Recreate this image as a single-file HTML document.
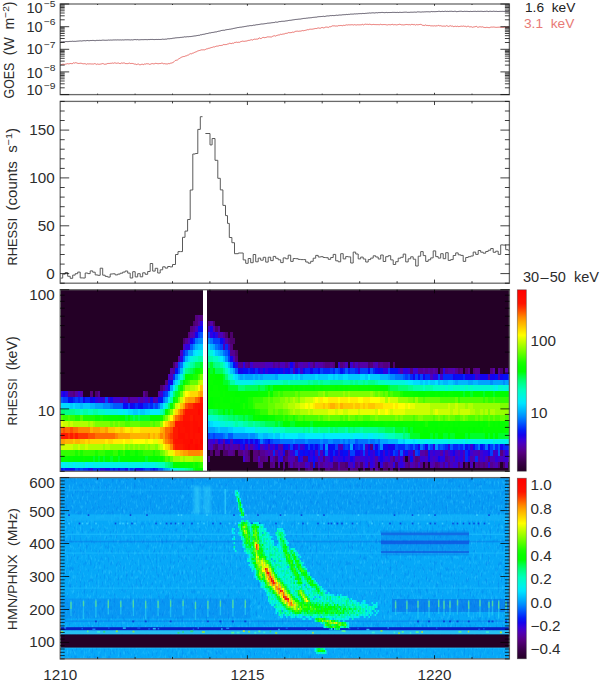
<!DOCTYPE html><html><head><meta charset="utf-8"><style>html,body{margin:0;padding:0;background:#fff;width:600px;height:680px;overflow:hidden}svg{display:block}text{font-family:"Liberation Sans",sans-serif}</style></head><body><svg width="600" height="680" viewBox="0 0 600 680"><defs><linearGradient id="cb" x1="0" y1="0" x2="0" y2="1"><stop offset="0.000" stop-color="#ff0000"/><stop offset="0.025" stop-color="#ff0600"/><stop offset="0.050" stop-color="#ff0d00"/><stop offset="0.075" stop-color="#ff1300"/><stop offset="0.100" stop-color="#ff3400"/><stop offset="0.125" stop-color="#ff5d00"/><stop offset="0.150" stop-color="#ff8600"/><stop offset="0.175" stop-color="#ffa800"/><stop offset="0.200" stop-color="#ffc500"/><stop offset="0.225" stop-color="#ffe200"/><stop offset="0.250" stop-color="#ffff00"/><stop offset="0.275" stop-color="#d7ff00"/><stop offset="0.300" stop-color="#b0ff00"/><stop offset="0.325" stop-color="#8aff00"/><stop offset="0.350" stop-color="#64ff00"/><stop offset="0.375" stop-color="#3eff00"/><stop offset="0.400" stop-color="#19ff00"/><stop offset="0.425" stop-color="#06ff00"/><stop offset="0.450" stop-color="#00ff00"/><stop offset="0.475" stop-color="#00ff3e"/><stop offset="0.500" stop-color="#00ff73"/><stop offset="0.525" stop-color="#00ff99"/><stop offset="0.550" stop-color="#00ffbe"/><stop offset="0.575" stop-color="#00f8d5"/><stop offset="0.600" stop-color="#00f1ec"/><stop offset="0.625" stop-color="#00e5ff"/><stop offset="0.650" stop-color="#00c9ff"/><stop offset="0.675" stop-color="#00acff"/><stop offset="0.700" stop-color="#008cff"/><stop offset="0.725" stop-color="#0067ff"/><stop offset="0.750" stop-color="#0141fd"/><stop offset="0.775" stop-color="#031cf8"/><stop offset="0.800" stop-color="#1403ee"/><stop offset="0.825" stop-color="#3600db"/><stop offset="0.850" stop-color="#4c00bb"/><stop offset="0.875" stop-color="#55009c"/><stop offset="0.900" stop-color="#55007d"/><stop offset="0.925" stop-color="#480064"/><stop offset="0.950" stop-color="#3a004b"/><stop offset="0.975" stop-color="#2f0038"/><stop offset="1.000" stop-color="#240026"/></linearGradient><filter id="bl" x="-20%" y="-20%" width="140%" height="140%"><feGaussianBlur stdDeviation="1.5"/></filter><filter id="nz" x="0" y="0" width="100%" height="100%" color-interpolation-filters="sRGB"><feTurbulence type="fractalNoise" baseFrequency="0.5 0.18" numOctaves="2" seed="4"/><feColorMatrix type="matrix" values="0 0 0 0 0.0  0 0 0 0 0.45  0 0 0 0 0.92  1.5 0 0 0 -0.8"/></filter>
<filter id="nz2" x="0" y="0" width="100%" height="100%" color-interpolation-filters="sRGB"><feTurbulence type="fractalNoise" baseFrequency="0.55 0.2" numOctaves="2" seed="9"/><feColorMatrix type="matrix" values="0 0 0 0 0.2  0 0 0 0 0.8  0 0 0 0 1  0 1.5 0 0 -0.8"/></filter></defs><g shape-rendering="crispEdges"><rect x="60.2" y="289.7" width="449.2" height="181.6" fill="#240026"/><rect x="60.2" y="468.0" width="2.55" height="3.35" fill="#040ff6"/><rect x="62.7" y="468.0" width="2.55" height="3.35" fill="#0328fa"/><rect x="65.2" y="468.0" width="5.05" height="3.35" fill="#040ff6"/><rect x="70.2" y="468.0" width="2.55" height="3.35" fill="#1403ee"/><rect x="72.7" y="468.0" width="2.55" height="3.35" fill="#040ff6"/><rect x="75.2" y="468.0" width="2.55" height="3.35" fill="#0141fd"/><rect x="77.7" y="468.0" width="2.55" height="3.35" fill="#0328fa"/><rect x="80.2" y="468.0" width="2.55" height="3.35" fill="#0141fd"/><rect x="82.7" y="468.0" width="5.05" height="3.35" fill="#0328fa"/><rect x="87.7" y="468.0" width="2.55" height="3.35" fill="#040ff6"/><rect x="90.2" y="468.0" width="2.55" height="3.35" fill="#2d01e3"/><rect x="92.7" y="468.0" width="7.55" height="3.35" fill="#0328fa"/><rect x="100.2" y="468.0" width="5.05" height="3.35" fill="#2d01e3"/><rect x="105.2" y="468.0" width="5.05" height="3.35" fill="#1403ee"/><rect x="110.2" y="468.0" width="2.55" height="3.35" fill="#0328fa"/><rect x="112.7" y="468.0" width="2.55" height="3.35" fill="#040ff6"/><rect x="115.2" y="468.0" width="2.55" height="3.35" fill="#0328fa"/><rect x="117.7" y="468.0" width="2.55" height="3.35" fill="#1403ee"/><rect x="120.2" y="468.0" width="5.05" height="3.35" fill="#0328fa"/><rect x="125.2" y="468.0" width="2.55" height="3.35" fill="#1403ee"/><rect x="127.7" y="468.0" width="2.55" height="3.35" fill="#005aff"/><rect x="130.2" y="468.0" width="2.55" height="3.35" fill="#0328fa"/><rect x="132.7" y="468.0" width="2.55" height="3.35" fill="#0141fd"/><rect x="135.2" y="468.0" width="5.05" height="3.35" fill="#1403ee"/><rect x="140.2" y="468.0" width="2.55" height="3.35" fill="#040ff6"/><rect x="142.7" y="468.0" width="2.55" height="3.35" fill="#0328fa"/><rect x="145.2" y="468.0" width="5.05" height="3.35" fill="#0141fd"/><rect x="150.2" y="468.0" width="2.55" height="3.35" fill="#0328fa"/><rect x="152.7" y="468.0" width="2.55" height="3.35" fill="#040ff6"/><rect x="155.2" y="468.0" width="2.55" height="3.35" fill="#0328fa"/><rect x="157.7" y="468.0" width="5.05" height="3.35" fill="#005aff"/><rect x="162.7" y="468.0" width="2.55" height="3.35" fill="#008cff"/><rect x="165.2" y="468.0" width="2.55" height="3.35" fill="#00a3ff"/><rect x="167.7" y="468.0" width="2.55" height="3.35" fill="#00b6ff"/><rect x="170.2" y="468.0" width="2.55" height="3.35" fill="#00dcff"/><rect x="172.7" y="468.0" width="5.05" height="3.35" fill="#00f1ec"/><rect x="177.7" y="468.0" width="5.05" height="3.35" fill="#00facd"/><rect x="182.7" y="468.0" width="2.55" height="3.35" fill="#00ffbe"/><rect x="185.2" y="468.0" width="2.55" height="3.35" fill="#00ffa5"/><rect x="187.7" y="468.0" width="2.55" height="3.35" fill="#00ff8c"/><rect x="190.2" y="468.0" width="2.55" height="3.35" fill="#00ff73"/><rect x="192.7" y="468.0" width="2.55" height="3.35" fill="#00ff2a"/><rect x="195.2" y="468.0" width="5.05" height="3.35" fill="#00ff00"/><rect x="200.2" y="468.0" width="2.55" height="3.35" fill="#04ff00"/><rect x="282.7" y="468.0" width="2.55" height="3.35" fill="#4c006c"/><rect x="297.7" y="468.0" width="2.55" height="3.35" fill="#550092"/><rect x="305.2" y="468.0" width="2.55" height="3.35" fill="#4c006c"/><rect x="307.7" y="468.0" width="2.55" height="3.35" fill="#550092"/><rect x="310.2" y="468.0" width="2.55" height="3.35" fill="#55007d"/><rect x="317.7" y="468.0" width="2.55" height="3.35" fill="#4c006c"/><rect x="325.2" y="468.0" width="2.55" height="3.35" fill="#55007d"/><rect x="327.7" y="468.0" width="2.55" height="3.35" fill="#550092"/><rect x="330.2" y="468.0" width="7.55" height="3.35" fill="#4c006c"/><rect x="337.7" y="468.0" width="2.55" height="3.35" fill="#5500a7"/><rect x="340.2" y="468.0" width="7.55" height="3.35" fill="#55007d"/><rect x="350.2" y="468.0" width="2.55" height="3.35" fill="#550092"/><rect x="352.7" y="468.0" width="5.05" height="3.35" fill="#55007d"/><rect x="362.7" y="468.0" width="2.55" height="3.35" fill="#55007d"/><rect x="370.2" y="468.0" width="2.55" height="3.35" fill="#550092"/><rect x="375.2" y="468.0" width="2.55" height="3.35" fill="#5500a7"/><rect x="377.7" y="468.0" width="2.55" height="3.35" fill="#4c006c"/><rect x="382.7" y="468.0" width="5.05" height="3.35" fill="#4c006c"/><rect x="390.2" y="468.0" width="2.55" height="3.35" fill="#55007d"/><rect x="397.7" y="468.0" width="2.55" height="3.35" fill="#55007d"/><rect x="60.2" y="462.1" width="2.55" height="5.95" fill="#00f1ec"/><rect x="62.7" y="462.1" width="2.55" height="5.95" fill="#00ecfc"/><rect x="65.2" y="462.1" width="2.55" height="5.95" fill="#00f1ec"/><rect x="67.7" y="462.1" width="2.55" height="5.95" fill="#00f5dd"/><rect x="70.2" y="462.1" width="2.55" height="5.95" fill="#00f1ec"/><rect x="72.7" y="462.1" width="2.55" height="5.95" fill="#00ecfc"/><rect x="75.2" y="462.1" width="7.55" height="5.95" fill="#00f1ec"/><rect x="82.7" y="462.1" width="2.55" height="5.95" fill="#00f5dd"/><rect x="85.2" y="462.1" width="2.55" height="5.95" fill="#00ecfc"/><rect x="87.7" y="462.1" width="2.55" height="5.95" fill="#00f1ec"/><rect x="90.2" y="462.1" width="2.55" height="5.95" fill="#00ecfc"/><rect x="92.7" y="462.1" width="35.05" height="5.95" fill="#00f1ec"/><rect x="127.7" y="462.1" width="2.55" height="5.95" fill="#00f5dd"/><rect x="130.2" y="462.1" width="10.05" height="5.95" fill="#00f1ec"/><rect x="140.2" y="462.1" width="2.55" height="5.95" fill="#00f5dd"/><rect x="142.7" y="462.1" width="2.55" height="5.95" fill="#00f1ec"/><rect x="145.2" y="462.1" width="5.05" height="5.95" fill="#00f5dd"/><rect x="150.2" y="462.1" width="5.05" height="5.95" fill="#00f1ec"/><rect x="155.2" y="462.1" width="2.55" height="5.95" fill="#00f5dd"/><rect x="157.7" y="462.1" width="2.55" height="5.95" fill="#00facd"/><rect x="160.2" y="462.1" width="5.05" height="5.95" fill="#00ffbe"/><rect x="165.2" y="462.1" width="2.55" height="5.95" fill="#00ff8c"/><rect x="167.7" y="462.1" width="2.55" height="5.95" fill="#00ff73"/><rect x="170.2" y="462.1" width="2.55" height="5.95" fill="#00ff53"/><rect x="172.7" y="462.1" width="7.55" height="5.95" fill="#00ff00"/><rect x="180.2" y="462.1" width="5.05" height="5.95" fill="#04ff00"/><rect x="185.2" y="462.1" width="2.55" height="5.95" fill="#08ff00"/><rect x="187.7" y="462.1" width="2.55" height="5.95" fill="#04ff00"/><rect x="190.2" y="462.1" width="2.55" height="5.95" fill="#08ff00"/><rect x="192.7" y="462.1" width="2.55" height="5.95" fill="#19ff00"/><rect x="195.2" y="462.1" width="2.55" height="5.95" fill="#08ff00"/><rect x="197.7" y="462.1" width="2.55" height="5.95" fill="#19ff00"/><rect x="200.2" y="462.1" width="2.55" height="5.95" fill="#32ff00"/><rect x="257.7" y="462.1" width="2.55" height="5.95" fill="#55007d"/><rect x="260.2" y="462.1" width="2.55" height="5.95" fill="#550092"/><rect x="270.2" y="462.1" width="2.55" height="5.95" fill="#55007d"/><rect x="272.7" y="462.1" width="2.55" height="5.95" fill="#550092"/><rect x="277.7" y="462.1" width="2.55" height="5.95" fill="#5500a7"/><rect x="282.7" y="462.1" width="2.55" height="5.95" fill="#550092"/><rect x="287.7" y="462.1" width="2.55" height="5.95" fill="#55007d"/><rect x="290.2" y="462.1" width="2.55" height="5.95" fill="#4c00bb"/><rect x="292.7" y="462.1" width="2.55" height="5.95" fill="#55007d"/><rect x="295.2" y="462.1" width="2.55" height="5.95" fill="#550092"/><rect x="297.7" y="462.1" width="2.55" height="5.95" fill="#5500a7"/><rect x="300.2" y="462.1" width="5.05" height="5.95" fill="#550092"/><rect x="305.2" y="462.1" width="2.55" height="5.95" fill="#3e00d0"/><rect x="307.7" y="462.1" width="2.55" height="5.95" fill="#4c00bb"/><rect x="310.2" y="462.1" width="2.55" height="5.95" fill="#55007d"/><rect x="312.7" y="462.1" width="2.55" height="5.95" fill="#040ff6"/><rect x="315.2" y="462.1" width="2.55" height="5.95" fill="#4c006c"/><rect x="317.7" y="462.1" width="2.55" height="5.95" fill="#4c00bb"/><rect x="320.2" y="462.1" width="2.55" height="5.95" fill="#550092"/><rect x="322.7" y="462.1" width="2.55" height="5.95" fill="#5500a7"/><rect x="325.2" y="462.1" width="2.55" height="5.95" fill="#4c00bb"/><rect x="327.7" y="462.1" width="2.55" height="5.95" fill="#5500a7"/><rect x="330.2" y="462.1" width="2.55" height="5.95" fill="#4c00bb"/><rect x="332.7" y="462.1" width="5.05" height="5.95" fill="#4c006c"/><rect x="337.7" y="462.1" width="2.55" height="5.95" fill="#4c00bb"/><rect x="340.2" y="462.1" width="5.05" height="5.95" fill="#55007d"/><rect x="345.2" y="462.1" width="2.55" height="5.95" fill="#4c006c"/><rect x="347.7" y="462.1" width="2.55" height="5.95" fill="#3e00d0"/><rect x="350.2" y="462.1" width="2.55" height="5.95" fill="#4c00bb"/><rect x="352.7" y="462.1" width="2.55" height="5.95" fill="#2d01e3"/><rect x="355.2" y="462.1" width="2.55" height="5.95" fill="#55007d"/><rect x="357.7" y="462.1" width="2.55" height="5.95" fill="#5500a7"/><rect x="360.2" y="462.1" width="2.55" height="5.95" fill="#4c006c"/><rect x="362.7" y="462.1" width="2.55" height="5.95" fill="#4c00bb"/><rect x="365.2" y="462.1" width="2.55" height="5.95" fill="#2d01e3"/><rect x="367.7" y="462.1" width="2.55" height="5.95" fill="#55007d"/><rect x="370.2" y="462.1" width="2.55" height="5.95" fill="#2d01e3"/><rect x="372.7" y="462.1" width="2.55" height="5.95" fill="#3e00d0"/><rect x="375.2" y="462.1" width="2.55" height="5.95" fill="#550092"/><rect x="380.2" y="462.1" width="2.55" height="5.95" fill="#2d01e3"/><rect x="382.7" y="462.1" width="2.55" height="5.95" fill="#550092"/><rect x="385.2" y="462.1" width="2.55" height="5.95" fill="#55007d"/><rect x="387.7" y="462.1" width="5.05" height="5.95" fill="#5500a7"/><rect x="392.7" y="462.1" width="2.55" height="5.95" fill="#2d01e3"/><rect x="395.2" y="462.1" width="2.55" height="5.95" fill="#4c006c"/><rect x="397.7" y="462.1" width="2.55" height="5.95" fill="#3e00d0"/><rect x="400.2" y="462.1" width="2.55" height="5.95" fill="#2d01e3"/><rect x="402.7" y="462.1" width="2.55" height="5.95" fill="#3e00d0"/><rect x="405.2" y="462.1" width="2.55" height="5.95" fill="#550092"/><rect x="407.7" y="462.1" width="2.55" height="5.95" fill="#55007d"/><rect x="410.2" y="462.1" width="2.55" height="5.95" fill="#4c00bb"/><rect x="412.7" y="462.1" width="2.55" height="5.95" fill="#5500a7"/><rect x="415.2" y="462.1" width="2.55" height="5.95" fill="#550092"/><rect x="417.7" y="462.1" width="2.55" height="5.95" fill="#3e00d0"/><rect x="420.2" y="462.1" width="2.55" height="5.95" fill="#550092"/><rect x="425.2" y="462.1" width="2.55" height="5.95" fill="#55007d"/><rect x="430.2" y="462.1" width="2.55" height="5.95" fill="#4c00bb"/><rect x="432.7" y="462.1" width="2.55" height="5.95" fill="#5500a7"/><rect x="435.2" y="462.1" width="2.55" height="5.95" fill="#55007d"/><rect x="437.7" y="462.1" width="2.55" height="5.95" fill="#550092"/><rect x="440.2" y="462.1" width="2.55" height="5.95" fill="#4c00bb"/><rect x="442.7" y="462.1" width="2.55" height="5.95" fill="#550092"/><rect x="445.2" y="462.1" width="2.55" height="5.95" fill="#3e00d0"/><rect x="447.7" y="462.1" width="2.55" height="5.95" fill="#550092"/><rect x="450.2" y="462.1" width="2.55" height="5.95" fill="#4c00bb"/><rect x="452.7" y="462.1" width="5.05" height="5.95" fill="#3e00d0"/><rect x="457.7" y="462.1" width="2.55" height="5.95" fill="#55007d"/><rect x="460.2" y="462.1" width="2.55" height="5.95" fill="#4c00bb"/><rect x="465.2" y="462.1" width="2.55" height="5.95" fill="#4c006c"/><rect x="470.2" y="462.1" width="2.55" height="5.95" fill="#4c00bb"/><rect x="475.2" y="462.1" width="2.55" height="5.95" fill="#550092"/><rect x="477.7" y="462.1" width="2.55" height="5.95" fill="#55007d"/><rect x="480.2" y="462.1" width="2.55" height="5.95" fill="#550092"/><rect x="482.7" y="462.1" width="2.55" height="5.95" fill="#55007d"/><rect x="485.2" y="462.1" width="2.55" height="5.95" fill="#550092"/><rect x="487.7" y="462.1" width="2.55" height="5.95" fill="#2d01e3"/><rect x="490.2" y="462.1" width="2.55" height="5.95" fill="#550092"/><rect x="492.7" y="462.1" width="2.55" height="5.95" fill="#5500a7"/><rect x="495.2" y="462.1" width="2.55" height="5.95" fill="#4c00bb"/><rect x="497.7" y="462.1" width="2.55" height="5.95" fill="#55007d"/><rect x="502.7" y="462.1" width="2.55" height="5.95" fill="#4c006c"/><rect x="505.2" y="462.1" width="2.55" height="5.95" fill="#4c00bb"/><rect x="60.2" y="456.2" width="2.55" height="5.95" fill="#00ff00"/><rect x="62.7" y="456.2" width="5.05" height="5.95" fill="#04ff00"/><rect x="67.7" y="456.2" width="2.55" height="5.95" fill="#00ff00"/><rect x="70.2" y="456.2" width="2.55" height="5.95" fill="#04ff00"/><rect x="72.7" y="456.2" width="10.05" height="5.95" fill="#00ff00"/><rect x="82.7" y="456.2" width="2.55" height="5.95" fill="#04ff00"/><rect x="85.2" y="456.2" width="7.55" height="5.95" fill="#00ff00"/><rect x="92.7" y="456.2" width="2.55" height="5.95" fill="#00ff2a"/><rect x="95.2" y="456.2" width="2.55" height="5.95" fill="#00ff00"/><rect x="97.7" y="456.2" width="2.55" height="5.95" fill="#00ff2a"/><rect x="100.2" y="456.2" width="2.55" height="5.95" fill="#00ff00"/><rect x="102.7" y="456.2" width="2.55" height="5.95" fill="#00ff2a"/><rect x="105.2" y="456.2" width="5.05" height="5.95" fill="#00ff00"/><rect x="110.2" y="456.2" width="2.55" height="5.95" fill="#00ff2a"/><rect x="112.7" y="456.2" width="5.05" height="5.95" fill="#00ff00"/><rect x="117.7" y="456.2" width="2.55" height="5.95" fill="#00ff2a"/><rect x="120.2" y="456.2" width="17.55" height="5.95" fill="#00ff00"/><rect x="137.7" y="456.2" width="5.05" height="5.95" fill="#04ff00"/><rect x="142.7" y="456.2" width="2.55" height="5.95" fill="#00ff00"/><rect x="145.2" y="456.2" width="2.55" height="5.95" fill="#00ff2a"/><rect x="147.7" y="456.2" width="5.05" height="5.95" fill="#04ff00"/><rect x="152.7" y="456.2" width="5.05" height="5.95" fill="#00ff00"/><rect x="157.7" y="456.2" width="2.55" height="5.95" fill="#08ff00"/><rect x="160.2" y="456.2" width="2.55" height="5.95" fill="#04ff00"/><rect x="162.7" y="456.2" width="2.55" height="5.95" fill="#19ff00"/><rect x="165.2" y="456.2" width="2.55" height="5.95" fill="#4bff00"/><rect x="167.7" y="456.2" width="2.55" height="5.95" fill="#32ff00"/><rect x="170.2" y="456.2" width="2.55" height="5.95" fill="#64ff00"/><rect x="172.7" y="456.2" width="7.55" height="5.95" fill="#96ff00"/><rect x="180.2" y="456.2" width="2.55" height="5.95" fill="#b0ff00"/><rect x="182.7" y="456.2" width="2.55" height="5.95" fill="#96ff00"/><rect x="185.2" y="456.2" width="7.55" height="5.95" fill="#b0ff00"/><rect x="192.7" y="456.2" width="7.55" height="5.95" fill="#96ff00"/><rect x="200.2" y="456.2" width="2.55" height="5.95" fill="#b0ff00"/><rect x="207.7" y="456.2" width="2.55" height="5.95" fill="#55007d"/><rect x="242.7" y="456.2" width="2.55" height="5.95" fill="#3e00d0"/><rect x="245.2" y="456.2" width="2.55" height="5.95" fill="#550092"/><rect x="247.7" y="456.2" width="2.55" height="5.95" fill="#55007d"/><rect x="252.7" y="456.2" width="5.05" height="5.95" fill="#55007d"/><rect x="257.7" y="456.2" width="2.55" height="5.95" fill="#4c00bb"/><rect x="260.2" y="456.2" width="5.05" height="5.95" fill="#55007d"/><rect x="265.2" y="456.2" width="2.55" height="5.95" fill="#550092"/><rect x="270.2" y="456.2" width="2.55" height="5.95" fill="#4c00bb"/><rect x="272.7" y="456.2" width="2.55" height="5.95" fill="#550092"/><rect x="275.2" y="456.2" width="2.55" height="5.95" fill="#4c006c"/><rect x="277.7" y="456.2" width="2.55" height="5.95" fill="#3e00d0"/><rect x="280.2" y="456.2" width="2.55" height="5.95" fill="#2d01e3"/><rect x="282.7" y="456.2" width="2.55" height="5.95" fill="#4c006c"/><rect x="285.2" y="456.2" width="2.55" height="5.95" fill="#55007d"/><rect x="287.7" y="456.2" width="5.05" height="5.95" fill="#4c00bb"/><rect x="292.7" y="456.2" width="2.55" height="5.95" fill="#5500a7"/><rect x="295.2" y="456.2" width="2.55" height="5.95" fill="#55007d"/><rect x="297.7" y="456.2" width="2.55" height="5.95" fill="#040ff6"/><rect x="300.2" y="456.2" width="2.55" height="5.95" fill="#2d01e3"/><rect x="302.7" y="456.2" width="5.05" height="5.95" fill="#55007d"/><rect x="307.7" y="456.2" width="2.55" height="5.95" fill="#040ff6"/><rect x="310.2" y="456.2" width="2.55" height="5.95" fill="#2d01e3"/><rect x="312.7" y="456.2" width="2.55" height="5.95" fill="#040ff6"/><rect x="315.2" y="456.2" width="2.55" height="5.95" fill="#2d01e3"/><rect x="317.7" y="456.2" width="2.55" height="5.95" fill="#5500a7"/><rect x="320.2" y="456.2" width="2.55" height="5.95" fill="#3e00d0"/><rect x="322.7" y="456.2" width="2.55" height="5.95" fill="#55007d"/><rect x="325.2" y="456.2" width="2.55" height="5.95" fill="#4c00bb"/><rect x="327.7" y="456.2" width="2.55" height="5.95" fill="#3e00d0"/><rect x="330.2" y="456.2" width="2.55" height="5.95" fill="#1403ee"/><rect x="332.7" y="456.2" width="2.55" height="5.95" fill="#4c00bb"/><rect x="335.2" y="456.2" width="2.55" height="5.95" fill="#3e00d0"/><rect x="337.7" y="456.2" width="5.05" height="5.95" fill="#2d01e3"/><rect x="342.7" y="456.2" width="2.55" height="5.95" fill="#1403ee"/><rect x="345.2" y="456.2" width="2.55" height="5.95" fill="#2d01e3"/><rect x="347.7" y="456.2" width="2.55" height="5.95" fill="#3e00d0"/><rect x="350.2" y="456.2" width="2.55" height="5.95" fill="#1403ee"/><rect x="352.7" y="456.2" width="2.55" height="5.95" fill="#2d01e3"/><rect x="355.2" y="456.2" width="5.05" height="5.95" fill="#4c00bb"/><rect x="360.2" y="456.2" width="5.05" height="5.95" fill="#3e00d0"/><rect x="365.2" y="456.2" width="2.55" height="5.95" fill="#2d01e3"/><rect x="367.7" y="456.2" width="2.55" height="5.95" fill="#3e00d0"/><rect x="370.2" y="456.2" width="2.55" height="5.95" fill="#2d01e3"/><rect x="372.7" y="456.2" width="2.55" height="5.95" fill="#3e00d0"/><rect x="375.2" y="456.2" width="2.55" height="5.95" fill="#5500a7"/><rect x="377.7" y="456.2" width="2.55" height="5.95" fill="#2d01e3"/><rect x="380.2" y="456.2" width="2.55" height="5.95" fill="#1403ee"/><rect x="382.7" y="456.2" width="2.55" height="5.95" fill="#2d01e3"/><rect x="385.2" y="456.2" width="2.55" height="5.95" fill="#3e00d0"/><rect x="387.7" y="456.2" width="2.55" height="5.95" fill="#2d01e3"/><rect x="390.2" y="456.2" width="2.55" height="5.95" fill="#5500a7"/><rect x="392.7" y="456.2" width="2.55" height="5.95" fill="#55007d"/><rect x="395.2" y="456.2" width="2.55" height="5.95" fill="#3e00d0"/><rect x="397.7" y="456.2" width="2.55" height="5.95" fill="#5500a7"/><rect x="400.2" y="456.2" width="2.55" height="5.95" fill="#2d01e3"/><rect x="402.7" y="456.2" width="2.55" height="5.95" fill="#550092"/><rect x="407.7" y="456.2" width="2.55" height="5.95" fill="#550092"/><rect x="410.2" y="456.2" width="2.55" height="5.95" fill="#040ff6"/><rect x="412.7" y="456.2" width="2.55" height="5.95" fill="#5500a7"/><rect x="415.2" y="456.2" width="2.55" height="5.95" fill="#55007d"/><rect x="417.7" y="456.2" width="2.55" height="5.95" fill="#550092"/><rect x="420.2" y="456.2" width="5.05" height="5.95" fill="#3e00d0"/><rect x="425.2" y="456.2" width="2.55" height="5.95" fill="#4c00bb"/><rect x="427.7" y="456.2" width="2.55" height="5.95" fill="#1403ee"/><rect x="430.2" y="456.2" width="2.55" height="5.95" fill="#3e00d0"/><rect x="432.7" y="456.2" width="2.55" height="5.95" fill="#4c00bb"/><rect x="435.2" y="456.2" width="2.55" height="5.95" fill="#3e00d0"/><rect x="437.7" y="456.2" width="2.55" height="5.95" fill="#1403ee"/><rect x="440.2" y="456.2" width="5.05" height="5.95" fill="#2d01e3"/><rect x="445.2" y="456.2" width="2.55" height="5.95" fill="#550092"/><rect x="447.7" y="456.2" width="2.55" height="5.95" fill="#5500a7"/><rect x="450.2" y="456.2" width="2.55" height="5.95" fill="#3e00d0"/><rect x="452.7" y="456.2" width="2.55" height="5.95" fill="#5500a7"/><rect x="455.2" y="456.2" width="2.55" height="5.95" fill="#2d01e3"/><rect x="457.7" y="456.2" width="2.55" height="5.95" fill="#3e00d0"/><rect x="460.2" y="456.2" width="2.55" height="5.95" fill="#2d01e3"/><rect x="462.7" y="456.2" width="2.55" height="5.95" fill="#5500a7"/><rect x="465.2" y="456.2" width="2.55" height="5.95" fill="#0328fa"/><rect x="467.7" y="456.2" width="2.55" height="5.95" fill="#2d01e3"/><rect x="470.2" y="456.2" width="2.55" height="5.95" fill="#5500a7"/><rect x="472.7" y="456.2" width="2.55" height="5.95" fill="#4c00bb"/><rect x="475.2" y="456.2" width="2.55" height="5.95" fill="#0328fa"/><rect x="477.7" y="456.2" width="2.55" height="5.95" fill="#5500a7"/><rect x="480.2" y="456.2" width="2.55" height="5.95" fill="#3e00d0"/><rect x="482.7" y="456.2" width="2.55" height="5.95" fill="#2d01e3"/><rect x="485.2" y="456.2" width="2.55" height="5.95" fill="#4c00bb"/><rect x="487.7" y="456.2" width="2.55" height="5.95" fill="#55007d"/><rect x="490.2" y="456.2" width="5.05" height="5.95" fill="#4c00bb"/><rect x="495.2" y="456.2" width="2.55" height="5.95" fill="#2d01e3"/><rect x="497.7" y="456.2" width="2.55" height="5.95" fill="#3e00d0"/><rect x="500.2" y="456.2" width="2.55" height="5.95" fill="#4c00bb"/><rect x="502.7" y="456.2" width="5.05" height="5.95" fill="#3e00d0"/><rect x="507.7" y="456.2" width="1.75" height="5.95" fill="#4c00bb"/><rect x="60.2" y="450.3" width="15.05" height="5.95" fill="#32ff00"/><rect x="75.2" y="450.3" width="2.55" height="5.95" fill="#19ff00"/><rect x="77.7" y="450.3" width="2.55" height="5.95" fill="#32ff00"/><rect x="80.2" y="450.3" width="2.55" height="5.95" fill="#19ff00"/><rect x="82.7" y="450.3" width="12.55" height="5.95" fill="#32ff00"/><rect x="95.2" y="450.3" width="2.55" height="5.95" fill="#19ff00"/><rect x="97.7" y="450.3" width="7.55" height="5.95" fill="#32ff00"/><rect x="105.2" y="450.3" width="7.55" height="5.95" fill="#19ff00"/><rect x="112.7" y="450.3" width="5.05" height="5.95" fill="#32ff00"/><rect x="117.7" y="450.3" width="2.55" height="5.95" fill="#08ff00"/><rect x="120.2" y="450.3" width="2.55" height="5.95" fill="#19ff00"/><rect x="122.7" y="450.3" width="2.55" height="5.95" fill="#32ff00"/><rect x="125.2" y="450.3" width="5.05" height="5.95" fill="#08ff00"/><rect x="130.2" y="450.3" width="5.05" height="5.95" fill="#19ff00"/><rect x="135.2" y="450.3" width="2.55" height="5.95" fill="#08ff00"/><rect x="137.7" y="450.3" width="5.05" height="5.95" fill="#19ff00"/><rect x="142.7" y="450.3" width="10.05" height="5.95" fill="#32ff00"/><rect x="152.7" y="450.3" width="2.55" height="5.95" fill="#19ff00"/><rect x="155.2" y="450.3" width="5.05" height="5.95" fill="#32ff00"/><rect x="160.2" y="450.3" width="2.55" height="5.95" fill="#64ff00"/><rect x="162.7" y="450.3" width="2.55" height="5.95" fill="#7dff00"/><rect x="165.2" y="450.3" width="2.55" height="5.95" fill="#b0ff00"/><rect x="167.7" y="450.3" width="5.05" height="5.95" fill="#e5ff00"/><rect x="172.7" y="450.3" width="2.55" height="5.95" fill="#ffec00"/><rect x="175.2" y="450.3" width="5.05" height="5.95" fill="#ffc500"/><rect x="180.2" y="450.3" width="2.55" height="5.95" fill="#ffb100"/><rect x="182.7" y="450.3" width="5.05" height="5.95" fill="#ff9e00"/><rect x="187.7" y="450.3" width="12.55" height="5.95" fill="#ff8600"/><rect x="200.2" y="450.3" width="2.55" height="5.95" fill="#ff9e00"/><rect x="210.2" y="450.3" width="2.55" height="5.95" fill="#4c006c"/><rect x="215.2" y="450.3" width="5.05" height="5.95" fill="#55007d"/><rect x="222.7" y="450.3" width="5.05" height="5.95" fill="#4c006c"/><rect x="227.7" y="450.3" width="5.05" height="5.95" fill="#550092"/><rect x="232.7" y="450.3" width="2.55" height="5.95" fill="#55007d"/><rect x="237.7" y="450.3" width="5.05" height="5.95" fill="#55007d"/><rect x="242.7" y="450.3" width="2.55" height="5.95" fill="#5500a7"/><rect x="245.2" y="450.3" width="2.55" height="5.95" fill="#550092"/><rect x="247.7" y="450.3" width="2.55" height="5.95" fill="#4c006c"/><rect x="252.7" y="450.3" width="5.05" height="5.95" fill="#55007d"/><rect x="257.7" y="450.3" width="2.55" height="5.95" fill="#4c006c"/><rect x="260.2" y="450.3" width="5.05" height="5.95" fill="#550092"/><rect x="265.2" y="450.3" width="2.55" height="5.95" fill="#5500a7"/><rect x="267.7" y="450.3" width="2.55" height="5.95" fill="#4c00bb"/><rect x="270.2" y="450.3" width="2.55" height="5.95" fill="#5500a7"/><rect x="272.7" y="450.3" width="2.55" height="5.95" fill="#0328fa"/><rect x="275.2" y="450.3" width="2.55" height="5.95" fill="#5500a7"/><rect x="277.7" y="450.3" width="2.55" height="5.95" fill="#2d01e3"/><rect x="280.2" y="450.3" width="2.55" height="5.95" fill="#4c00bb"/><rect x="282.7" y="450.3" width="2.55" height="5.95" fill="#1403ee"/><rect x="285.2" y="450.3" width="2.55" height="5.95" fill="#4c006c"/><rect x="287.7" y="450.3" width="2.55" height="5.95" fill="#5500a7"/><rect x="290.2" y="450.3" width="2.55" height="5.95" fill="#3e00d0"/><rect x="292.7" y="450.3" width="2.55" height="5.95" fill="#2d01e3"/><rect x="295.2" y="450.3" width="2.55" height="5.95" fill="#0141fd"/><rect x="297.7" y="450.3" width="2.55" height="5.95" fill="#2d01e3"/><rect x="300.2" y="450.3" width="2.55" height="5.95" fill="#040ff6"/><rect x="302.7" y="450.3" width="2.55" height="5.95" fill="#1403ee"/><rect x="305.2" y="450.3" width="2.55" height="5.95" fill="#040ff6"/><rect x="307.7" y="450.3" width="2.55" height="5.95" fill="#1403ee"/><rect x="310.2" y="450.3" width="2.55" height="5.95" fill="#2d01e3"/><rect x="312.7" y="450.3" width="2.55" height="5.95" fill="#1403ee"/><rect x="315.2" y="450.3" width="2.55" height="5.95" fill="#4c00bb"/><rect x="317.7" y="450.3" width="2.55" height="5.95" fill="#0328fa"/><rect x="320.2" y="450.3" width="2.55" height="5.95" fill="#4c00bb"/><rect x="322.7" y="450.3" width="2.55" height="5.95" fill="#1403ee"/><rect x="325.2" y="450.3" width="2.55" height="5.95" fill="#005aff"/><rect x="327.7" y="450.3" width="2.55" height="5.95" fill="#2d01e3"/><rect x="330.2" y="450.3" width="2.55" height="5.95" fill="#1403ee"/><rect x="332.7" y="450.3" width="2.55" height="5.95" fill="#0328fa"/><rect x="335.2" y="450.3" width="2.55" height="5.95" fill="#1403ee"/><rect x="337.7" y="450.3" width="2.55" height="5.95" fill="#3e00d0"/><rect x="340.2" y="450.3" width="2.55" height="5.95" fill="#1403ee"/><rect x="342.7" y="450.3" width="5.05" height="5.95" fill="#040ff6"/><rect x="347.7" y="450.3" width="2.55" height="5.95" fill="#3e00d0"/><rect x="350.2" y="450.3" width="5.05" height="5.95" fill="#0141fd"/><rect x="355.2" y="450.3" width="5.05" height="5.95" fill="#1403ee"/><rect x="360.2" y="450.3" width="2.55" height="5.95" fill="#2d01e3"/><rect x="362.7" y="450.3" width="2.55" height="5.95" fill="#0141fd"/><rect x="365.2" y="450.3" width="2.55" height="5.95" fill="#3e00d0"/><rect x="367.7" y="450.3" width="2.55" height="5.95" fill="#040ff6"/><rect x="370.2" y="450.3" width="2.55" height="5.95" fill="#2d01e3"/><rect x="372.7" y="450.3" width="2.55" height="5.95" fill="#3e00d0"/><rect x="375.2" y="450.3" width="2.55" height="5.95" fill="#040ff6"/><rect x="377.7" y="450.3" width="2.55" height="5.95" fill="#0328fa"/><rect x="380.2" y="450.3" width="2.55" height="5.95" fill="#1403ee"/><rect x="382.7" y="450.3" width="2.55" height="5.95" fill="#3e00d0"/><rect x="385.2" y="450.3" width="2.55" height="5.95" fill="#040ff6"/><rect x="387.7" y="450.3" width="2.55" height="5.95" fill="#2d01e3"/><rect x="390.2" y="450.3" width="2.55" height="5.95" fill="#1403ee"/><rect x="392.7" y="450.3" width="2.55" height="5.95" fill="#0141fd"/><rect x="395.2" y="450.3" width="2.55" height="5.95" fill="#0328fa"/><rect x="397.7" y="450.3" width="2.55" height="5.95" fill="#3e00d0"/><rect x="400.2" y="450.3" width="2.55" height="5.95" fill="#005aff"/><rect x="402.7" y="450.3" width="2.55" height="5.95" fill="#2d01e3"/><rect x="405.2" y="450.3" width="2.55" height="5.95" fill="#040ff6"/><rect x="407.7" y="450.3" width="2.55" height="5.95" fill="#3e00d0"/><rect x="410.2" y="450.3" width="2.55" height="5.95" fill="#2d01e3"/><rect x="412.7" y="450.3" width="2.55" height="5.95" fill="#550092"/><rect x="415.2" y="450.3" width="2.55" height="5.95" fill="#0141fd"/><rect x="417.7" y="450.3" width="2.55" height="5.95" fill="#0328fa"/><rect x="420.2" y="450.3" width="5.05" height="5.95" fill="#5500a7"/><rect x="425.2" y="450.3" width="2.55" height="5.95" fill="#550092"/><rect x="427.7" y="450.3" width="2.55" height="5.95" fill="#040ff6"/><rect x="430.2" y="450.3" width="2.55" height="5.95" fill="#3e00d0"/><rect x="432.7" y="450.3" width="2.55" height="5.95" fill="#2d01e3"/><rect x="435.2" y="450.3" width="5.05" height="5.95" fill="#3e00d0"/><rect x="440.2" y="450.3" width="2.55" height="5.95" fill="#5500a7"/><rect x="442.7" y="450.3" width="2.55" height="5.95" fill="#2d01e3"/><rect x="445.2" y="450.3" width="2.55" height="5.95" fill="#5500a7"/><rect x="447.7" y="450.3" width="2.55" height="5.95" fill="#3e00d0"/><rect x="450.2" y="450.3" width="2.55" height="5.95" fill="#2d01e3"/><rect x="452.7" y="450.3" width="2.55" height="5.95" fill="#1403ee"/><rect x="455.2" y="450.3" width="2.55" height="5.95" fill="#3e00d0"/><rect x="457.7" y="450.3" width="2.55" height="5.95" fill="#4c00bb"/><rect x="460.2" y="450.3" width="2.55" height="5.95" fill="#2d01e3"/><rect x="462.7" y="450.3" width="2.55" height="5.95" fill="#4c00bb"/><rect x="465.2" y="450.3" width="2.55" height="5.95" fill="#0328fa"/><rect x="467.7" y="450.3" width="2.55" height="5.95" fill="#1403ee"/><rect x="470.2" y="450.3" width="2.55" height="5.95" fill="#3e00d0"/><rect x="472.7" y="450.3" width="5.05" height="5.95" fill="#4c00bb"/><rect x="477.7" y="450.3" width="2.55" height="5.95" fill="#5500a7"/><rect x="480.2" y="450.3" width="2.55" height="5.95" fill="#3e00d0"/><rect x="482.7" y="450.3" width="5.05" height="5.95" fill="#2d01e3"/><rect x="487.7" y="450.3" width="2.55" height="5.95" fill="#1403ee"/><rect x="490.2" y="450.3" width="2.55" height="5.95" fill="#0141fd"/><rect x="492.7" y="450.3" width="2.55" height="5.95" fill="#4c00bb"/><rect x="495.2" y="450.3" width="2.55" height="5.95" fill="#3e00d0"/><rect x="497.7" y="450.3" width="2.55" height="5.95" fill="#005aff"/><rect x="500.2" y="450.3" width="2.55" height="5.95" fill="#55007d"/><rect x="502.7" y="450.3" width="2.55" height="5.95" fill="#4c00bb"/><rect x="505.2" y="450.3" width="4.25" height="5.95" fill="#2d01e3"/><rect x="60.2" y="444.4" width="12.55" height="5.95" fill="#caff00"/><rect x="72.7" y="444.4" width="5.05" height="5.95" fill="#b0ff00"/><rect x="77.7" y="444.4" width="2.55" height="5.95" fill="#caff00"/><rect x="80.2" y="444.4" width="5.05" height="5.95" fill="#b0ff00"/><rect x="85.2" y="444.4" width="2.55" height="5.95" fill="#caff00"/><rect x="87.7" y="444.4" width="15.05" height="5.95" fill="#b0ff00"/><rect x="102.7" y="444.4" width="2.55" height="5.95" fill="#96ff00"/><rect x="105.2" y="444.4" width="5.05" height="5.95" fill="#b0ff00"/><rect x="110.2" y="444.4" width="12.55" height="5.95" fill="#96ff00"/><rect x="122.7" y="444.4" width="2.55" height="5.95" fill="#b0ff00"/><rect x="125.2" y="444.4" width="2.55" height="5.95" fill="#7dff00"/><rect x="127.7" y="444.4" width="2.55" height="5.95" fill="#96ff00"/><rect x="130.2" y="444.4" width="2.55" height="5.95" fill="#7dff00"/><rect x="132.7" y="444.4" width="2.55" height="5.95" fill="#96ff00"/><rect x="135.2" y="444.4" width="2.55" height="5.95" fill="#7dff00"/><rect x="137.7" y="444.4" width="2.55" height="5.95" fill="#96ff00"/><rect x="140.2" y="444.4" width="5.05" height="5.95" fill="#7dff00"/><rect x="145.2" y="444.4" width="2.55" height="5.95" fill="#96ff00"/><rect x="147.7" y="444.4" width="2.55" height="5.95" fill="#7dff00"/><rect x="150.2" y="444.4" width="5.05" height="5.95" fill="#96ff00"/><rect x="155.2" y="444.4" width="2.55" height="5.95" fill="#7dff00"/><rect x="157.7" y="444.4" width="2.55" height="5.95" fill="#b0ff00"/><rect x="160.2" y="444.4" width="2.55" height="5.95" fill="#caff00"/><rect x="162.7" y="444.4" width="2.55" height="5.95" fill="#ffff00"/><rect x="165.2" y="444.4" width="2.55" height="5.95" fill="#ffd800"/><rect x="167.7" y="444.4" width="2.55" height="5.95" fill="#ffc500"/><rect x="170.2" y="444.4" width="2.55" height="5.95" fill="#ff8600"/><rect x="172.7" y="444.4" width="2.55" height="5.95" fill="#ff3400"/><rect x="175.2" y="444.4" width="7.55" height="5.95" fill="#ff1900"/><rect x="182.7" y="444.4" width="2.55" height="5.95" fill="#ff1100"/><rect x="185.2" y="444.4" width="2.55" height="5.95" fill="#ff0d00"/><rect x="187.7" y="444.4" width="2.55" height="5.95" fill="#ff0800"/><rect x="190.2" y="444.4" width="5.05" height="5.95" fill="#ff0d00"/><rect x="195.2" y="444.4" width="2.55" height="5.95" fill="#ff0800"/><rect x="197.7" y="444.4" width="5.05" height="5.95" fill="#ff0d00"/><rect x="207.7" y="444.4" width="5.05" height="5.95" fill="#4c00bb"/><rect x="212.7" y="444.4" width="2.55" height="5.95" fill="#55007d"/><rect x="215.2" y="444.4" width="2.55" height="5.95" fill="#4c006c"/><rect x="217.7" y="444.4" width="5.05" height="5.95" fill="#5500a7"/><rect x="222.7" y="444.4" width="2.55" height="5.95" fill="#4c006c"/><rect x="225.2" y="444.4" width="2.55" height="5.95" fill="#5500a7"/><rect x="227.7" y="444.4" width="2.55" height="5.95" fill="#550092"/><rect x="230.2" y="444.4" width="2.55" height="5.95" fill="#4c00bb"/><rect x="232.7" y="444.4" width="5.05" height="5.95" fill="#5500a7"/><rect x="237.7" y="444.4" width="2.55" height="5.95" fill="#550092"/><rect x="240.2" y="444.4" width="2.55" height="5.95" fill="#2d01e3"/><rect x="242.7" y="444.4" width="2.55" height="5.95" fill="#1403ee"/><rect x="245.2" y="444.4" width="2.55" height="5.95" fill="#5500a7"/><rect x="247.7" y="444.4" width="2.55" height="5.95" fill="#2d01e3"/><rect x="250.2" y="444.4" width="2.55" height="5.95" fill="#5500a7"/><rect x="252.7" y="444.4" width="2.55" height="5.95" fill="#3e00d0"/><rect x="255.2" y="444.4" width="2.55" height="5.95" fill="#2d01e3"/><rect x="257.7" y="444.4" width="2.55" height="5.95" fill="#040ff6"/><rect x="260.2" y="444.4" width="2.55" height="5.95" fill="#4c00bb"/><rect x="262.7" y="444.4" width="2.55" height="5.95" fill="#3e00d0"/><rect x="265.2" y="444.4" width="2.55" height="5.95" fill="#2d01e3"/><rect x="267.7" y="444.4" width="2.55" height="5.95" fill="#5500a7"/><rect x="270.2" y="444.4" width="2.55" height="5.95" fill="#2d01e3"/><rect x="272.7" y="444.4" width="2.55" height="5.95" fill="#3e00d0"/><rect x="275.2" y="444.4" width="2.55" height="5.95" fill="#1403ee"/><rect x="277.7" y="444.4" width="2.55" height="5.95" fill="#4c00bb"/><rect x="280.2" y="444.4" width="2.55" height="5.95" fill="#5500a7"/><rect x="282.7" y="444.4" width="2.55" height="5.95" fill="#1403ee"/><rect x="285.2" y="444.4" width="2.55" height="5.95" fill="#040ff6"/><rect x="287.7" y="444.4" width="2.55" height="5.95" fill="#2d01e3"/><rect x="290.2" y="444.4" width="2.55" height="5.95" fill="#0141fd"/><rect x="292.7" y="444.4" width="2.55" height="5.95" fill="#1403ee"/><rect x="295.2" y="444.4" width="2.55" height="5.95" fill="#2d01e3"/><rect x="297.7" y="444.4" width="2.55" height="5.95" fill="#0328fa"/><rect x="300.2" y="444.4" width="2.55" height="5.95" fill="#3e00d0"/><rect x="302.7" y="444.4" width="2.55" height="5.95" fill="#2d01e3"/><rect x="305.2" y="444.4" width="2.55" height="5.95" fill="#040ff6"/><rect x="307.7" y="444.4" width="2.55" height="5.95" fill="#0141fd"/><rect x="310.2" y="444.4" width="2.55" height="5.95" fill="#040ff6"/><rect x="312.7" y="444.4" width="2.55" height="5.95" fill="#0328fa"/><rect x="315.2" y="444.4" width="2.55" height="5.95" fill="#1403ee"/><rect x="317.7" y="444.4" width="2.55" height="5.95" fill="#0328fa"/><rect x="320.2" y="444.4" width="2.55" height="5.95" fill="#005aff"/><rect x="322.7" y="444.4" width="2.55" height="5.95" fill="#1403ee"/><rect x="325.2" y="444.4" width="2.55" height="5.95" fill="#008cff"/><rect x="327.7" y="444.4" width="2.55" height="5.95" fill="#1403ee"/><rect x="330.2" y="444.4" width="5.05" height="5.95" fill="#040ff6"/><rect x="335.2" y="444.4" width="2.55" height="5.95" fill="#0141fd"/><rect x="337.7" y="444.4" width="2.55" height="5.95" fill="#3e00d0"/><rect x="340.2" y="444.4" width="2.55" height="5.95" fill="#4c00bb"/><rect x="342.7" y="444.4" width="2.55" height="5.95" fill="#0328fa"/><rect x="345.2" y="444.4" width="2.55" height="5.95" fill="#0141fd"/><rect x="347.7" y="444.4" width="2.55" height="5.95" fill="#0328fa"/><rect x="350.2" y="444.4" width="2.55" height="5.95" fill="#00a3ff"/><rect x="352.7" y="444.4" width="2.55" height="5.95" fill="#040ff6"/><rect x="355.2" y="444.4" width="2.55" height="5.95" fill="#0328fa"/><rect x="357.7" y="444.4" width="2.55" height="5.95" fill="#0141fd"/><rect x="360.2" y="444.4" width="2.55" height="5.95" fill="#0328fa"/><rect x="362.7" y="444.4" width="2.55" height="5.95" fill="#0073ff"/><rect x="365.2" y="444.4" width="2.55" height="5.95" fill="#3e00d0"/><rect x="367.7" y="444.4" width="2.55" height="5.95" fill="#1403ee"/><rect x="370.2" y="444.4" width="2.55" height="5.95" fill="#55007d"/><rect x="372.7" y="444.4" width="2.55" height="5.95" fill="#0141fd"/><rect x="375.2" y="444.4" width="2.55" height="5.95" fill="#1403ee"/><rect x="377.7" y="444.4" width="2.55" height="5.95" fill="#0141fd"/><rect x="380.2" y="444.4" width="2.55" height="5.95" fill="#008cff"/><rect x="382.7" y="444.4" width="5.05" height="5.95" fill="#040ff6"/><rect x="387.7" y="444.4" width="7.55" height="5.95" fill="#1403ee"/><rect x="395.2" y="444.4" width="2.55" height="5.95" fill="#0141fd"/><rect x="397.7" y="444.4" width="7.55" height="5.95" fill="#0328fa"/><rect x="405.2" y="444.4" width="2.55" height="5.95" fill="#005aff"/><rect x="407.7" y="444.4" width="2.55" height="5.95" fill="#0141fd"/><rect x="410.2" y="444.4" width="2.55" height="5.95" fill="#0328fa"/><rect x="412.7" y="444.4" width="2.55" height="5.95" fill="#005aff"/><rect x="415.2" y="444.4" width="2.55" height="5.95" fill="#0328fa"/><rect x="417.7" y="444.4" width="2.55" height="5.95" fill="#1403ee"/><rect x="420.2" y="444.4" width="2.55" height="5.95" fill="#0073ff"/><rect x="422.7" y="444.4" width="2.55" height="5.95" fill="#0141fd"/><rect x="425.2" y="444.4" width="2.55" height="5.95" fill="#1403ee"/><rect x="427.7" y="444.4" width="2.55" height="5.95" fill="#0073ff"/><rect x="430.2" y="444.4" width="2.55" height="5.95" fill="#0141fd"/><rect x="432.7" y="444.4" width="2.55" height="5.95" fill="#2d01e3"/><rect x="435.2" y="444.4" width="2.55" height="5.95" fill="#008cff"/><rect x="437.7" y="444.4" width="2.55" height="5.95" fill="#0141fd"/><rect x="440.2" y="444.4" width="2.55" height="5.95" fill="#005aff"/><rect x="442.7" y="444.4" width="2.55" height="5.95" fill="#0141fd"/><rect x="445.2" y="444.4" width="2.55" height="5.95" fill="#0328fa"/><rect x="447.7" y="444.4" width="2.55" height="5.95" fill="#2d01e3"/><rect x="450.2" y="444.4" width="2.55" height="5.95" fill="#005aff"/><rect x="452.7" y="444.4" width="5.05" height="5.95" fill="#0328fa"/><rect x="457.7" y="444.4" width="2.55" height="5.95" fill="#0141fd"/><rect x="460.2" y="444.4" width="2.55" height="5.95" fill="#0328fa"/><rect x="462.7" y="444.4" width="2.55" height="5.95" fill="#005aff"/><rect x="465.2" y="444.4" width="2.55" height="5.95" fill="#040ff6"/><rect x="467.7" y="444.4" width="2.55" height="5.95" fill="#0328fa"/><rect x="470.2" y="444.4" width="2.55" height="5.95" fill="#3e00d0"/><rect x="472.7" y="444.4" width="2.55" height="5.95" fill="#040ff6"/><rect x="475.2" y="444.4" width="2.55" height="5.95" fill="#0141fd"/><rect x="477.7" y="444.4" width="2.55" height="5.95" fill="#0073ff"/><rect x="480.2" y="444.4" width="2.55" height="5.95" fill="#040ff6"/><rect x="482.7" y="444.4" width="2.55" height="5.95" fill="#0328fa"/><rect x="485.2" y="444.4" width="2.55" height="5.95" fill="#0073ff"/><rect x="487.7" y="444.4" width="2.55" height="5.95" fill="#040ff6"/><rect x="490.2" y="444.4" width="2.55" height="5.95" fill="#0141fd"/><rect x="492.7" y="444.4" width="2.55" height="5.95" fill="#0073ff"/><rect x="495.2" y="444.4" width="2.55" height="5.95" fill="#0328fa"/><rect x="497.7" y="444.4" width="2.55" height="5.95" fill="#005aff"/><rect x="500.2" y="444.4" width="2.55" height="5.95" fill="#1403ee"/><rect x="502.7" y="444.4" width="6.75" height="5.95" fill="#0328fa"/><rect x="60.2" y="438.5" width="5.05" height="5.95" fill="#ff9e00"/><rect x="65.2" y="438.5" width="7.55" height="5.95" fill="#ffb100"/><rect x="72.7" y="438.5" width="2.55" height="5.95" fill="#ffc500"/><rect x="75.2" y="438.5" width="5.05" height="5.95" fill="#ffb100"/><rect x="80.2" y="438.5" width="5.05" height="5.95" fill="#ffc500"/><rect x="85.2" y="438.5" width="2.55" height="5.95" fill="#ffd800"/><rect x="87.7" y="438.5" width="2.55" height="5.95" fill="#ffc500"/><rect x="90.2" y="438.5" width="15.05" height="5.95" fill="#ffd800"/><rect x="105.2" y="438.5" width="2.55" height="5.95" fill="#ffec00"/><rect x="107.7" y="438.5" width="5.05" height="5.95" fill="#ffd800"/><rect x="112.7" y="438.5" width="10.05" height="5.95" fill="#ffec00"/><rect x="122.7" y="438.5" width="2.55" height="5.95" fill="#ffff00"/><rect x="125.2" y="438.5" width="5.05" height="5.95" fill="#ffec00"/><rect x="130.2" y="438.5" width="2.55" height="5.95" fill="#e5ff00"/><rect x="132.7" y="438.5" width="12.55" height="5.95" fill="#ffff00"/><rect x="145.2" y="438.5" width="2.55" height="5.95" fill="#e5ff00"/><rect x="147.7" y="438.5" width="5.05" height="5.95" fill="#ffff00"/><rect x="152.7" y="438.5" width="5.05" height="5.95" fill="#e5ff00"/><rect x="157.7" y="438.5" width="5.05" height="5.95" fill="#ffec00"/><rect x="162.7" y="438.5" width="2.55" height="5.95" fill="#ffb100"/><rect x="165.2" y="438.5" width="2.55" height="5.95" fill="#ff8600"/><rect x="167.7" y="438.5" width="2.55" height="5.95" fill="#ff6b00"/><rect x="170.2" y="438.5" width="2.55" height="5.95" fill="#ff5000"/><rect x="172.7" y="438.5" width="2.55" height="5.95" fill="#ff1900"/><rect x="175.2" y="438.5" width="7.55" height="5.95" fill="#ff1100"/><rect x="182.7" y="438.5" width="7.55" height="5.95" fill="#ff0d00"/><rect x="190.2" y="438.5" width="2.55" height="5.95" fill="#ff0800"/><rect x="192.7" y="438.5" width="2.55" height="5.95" fill="#ff1100"/><rect x="195.2" y="438.5" width="2.55" height="5.95" fill="#ff0d00"/><rect x="197.7" y="438.5" width="2.55" height="5.95" fill="#ff1100"/><rect x="200.2" y="438.5" width="2.55" height="5.95" fill="#ff0800"/><rect x="207.7" y="438.5" width="2.55" height="5.95" fill="#4c00bb"/><rect x="210.2" y="438.5" width="2.55" height="5.95" fill="#3e00d0"/><rect x="212.7" y="438.5" width="2.55" height="5.95" fill="#2d01e3"/><rect x="215.2" y="438.5" width="2.55" height="5.95" fill="#4c00bb"/><rect x="217.7" y="438.5" width="2.55" height="5.95" fill="#1403ee"/><rect x="220.2" y="438.5" width="2.55" height="5.95" fill="#2d01e3"/><rect x="222.7" y="438.5" width="2.55" height="5.95" fill="#5500a7"/><rect x="225.2" y="438.5" width="2.55" height="5.95" fill="#1403ee"/><rect x="227.7" y="438.5" width="2.55" height="5.95" fill="#040ff6"/><rect x="230.2" y="438.5" width="2.55" height="5.95" fill="#4c00bb"/><rect x="232.7" y="438.5" width="2.55" height="5.95" fill="#040ff6"/><rect x="235.2" y="438.5" width="5.05" height="5.95" fill="#1403ee"/><rect x="240.2" y="438.5" width="2.55" height="5.95" fill="#040ff6"/><rect x="242.7" y="438.5" width="2.55" height="5.95" fill="#0328fa"/><rect x="245.2" y="438.5" width="2.55" height="5.95" fill="#1403ee"/><rect x="247.7" y="438.5" width="2.55" height="5.95" fill="#0328fa"/><rect x="250.2" y="438.5" width="2.55" height="5.95" fill="#1403ee"/><rect x="252.7" y="438.5" width="2.55" height="5.95" fill="#0328fa"/><rect x="255.2" y="438.5" width="2.55" height="5.95" fill="#1403ee"/><rect x="257.7" y="438.5" width="2.55" height="5.95" fill="#0328fa"/><rect x="260.2" y="438.5" width="2.55" height="5.95" fill="#0073ff"/><rect x="262.7" y="438.5" width="2.55" height="5.95" fill="#0141fd"/><rect x="265.2" y="438.5" width="2.55" height="5.95" fill="#0328fa"/><rect x="267.7" y="438.5" width="2.55" height="5.95" fill="#040ff6"/><rect x="270.2" y="438.5" width="2.55" height="5.95" fill="#0141fd"/><rect x="272.7" y="438.5" width="7.55" height="5.95" fill="#005aff"/><rect x="280.2" y="438.5" width="12.55" height="5.95" fill="#0073ff"/><rect x="292.7" y="438.5" width="2.55" height="5.95" fill="#008cff"/><rect x="295.2" y="438.5" width="10.05" height="5.95" fill="#0073ff"/><rect x="305.2" y="438.5" width="2.55" height="5.95" fill="#008cff"/><rect x="307.7" y="438.5" width="12.55" height="5.95" fill="#0073ff"/><rect x="320.2" y="438.5" width="2.55" height="5.95" fill="#008cff"/><rect x="322.7" y="438.5" width="5.05" height="5.95" fill="#0073ff"/><rect x="327.7" y="438.5" width="5.05" height="5.95" fill="#008cff"/><rect x="332.7" y="438.5" width="7.55" height="5.95" fill="#0073ff"/><rect x="340.2" y="438.5" width="2.55" height="5.95" fill="#008cff"/><rect x="342.7" y="438.5" width="2.55" height="5.95" fill="#0073ff"/><rect x="345.2" y="438.5" width="2.55" height="5.95" fill="#008cff"/><rect x="347.7" y="438.5" width="2.55" height="5.95" fill="#0073ff"/><rect x="350.2" y="438.5" width="5.05" height="5.95" fill="#008cff"/><rect x="355.2" y="438.5" width="2.55" height="5.95" fill="#005aff"/><rect x="357.7" y="438.5" width="10.05" height="5.95" fill="#0073ff"/><rect x="367.7" y="438.5" width="2.55" height="5.95" fill="#008cff"/><rect x="370.2" y="438.5" width="5.05" height="5.95" fill="#0073ff"/><rect x="375.2" y="438.5" width="2.55" height="5.95" fill="#008cff"/><rect x="377.7" y="438.5" width="2.55" height="5.95" fill="#0073ff"/><rect x="380.2" y="438.5" width="7.55" height="5.95" fill="#00a3ff"/><rect x="387.7" y="438.5" width="10.05" height="5.95" fill="#00b6ff"/><rect x="397.7" y="438.5" width="5.05" height="5.95" fill="#00dcff"/><rect x="402.7" y="438.5" width="2.55" height="5.95" fill="#00c9ff"/><rect x="405.2" y="438.5" width="7.55" height="5.95" fill="#00ecfc"/><rect x="412.7" y="438.5" width="2.55" height="5.95" fill="#00dcff"/><rect x="415.2" y="438.5" width="2.55" height="5.95" fill="#00ecfc"/><rect x="417.7" y="438.5" width="7.55" height="5.95" fill="#00f1ec"/><rect x="425.2" y="438.5" width="2.55" height="5.95" fill="#00ecfc"/><rect x="427.7" y="438.5" width="5.05" height="5.95" fill="#00f1ec"/><rect x="432.7" y="438.5" width="2.55" height="5.95" fill="#00f5dd"/><rect x="435.2" y="438.5" width="12.55" height="5.95" fill="#00f1ec"/><rect x="447.7" y="438.5" width="2.55" height="5.95" fill="#00f5dd"/><rect x="450.2" y="438.5" width="12.55" height="5.95" fill="#00f1ec"/><rect x="462.7" y="438.5" width="2.55" height="5.95" fill="#00ecfc"/><rect x="465.2" y="438.5" width="2.55" height="5.95" fill="#00f5dd"/><rect x="467.7" y="438.5" width="22.55" height="5.95" fill="#00f1ec"/><rect x="490.2" y="438.5" width="2.55" height="5.95" fill="#00ecfc"/><rect x="492.7" y="438.5" width="2.55" height="5.95" fill="#00f5dd"/><rect x="495.2" y="438.5" width="14.25" height="5.95" fill="#00f1ec"/><rect x="60.2" y="432.6" width="7.55" height="5.95" fill="#ff1900"/><rect x="67.7" y="432.6" width="2.55" height="5.95" fill="#ff3400"/><rect x="70.2" y="432.6" width="2.55" height="5.95" fill="#ff1900"/><rect x="72.7" y="432.6" width="2.55" height="5.95" fill="#ff3400"/><rect x="75.2" y="432.6" width="2.55" height="5.95" fill="#ff1900"/><rect x="77.7" y="432.6" width="10.05" height="5.95" fill="#ff3400"/><rect x="87.7" y="432.6" width="7.55" height="5.95" fill="#ff5000"/><rect x="95.2" y="432.6" width="20.05" height="5.95" fill="#ff6b00"/><rect x="115.2" y="432.6" width="2.55" height="5.95" fill="#ff8600"/><rect x="117.7" y="432.6" width="12.55" height="5.95" fill="#ff9e00"/><rect x="130.2" y="432.6" width="17.55" height="5.95" fill="#ffb100"/><rect x="147.7" y="432.6" width="2.55" height="5.95" fill="#ff9e00"/><rect x="150.2" y="432.6" width="2.55" height="5.95" fill="#ffc500"/><rect x="152.7" y="432.6" width="2.55" height="5.95" fill="#ffb100"/><rect x="155.2" y="432.6" width="2.55" height="5.95" fill="#ffc500"/><rect x="157.7" y="432.6" width="2.55" height="5.95" fill="#ffb100"/><rect x="160.2" y="432.6" width="2.55" height="5.95" fill="#ff8600"/><rect x="162.7" y="432.6" width="2.55" height="5.95" fill="#ff9e00"/><rect x="165.2" y="432.6" width="2.55" height="5.95" fill="#ff6b00"/><rect x="167.7" y="432.6" width="2.55" height="5.95" fill="#ff5000"/><rect x="170.2" y="432.6" width="2.55" height="5.95" fill="#ff3400"/><rect x="172.7" y="432.6" width="5.05" height="5.95" fill="#ff1900"/><rect x="177.7" y="432.6" width="7.55" height="5.95" fill="#ff0d00"/><rect x="185.2" y="432.6" width="2.55" height="5.95" fill="#ff1100"/><rect x="187.7" y="432.6" width="2.55" height="5.95" fill="#ff0d00"/><rect x="190.2" y="432.6" width="2.55" height="5.95" fill="#ff1100"/><rect x="192.7" y="432.6" width="2.55" height="5.95" fill="#ff0d00"/><rect x="195.2" y="432.6" width="5.05" height="5.95" fill="#ff1100"/><rect x="200.2" y="432.6" width="2.55" height="5.95" fill="#ff0d00"/><rect x="207.7" y="432.6" width="2.55" height="5.95" fill="#0141fd"/><rect x="210.2" y="432.6" width="2.55" height="5.95" fill="#005aff"/><rect x="212.7" y="432.6" width="2.55" height="5.95" fill="#0141fd"/><rect x="215.2" y="432.6" width="7.55" height="5.95" fill="#005aff"/><rect x="222.7" y="432.6" width="2.55" height="5.95" fill="#0073ff"/><rect x="225.2" y="432.6" width="2.55" height="5.95" fill="#008cff"/><rect x="227.7" y="432.6" width="5.05" height="5.95" fill="#005aff"/><rect x="232.7" y="432.6" width="15.05" height="5.95" fill="#008cff"/><rect x="247.7" y="432.6" width="2.55" height="5.95" fill="#00a3ff"/><rect x="250.2" y="432.6" width="5.05" height="5.95" fill="#008cff"/><rect x="255.2" y="432.6" width="2.55" height="5.95" fill="#00a3ff"/><rect x="257.7" y="432.6" width="5.05" height="5.95" fill="#00c9ff"/><rect x="262.7" y="432.6" width="5.05" height="5.95" fill="#00b6ff"/><rect x="267.7" y="432.6" width="5.05" height="5.95" fill="#00c9ff"/><rect x="272.7" y="432.6" width="2.55" height="5.95" fill="#00dcff"/><rect x="275.2" y="432.6" width="5.05" height="5.95" fill="#00c9ff"/><rect x="280.2" y="432.6" width="2.55" height="5.95" fill="#00ecfc"/><rect x="282.7" y="432.6" width="2.55" height="5.95" fill="#00dcff"/><rect x="285.2" y="432.6" width="12.55" height="5.95" fill="#00ecfc"/><rect x="297.7" y="432.6" width="7.55" height="5.95" fill="#00dcff"/><rect x="305.2" y="432.6" width="17.55" height="5.95" fill="#00ecfc"/><rect x="322.7" y="432.6" width="2.55" height="5.95" fill="#00dcff"/><rect x="325.2" y="432.6" width="25.05" height="5.95" fill="#00ecfc"/><rect x="350.2" y="432.6" width="2.55" height="5.95" fill="#00f1ec"/><rect x="352.7" y="432.6" width="10.05" height="5.95" fill="#00ecfc"/><rect x="362.7" y="432.6" width="5.05" height="5.95" fill="#00f1ec"/><rect x="367.7" y="432.6" width="5.05" height="5.95" fill="#00ecfc"/><rect x="372.7" y="432.6" width="5.05" height="5.95" fill="#00f1ec"/><rect x="377.7" y="432.6" width="2.55" height="5.95" fill="#00f5dd"/><rect x="380.2" y="432.6" width="2.55" height="5.95" fill="#00f1ec"/><rect x="382.7" y="432.6" width="2.55" height="5.95" fill="#00f5dd"/><rect x="385.2" y="432.6" width="2.55" height="5.95" fill="#00facd"/><rect x="387.7" y="432.6" width="7.55" height="5.95" fill="#00ffbe"/><rect x="395.2" y="432.6" width="7.55" height="5.95" fill="#00ffa5"/><rect x="402.7" y="432.6" width="2.55" height="5.95" fill="#00ff73"/><rect x="405.2" y="432.6" width="2.55" height="5.95" fill="#00ff8c"/><rect x="407.7" y="432.6" width="2.55" height="5.95" fill="#00ff73"/><rect x="410.2" y="432.6" width="10.05" height="5.95" fill="#00ff2a"/><rect x="420.2" y="432.6" width="10.05" height="5.95" fill="#00ff00"/><rect x="430.2" y="432.6" width="2.55" height="5.95" fill="#00ff2a"/><rect x="432.7" y="432.6" width="2.55" height="5.95" fill="#00ff00"/><rect x="435.2" y="432.6" width="2.55" height="5.95" fill="#00ff2a"/><rect x="437.7" y="432.6" width="5.05" height="5.95" fill="#00ff00"/><rect x="442.7" y="432.6" width="5.05" height="5.95" fill="#00ff2a"/><rect x="447.7" y="432.6" width="2.55" height="5.95" fill="#00ff00"/><rect x="450.2" y="432.6" width="5.05" height="5.95" fill="#00ff2a"/><rect x="455.2" y="432.6" width="10.05" height="5.95" fill="#00ff00"/><rect x="465.2" y="432.6" width="2.55" height="5.95" fill="#00ff2a"/><rect x="467.7" y="432.6" width="2.55" height="5.95" fill="#00ff00"/><rect x="470.2" y="432.6" width="15.05" height="5.95" fill="#00ff2a"/><rect x="485.2" y="432.6" width="2.55" height="5.95" fill="#00ff00"/><rect x="487.7" y="432.6" width="2.55" height="5.95" fill="#00ff2a"/><rect x="490.2" y="432.6" width="2.55" height="5.95" fill="#00ff00"/><rect x="492.7" y="432.6" width="2.55" height="5.95" fill="#00ff2a"/><rect x="495.2" y="432.6" width="2.55" height="5.95" fill="#00ff00"/><rect x="497.7" y="432.6" width="11.75" height="5.95" fill="#00ff2a"/><rect x="60.2" y="426.7" width="2.55" height="5.95" fill="#ff6b00"/><rect x="62.7" y="426.7" width="2.55" height="5.95" fill="#ff5000"/><rect x="65.2" y="426.7" width="5.05" height="5.95" fill="#ff6b00"/><rect x="70.2" y="426.7" width="2.55" height="5.95" fill="#ff5000"/><rect x="72.7" y="426.7" width="5.05" height="5.95" fill="#ff6b00"/><rect x="77.7" y="426.7" width="12.55" height="5.95" fill="#ff8600"/><rect x="90.2" y="426.7" width="2.55" height="5.95" fill="#ffb100"/><rect x="92.7" y="426.7" width="7.55" height="5.95" fill="#ff9e00"/><rect x="100.2" y="426.7" width="5.05" height="5.95" fill="#ffb100"/><rect x="105.2" y="426.7" width="2.55" height="5.95" fill="#ff9e00"/><rect x="107.7" y="426.7" width="7.55" height="5.95" fill="#ffc500"/><rect x="115.2" y="426.7" width="5.05" height="5.95" fill="#ffd800"/><rect x="120.2" y="426.7" width="2.55" height="5.95" fill="#ffc500"/><rect x="122.7" y="426.7" width="2.55" height="5.95" fill="#ffd800"/><rect x="125.2" y="426.7" width="5.05" height="5.95" fill="#ffec00"/><rect x="130.2" y="426.7" width="2.55" height="5.95" fill="#ffd800"/><rect x="132.7" y="426.7" width="7.55" height="5.95" fill="#ffec00"/><rect x="140.2" y="426.7" width="20.05" height="5.95" fill="#ffd800"/><rect x="160.2" y="426.7" width="2.55" height="5.95" fill="#ffb100"/><rect x="162.7" y="426.7" width="2.55" height="5.95" fill="#ff9e00"/><rect x="165.2" y="426.7" width="5.05" height="5.95" fill="#ff6b00"/><rect x="170.2" y="426.7" width="2.55" height="5.95" fill="#ff5000"/><rect x="172.7" y="426.7" width="5.05" height="5.95" fill="#ff1900"/><rect x="177.7" y="426.7" width="2.55" height="5.95" fill="#ff0d00"/><rect x="180.2" y="426.7" width="5.05" height="5.95" fill="#ff1100"/><rect x="185.2" y="426.7" width="5.05" height="5.95" fill="#ff0d00"/><rect x="190.2" y="426.7" width="2.55" height="5.95" fill="#ff1100"/><rect x="192.7" y="426.7" width="5.05" height="5.95" fill="#ff0d00"/><rect x="197.7" y="426.7" width="2.55" height="5.95" fill="#ff0800"/><rect x="200.2" y="426.7" width="2.55" height="5.95" fill="#ff0d00"/><rect x="207.7" y="426.7" width="7.55" height="5.95" fill="#00a3ff"/><rect x="215.2" y="426.7" width="2.55" height="5.95" fill="#00b6ff"/><rect x="217.7" y="426.7" width="2.55" height="5.95" fill="#00c9ff"/><rect x="220.2" y="426.7" width="7.55" height="5.95" fill="#00b6ff"/><rect x="227.7" y="426.7" width="5.05" height="5.95" fill="#00c9ff"/><rect x="232.7" y="426.7" width="12.55" height="5.95" fill="#00dcff"/><rect x="245.2" y="426.7" width="10.05" height="5.95" fill="#00ecfc"/><rect x="255.2" y="426.7" width="2.55" height="5.95" fill="#00f5dd"/><rect x="257.7" y="426.7" width="2.55" height="5.95" fill="#00f1ec"/><rect x="260.2" y="426.7" width="7.55" height="5.95" fill="#00f5dd"/><rect x="267.7" y="426.7" width="2.55" height="5.95" fill="#00facd"/><rect x="270.2" y="426.7" width="2.55" height="5.95" fill="#00f5dd"/><rect x="272.7" y="426.7" width="2.55" height="5.95" fill="#00ffbe"/><rect x="275.2" y="426.7" width="5.05" height="5.95" fill="#00facd"/><rect x="280.2" y="426.7" width="5.05" height="5.95" fill="#00ffbe"/><rect x="285.2" y="426.7" width="17.55" height="5.95" fill="#00ffa5"/><rect x="302.7" y="426.7" width="2.55" height="5.95" fill="#00ff8c"/><rect x="305.2" y="426.7" width="2.55" height="5.95" fill="#00ffa5"/><rect x="307.7" y="426.7" width="2.55" height="5.95" fill="#00ff8c"/><rect x="310.2" y="426.7" width="2.55" height="5.95" fill="#00ffbe"/><rect x="312.7" y="426.7" width="5.05" height="5.95" fill="#00ff8c"/><rect x="317.7" y="426.7" width="2.55" height="5.95" fill="#00ffa5"/><rect x="320.2" y="426.7" width="7.55" height="5.95" fill="#00ff8c"/><rect x="327.7" y="426.7" width="2.55" height="5.95" fill="#00ffa5"/><rect x="330.2" y="426.7" width="2.55" height="5.95" fill="#00ff73"/><rect x="332.7" y="426.7" width="2.55" height="5.95" fill="#00ff8c"/><rect x="335.2" y="426.7" width="2.55" height="5.95" fill="#00ff73"/><rect x="337.7" y="426.7" width="7.55" height="5.95" fill="#00ff8c"/><rect x="345.2" y="426.7" width="2.55" height="5.95" fill="#00ffa5"/><rect x="347.7" y="426.7" width="2.55" height="5.95" fill="#00ff73"/><rect x="350.2" y="426.7" width="2.55" height="5.95" fill="#00ff8c"/><rect x="352.7" y="426.7" width="2.55" height="5.95" fill="#00ff73"/><rect x="355.2" y="426.7" width="5.05" height="5.95" fill="#00ff8c"/><rect x="360.2" y="426.7" width="2.55" height="5.95" fill="#00ffa5"/><rect x="362.7" y="426.7" width="15.05" height="5.95" fill="#00ff8c"/><rect x="377.7" y="426.7" width="7.55" height="5.95" fill="#00ff73"/><rect x="385.2" y="426.7" width="7.55" height="5.95" fill="#00ff53"/><rect x="392.7" y="426.7" width="2.55" height="5.95" fill="#00ff73"/><rect x="395.2" y="426.7" width="7.55" height="5.95" fill="#00ff2a"/><rect x="402.7" y="426.7" width="2.55" height="5.95" fill="#00ff53"/><rect x="405.2" y="426.7" width="2.55" height="5.95" fill="#00ff2a"/><rect x="407.7" y="426.7" width="2.55" height="5.95" fill="#00ff00"/><rect x="410.2" y="426.7" width="2.55" height="5.95" fill="#00ff2a"/><rect x="412.7" y="426.7" width="2.55" height="5.95" fill="#00ff00"/><rect x="415.2" y="426.7" width="7.55" height="5.95" fill="#04ff00"/><rect x="422.7" y="426.7" width="5.05" height="5.95" fill="#00ff00"/><rect x="427.7" y="426.7" width="7.55" height="5.95" fill="#04ff00"/><rect x="435.2" y="426.7" width="2.55" height="5.95" fill="#00ff00"/><rect x="437.7" y="426.7" width="7.55" height="5.95" fill="#04ff00"/><rect x="445.2" y="426.7" width="2.55" height="5.95" fill="#00ff00"/><rect x="447.7" y="426.7" width="5.05" height="5.95" fill="#04ff00"/><rect x="452.7" y="426.7" width="5.05" height="5.95" fill="#00ff00"/><rect x="457.7" y="426.7" width="10.05" height="5.95" fill="#04ff00"/><rect x="467.7" y="426.7" width="2.55" height="5.95" fill="#00ff00"/><rect x="470.2" y="426.7" width="2.55" height="5.95" fill="#04ff00"/><rect x="472.7" y="426.7" width="2.55" height="5.95" fill="#00ff00"/><rect x="475.2" y="426.7" width="5.05" height="5.95" fill="#04ff00"/><rect x="480.2" y="426.7" width="2.55" height="5.95" fill="#00ff00"/><rect x="482.7" y="426.7" width="2.55" height="5.95" fill="#08ff00"/><rect x="485.2" y="426.7" width="15.05" height="5.95" fill="#04ff00"/><rect x="500.2" y="426.7" width="2.55" height="5.95" fill="#00ff00"/><rect x="502.7" y="426.7" width="6.75" height="5.95" fill="#04ff00"/><rect x="60.2" y="420.8" width="2.55" height="5.95" fill="#e5ff00"/><rect x="62.7" y="420.8" width="5.05" height="5.95" fill="#caff00"/><rect x="67.7" y="420.8" width="2.55" height="5.95" fill="#b0ff00"/><rect x="70.2" y="420.8" width="2.55" height="5.95" fill="#caff00"/><rect x="72.7" y="420.8" width="15.05" height="5.95" fill="#b0ff00"/><rect x="87.7" y="420.8" width="2.55" height="5.95" fill="#96ff00"/><rect x="90.2" y="420.8" width="2.55" height="5.95" fill="#b0ff00"/><rect x="92.7" y="420.8" width="2.55" height="5.95" fill="#96ff00"/><rect x="95.2" y="420.8" width="15.05" height="5.95" fill="#7dff00"/><rect x="110.2" y="420.8" width="2.55" height="5.95" fill="#64ff00"/><rect x="112.7" y="420.8" width="2.55" height="5.95" fill="#7dff00"/><rect x="115.2" y="420.8" width="2.55" height="5.95" fill="#64ff00"/><rect x="117.7" y="420.8" width="2.55" height="5.95" fill="#7dff00"/><rect x="120.2" y="420.8" width="5.05" height="5.95" fill="#64ff00"/><rect x="125.2" y="420.8" width="5.05" height="5.95" fill="#4bff00"/><rect x="130.2" y="420.8" width="10.05" height="5.95" fill="#64ff00"/><rect x="140.2" y="420.8" width="10.05" height="5.95" fill="#4bff00"/><rect x="150.2" y="420.8" width="2.55" height="5.95" fill="#64ff00"/><rect x="152.7" y="420.8" width="2.55" height="5.95" fill="#4bff00"/><rect x="155.2" y="420.8" width="5.05" height="5.95" fill="#64ff00"/><rect x="160.2" y="420.8" width="2.55" height="5.95" fill="#96ff00"/><rect x="162.7" y="420.8" width="2.55" height="5.95" fill="#ffff00"/><rect x="165.2" y="420.8" width="2.55" height="5.95" fill="#ffd800"/><rect x="167.7" y="420.8" width="2.55" height="5.95" fill="#ffb100"/><rect x="170.2" y="420.8" width="2.55" height="5.95" fill="#ff8600"/><rect x="172.7" y="420.8" width="2.55" height="5.95" fill="#ff6b00"/><rect x="175.2" y="420.8" width="7.55" height="5.95" fill="#ff1100"/><rect x="182.7" y="420.8" width="7.55" height="5.95" fill="#ff0d00"/><rect x="190.2" y="420.8" width="2.55" height="5.95" fill="#ff1100"/><rect x="192.7" y="420.8" width="5.05" height="5.95" fill="#ff0d00"/><rect x="197.7" y="420.8" width="2.55" height="5.95" fill="#ff1100"/><rect x="200.2" y="420.8" width="2.55" height="5.95" fill="#ff0d00"/><rect x="207.7" y="420.8" width="2.55" height="5.95" fill="#00c9ff"/><rect x="210.2" y="420.8" width="2.55" height="5.95" fill="#00dcff"/><rect x="212.7" y="420.8" width="7.55" height="5.95" fill="#00ecfc"/><rect x="220.2" y="420.8" width="5.05" height="5.95" fill="#00f5dd"/><rect x="225.2" y="420.8" width="2.55" height="5.95" fill="#00facd"/><rect x="227.7" y="420.8" width="2.55" height="5.95" fill="#00f5dd"/><rect x="230.2" y="420.8" width="2.55" height="5.95" fill="#00facd"/><rect x="232.7" y="420.8" width="2.55" height="5.95" fill="#00ffbe"/><rect x="235.2" y="420.8" width="2.55" height="5.95" fill="#00ffa5"/><rect x="237.7" y="420.8" width="5.05" height="5.95" fill="#00ffbe"/><rect x="242.7" y="420.8" width="5.05" height="5.95" fill="#00ffa5"/><rect x="247.7" y="420.8" width="5.05" height="5.95" fill="#00ff8c"/><rect x="252.7" y="420.8" width="2.55" height="5.95" fill="#00ffa5"/><rect x="255.2" y="420.8" width="5.05" height="5.95" fill="#00ff8c"/><rect x="260.2" y="420.8" width="5.05" height="5.95" fill="#00ff73"/><rect x="265.2" y="420.8" width="10.05" height="5.95" fill="#00ff53"/><rect x="275.2" y="420.8" width="2.55" height="5.95" fill="#00ff2a"/><rect x="277.7" y="420.8" width="2.55" height="5.95" fill="#00ff53"/><rect x="280.2" y="420.8" width="2.55" height="5.95" fill="#00ff2a"/><rect x="282.7" y="420.8" width="7.55" height="5.95" fill="#00ff00"/><rect x="290.2" y="420.8" width="5.05" height="5.95" fill="#00ff2a"/><rect x="295.2" y="420.8" width="5.05" height="5.95" fill="#00ff00"/><rect x="300.2" y="420.8" width="2.55" height="5.95" fill="#04ff00"/><rect x="302.7" y="420.8" width="2.55" height="5.95" fill="#00ff00"/><rect x="305.2" y="420.8" width="5.05" height="5.95" fill="#04ff00"/><rect x="310.2" y="420.8" width="2.55" height="5.95" fill="#00ff2a"/><rect x="312.7" y="420.8" width="10.05" height="5.95" fill="#00ff00"/><rect x="322.7" y="420.8" width="2.55" height="5.95" fill="#04ff00"/><rect x="325.2" y="420.8" width="2.55" height="5.95" fill="#00ff00"/><rect x="327.7" y="420.8" width="2.55" height="5.95" fill="#04ff00"/><rect x="330.2" y="420.8" width="5.05" height="5.95" fill="#00ff00"/><rect x="335.2" y="420.8" width="2.55" height="5.95" fill="#04ff00"/><rect x="337.7" y="420.8" width="2.55" height="5.95" fill="#00ff00"/><rect x="340.2" y="420.8" width="7.55" height="5.95" fill="#04ff00"/><rect x="347.7" y="420.8" width="2.55" height="5.95" fill="#00ff00"/><rect x="350.2" y="420.8" width="2.55" height="5.95" fill="#04ff00"/><rect x="352.7" y="420.8" width="2.55" height="5.95" fill="#00ff00"/><rect x="355.2" y="420.8" width="2.55" height="5.95" fill="#04ff00"/><rect x="357.7" y="420.8" width="2.55" height="5.95" fill="#00ff00"/><rect x="360.2" y="420.8" width="2.55" height="5.95" fill="#04ff00"/><rect x="362.7" y="420.8" width="5.05" height="5.95" fill="#00ff00"/><rect x="367.7" y="420.8" width="2.55" height="5.95" fill="#04ff00"/><rect x="370.2" y="420.8" width="2.55" height="5.95" fill="#00ff00"/><rect x="372.7" y="420.8" width="7.55" height="5.95" fill="#04ff00"/><rect x="380.2" y="420.8" width="2.55" height="5.95" fill="#00ff00"/><rect x="382.7" y="420.8" width="2.55" height="5.95" fill="#04ff00"/><rect x="385.2" y="420.8" width="2.55" height="5.95" fill="#08ff00"/><rect x="387.7" y="420.8" width="5.05" height="5.95" fill="#04ff00"/><rect x="392.7" y="420.8" width="2.55" height="5.95" fill="#08ff00"/><rect x="395.2" y="420.8" width="7.55" height="5.95" fill="#04ff00"/><rect x="402.7" y="420.8" width="10.05" height="5.95" fill="#08ff00"/><rect x="412.7" y="420.8" width="2.55" height="5.95" fill="#04ff00"/><rect x="415.2" y="420.8" width="5.05" height="5.95" fill="#08ff00"/><rect x="420.2" y="420.8" width="2.55" height="5.95" fill="#04ff00"/><rect x="422.7" y="420.8" width="2.55" height="5.95" fill="#08ff00"/><rect x="425.2" y="420.8" width="2.55" height="5.95" fill="#19ff00"/><rect x="427.7" y="420.8" width="10.05" height="5.95" fill="#04ff00"/><rect x="437.7" y="420.8" width="2.55" height="5.95" fill="#08ff00"/><rect x="440.2" y="420.8" width="2.55" height="5.95" fill="#04ff00"/><rect x="442.7" y="420.8" width="5.05" height="5.95" fill="#08ff00"/><rect x="447.7" y="420.8" width="2.55" height="5.95" fill="#04ff00"/><rect x="450.2" y="420.8" width="2.55" height="5.95" fill="#08ff00"/><rect x="452.7" y="420.8" width="2.55" height="5.95" fill="#04ff00"/><rect x="455.2" y="420.8" width="2.55" height="5.95" fill="#08ff00"/><rect x="457.7" y="420.8" width="2.55" height="5.95" fill="#04ff00"/><rect x="460.2" y="420.8" width="17.55" height="5.95" fill="#08ff00"/><rect x="477.7" y="420.8" width="2.55" height="5.95" fill="#04ff00"/><rect x="480.2" y="420.8" width="2.55" height="5.95" fill="#08ff00"/><rect x="482.7" y="420.8" width="2.55" height="5.95" fill="#04ff00"/><rect x="485.2" y="420.8" width="2.55" height="5.95" fill="#08ff00"/><rect x="487.7" y="420.8" width="2.55" height="5.95" fill="#19ff00"/><rect x="490.2" y="420.8" width="2.55" height="5.95" fill="#08ff00"/><rect x="492.7" y="420.8" width="2.55" height="5.95" fill="#04ff00"/><rect x="495.2" y="420.8" width="2.55" height="5.95" fill="#08ff00"/><rect x="497.7" y="420.8" width="7.55" height="5.95" fill="#04ff00"/><rect x="505.2" y="420.8" width="4.25" height="5.95" fill="#08ff00"/><rect x="60.2" y="414.9" width="2.55" height="5.95" fill="#4bff00"/><rect x="62.7" y="414.9" width="5.05" height="5.95" fill="#32ff00"/><rect x="67.7" y="414.9" width="2.55" height="5.95" fill="#4bff00"/><rect x="70.2" y="414.9" width="5.05" height="5.95" fill="#32ff00"/><rect x="75.2" y="414.9" width="5.05" height="5.95" fill="#19ff00"/><rect x="80.2" y="414.9" width="2.55" height="5.95" fill="#4bff00"/><rect x="82.7" y="414.9" width="12.55" height="5.95" fill="#19ff00"/><rect x="95.2" y="414.9" width="5.05" height="5.95" fill="#08ff00"/><rect x="100.2" y="414.9" width="2.55" height="5.95" fill="#19ff00"/><rect x="102.7" y="414.9" width="5.05" height="5.95" fill="#08ff00"/><rect x="107.7" y="414.9" width="10.05" height="5.95" fill="#04ff00"/><rect x="117.7" y="414.9" width="7.55" height="5.95" fill="#00ff00"/><rect x="125.2" y="414.9" width="2.55" height="5.95" fill="#00ff2a"/><rect x="127.7" y="414.9" width="2.55" height="5.95" fill="#00ff00"/><rect x="130.2" y="414.9" width="2.55" height="5.95" fill="#00ff2a"/><rect x="132.7" y="414.9" width="2.55" height="5.95" fill="#00ff53"/><rect x="135.2" y="414.9" width="2.55" height="5.95" fill="#00ff2a"/><rect x="137.7" y="414.9" width="2.55" height="5.95" fill="#00ff53"/><rect x="140.2" y="414.9" width="10.05" height="5.95" fill="#00ff2a"/><rect x="150.2" y="414.9" width="10.05" height="5.95" fill="#00ff00"/><rect x="160.2" y="414.9" width="2.55" height="5.95" fill="#08ff00"/><rect x="162.7" y="414.9" width="2.55" height="5.95" fill="#4bff00"/><rect x="165.2" y="414.9" width="2.55" height="5.95" fill="#7dff00"/><rect x="167.7" y="414.9" width="2.55" height="5.95" fill="#caff00"/><rect x="170.2" y="414.9" width="2.55" height="5.95" fill="#ffff00"/><rect x="172.7" y="414.9" width="2.55" height="5.95" fill="#ffb100"/><rect x="175.2" y="414.9" width="2.55" height="5.95" fill="#ff6b00"/><rect x="177.7" y="414.9" width="2.55" height="5.95" fill="#ff5000"/><rect x="180.2" y="414.9" width="2.55" height="5.95" fill="#ff3400"/><rect x="182.7" y="414.9" width="7.55" height="5.95" fill="#ff1100"/><rect x="190.2" y="414.9" width="2.55" height="5.95" fill="#ff1900"/><rect x="192.7" y="414.9" width="2.55" height="5.95" fill="#ff0d00"/><rect x="195.2" y="414.9" width="5.05" height="5.95" fill="#ff1100"/><rect x="200.2" y="414.9" width="2.55" height="5.95" fill="#ff0d00"/><rect x="207.7" y="414.9" width="2.55" height="5.95" fill="#00f5dd"/><rect x="210.2" y="414.9" width="2.55" height="5.95" fill="#00facd"/><rect x="212.7" y="414.9" width="5.05" height="5.95" fill="#00ffbe"/><rect x="217.7" y="414.9" width="5.05" height="5.95" fill="#00ffa5"/><rect x="222.7" y="414.9" width="5.05" height="5.95" fill="#00ff8c"/><rect x="227.7" y="414.9" width="5.05" height="5.95" fill="#00ff73"/><rect x="232.7" y="414.9" width="2.55" height="5.95" fill="#00ff53"/><rect x="235.2" y="414.9" width="2.55" height="5.95" fill="#00ff73"/><rect x="237.7" y="414.9" width="5.05" height="5.95" fill="#00ff53"/><rect x="242.7" y="414.9" width="2.55" height="5.95" fill="#00ff2a"/><rect x="245.2" y="414.9" width="2.55" height="5.95" fill="#00ff53"/><rect x="247.7" y="414.9" width="5.05" height="5.95" fill="#00ff2a"/><rect x="252.7" y="414.9" width="2.55" height="5.95" fill="#00ff00"/><rect x="255.2" y="414.9" width="2.55" height="5.95" fill="#04ff00"/><rect x="257.7" y="414.9" width="2.55" height="5.95" fill="#00ff00"/><rect x="260.2" y="414.9" width="2.55" height="5.95" fill="#04ff00"/><rect x="262.7" y="414.9" width="5.05" height="5.95" fill="#00ff00"/><rect x="267.7" y="414.9" width="7.55" height="5.95" fill="#08ff00"/><rect x="275.2" y="414.9" width="7.55" height="5.95" fill="#19ff00"/><rect x="282.7" y="414.9" width="2.55" height="5.95" fill="#32ff00"/><rect x="285.2" y="414.9" width="2.55" height="5.95" fill="#19ff00"/><rect x="287.7" y="414.9" width="5.05" height="5.95" fill="#32ff00"/><rect x="292.7" y="414.9" width="2.55" height="5.95" fill="#19ff00"/><rect x="295.2" y="414.9" width="2.55" height="5.95" fill="#32ff00"/><rect x="297.7" y="414.9" width="5.05" height="5.95" fill="#4bff00"/><rect x="302.7" y="414.9" width="2.55" height="5.95" fill="#32ff00"/><rect x="305.2" y="414.9" width="12.55" height="5.95" fill="#4bff00"/><rect x="317.7" y="414.9" width="2.55" height="5.95" fill="#64ff00"/><rect x="320.2" y="414.9" width="2.55" height="5.95" fill="#4bff00"/><rect x="322.7" y="414.9" width="5.05" height="5.95" fill="#64ff00"/><rect x="327.7" y="414.9" width="2.55" height="5.95" fill="#7dff00"/><rect x="330.2" y="414.9" width="10.05" height="5.95" fill="#64ff00"/><rect x="340.2" y="414.9" width="2.55" height="5.95" fill="#4bff00"/><rect x="342.7" y="414.9" width="2.55" height="5.95" fill="#64ff00"/><rect x="345.2" y="414.9" width="2.55" height="5.95" fill="#4bff00"/><rect x="347.7" y="414.9" width="2.55" height="5.95" fill="#7dff00"/><rect x="350.2" y="414.9" width="5.05" height="5.95" fill="#64ff00"/><rect x="355.2" y="414.9" width="2.55" height="5.95" fill="#4bff00"/><rect x="357.7" y="414.9" width="5.05" height="5.95" fill="#64ff00"/><rect x="362.7" y="414.9" width="7.55" height="5.95" fill="#4bff00"/><rect x="370.2" y="414.9" width="5.05" height="5.95" fill="#64ff00"/><rect x="375.2" y="414.9" width="2.55" height="5.95" fill="#7dff00"/><rect x="377.7" y="414.9" width="17.55" height="5.95" fill="#64ff00"/><rect x="395.2" y="414.9" width="2.55" height="5.95" fill="#7dff00"/><rect x="397.7" y="414.9" width="2.55" height="5.95" fill="#64ff00"/><rect x="400.2" y="414.9" width="2.55" height="5.95" fill="#7dff00"/><rect x="402.7" y="414.9" width="10.05" height="5.95" fill="#64ff00"/><rect x="412.7" y="414.9" width="2.55" height="5.95" fill="#4bff00"/><rect x="415.2" y="414.9" width="2.55" height="5.95" fill="#64ff00"/><rect x="417.7" y="414.9" width="5.05" height="5.95" fill="#7dff00"/><rect x="422.7" y="414.9" width="10.05" height="5.95" fill="#64ff00"/><rect x="432.7" y="414.9" width="2.55" height="5.95" fill="#4bff00"/><rect x="435.2" y="414.9" width="2.55" height="5.95" fill="#64ff00"/><rect x="437.7" y="414.9" width="2.55" height="5.95" fill="#7dff00"/><rect x="440.2" y="414.9" width="2.55" height="5.95" fill="#64ff00"/><rect x="442.7" y="414.9" width="2.55" height="5.95" fill="#4bff00"/><rect x="445.2" y="414.9" width="2.55" height="5.95" fill="#64ff00"/><rect x="447.7" y="414.9" width="2.55" height="5.95" fill="#7dff00"/><rect x="450.2" y="414.9" width="5.05" height="5.95" fill="#64ff00"/><rect x="455.2" y="414.9" width="5.05" height="5.95" fill="#4bff00"/><rect x="460.2" y="414.9" width="2.55" height="5.95" fill="#64ff00"/><rect x="462.7" y="414.9" width="2.55" height="5.95" fill="#7dff00"/><rect x="465.2" y="414.9" width="2.55" height="5.95" fill="#64ff00"/><rect x="467.7" y="414.9" width="7.55" height="5.95" fill="#4bff00"/><rect x="475.2" y="414.9" width="2.55" height="5.95" fill="#64ff00"/><rect x="477.7" y="414.9" width="2.55" height="5.95" fill="#4bff00"/><rect x="480.2" y="414.9" width="2.55" height="5.95" fill="#64ff00"/><rect x="482.7" y="414.9" width="5.05" height="5.95" fill="#4bff00"/><rect x="487.7" y="414.9" width="2.55" height="5.95" fill="#64ff00"/><rect x="490.2" y="414.9" width="2.55" height="5.95" fill="#4bff00"/><rect x="492.7" y="414.9" width="2.55" height="5.95" fill="#64ff00"/><rect x="495.2" y="414.9" width="5.05" height="5.95" fill="#4bff00"/><rect x="500.2" y="414.9" width="5.05" height="5.95" fill="#64ff00"/><rect x="505.2" y="414.9" width="2.55" height="5.95" fill="#4bff00"/><rect x="507.7" y="414.9" width="1.75" height="5.95" fill="#64ff00"/><rect x="60.2" y="409.0" width="5.05" height="5.95" fill="#00ff73"/><rect x="65.2" y="409.0" width="10.05" height="5.95" fill="#00ff8c"/><rect x="75.2" y="409.0" width="5.05" height="5.95" fill="#00ffa5"/><rect x="80.2" y="409.0" width="2.55" height="5.95" fill="#00ffbe"/><rect x="82.7" y="409.0" width="5.05" height="5.95" fill="#00ffa5"/><rect x="87.7" y="409.0" width="5.05" height="5.95" fill="#00ffbe"/><rect x="92.7" y="409.0" width="5.05" height="5.95" fill="#00ffa5"/><rect x="97.7" y="409.0" width="2.55" height="5.95" fill="#00ffbe"/><rect x="100.2" y="409.0" width="5.05" height="5.95" fill="#00facd"/><rect x="105.2" y="409.0" width="12.55" height="5.95" fill="#00f5dd"/><rect x="117.7" y="409.0" width="2.55" height="5.95" fill="#00f1ec"/><rect x="120.2" y="409.0" width="2.55" height="5.95" fill="#00ecfc"/><rect x="122.7" y="409.0" width="2.55" height="5.95" fill="#00f1ec"/><rect x="125.2" y="409.0" width="2.55" height="5.95" fill="#00ecfc"/><rect x="127.7" y="409.0" width="5.05" height="5.95" fill="#00dcff"/><rect x="132.7" y="409.0" width="5.05" height="5.95" fill="#00c9ff"/><rect x="137.7" y="409.0" width="2.55" height="5.95" fill="#00dcff"/><rect x="140.2" y="409.0" width="5.05" height="5.95" fill="#00c9ff"/><rect x="145.2" y="409.0" width="5.05" height="5.95" fill="#00dcff"/><rect x="150.2" y="409.0" width="10.05" height="5.95" fill="#00ecfc"/><rect x="160.2" y="409.0" width="2.55" height="5.95" fill="#00ffbe"/><rect x="162.7" y="409.0" width="2.55" height="5.95" fill="#00ff8c"/><rect x="165.2" y="409.0" width="2.55" height="5.95" fill="#00ff00"/><rect x="167.7" y="409.0" width="2.55" height="5.95" fill="#32ff00"/><rect x="170.2" y="409.0" width="2.55" height="5.95" fill="#7dff00"/><rect x="172.7" y="409.0" width="2.55" height="5.95" fill="#e5ff00"/><rect x="175.2" y="409.0" width="2.55" height="5.95" fill="#ffd800"/><rect x="177.7" y="409.0" width="2.55" height="5.95" fill="#ff9e00"/><rect x="180.2" y="409.0" width="2.55" height="5.95" fill="#ff6b00"/><rect x="182.7" y="409.0" width="2.55" height="5.95" fill="#ff3400"/><rect x="185.2" y="409.0" width="12.55" height="5.95" fill="#ff1100"/><rect x="197.7" y="409.0" width="2.55" height="5.95" fill="#ff0800"/><rect x="200.2" y="409.0" width="2.55" height="5.95" fill="#ff0d00"/><rect x="207.7" y="409.0" width="2.55" height="5.95" fill="#00ff53"/><rect x="210.2" y="409.0" width="2.55" height="5.95" fill="#00ff73"/><rect x="212.7" y="409.0" width="5.05" height="5.95" fill="#00ff53"/><rect x="217.7" y="409.0" width="5.05" height="5.95" fill="#00ff2a"/><rect x="222.7" y="409.0" width="2.55" height="5.95" fill="#00ff00"/><rect x="225.2" y="409.0" width="2.55" height="5.95" fill="#00ff2a"/><rect x="227.7" y="409.0" width="2.55" height="5.95" fill="#00ff00"/><rect x="230.2" y="409.0" width="2.55" height="5.95" fill="#00ff2a"/><rect x="232.7" y="409.0" width="2.55" height="5.95" fill="#00ff00"/><rect x="235.2" y="409.0" width="7.55" height="5.95" fill="#04ff00"/><rect x="242.7" y="409.0" width="5.05" height="5.95" fill="#08ff00"/><rect x="247.7" y="409.0" width="2.55" height="5.95" fill="#04ff00"/><rect x="250.2" y="409.0" width="5.05" height="5.95" fill="#08ff00"/><rect x="255.2" y="409.0" width="5.05" height="5.95" fill="#19ff00"/><rect x="260.2" y="409.0" width="7.55" height="5.95" fill="#32ff00"/><rect x="267.7" y="409.0" width="5.05" height="5.95" fill="#64ff00"/><rect x="272.7" y="409.0" width="2.55" height="5.95" fill="#4bff00"/><rect x="275.2" y="409.0" width="2.55" height="5.95" fill="#64ff00"/><rect x="277.7" y="409.0" width="5.05" height="5.95" fill="#4bff00"/><rect x="282.7" y="409.0" width="5.05" height="5.95" fill="#64ff00"/><rect x="287.7" y="409.0" width="2.55" height="5.95" fill="#7dff00"/><rect x="290.2" y="409.0" width="2.55" height="5.95" fill="#96ff00"/><rect x="292.7" y="409.0" width="2.55" height="5.95" fill="#b0ff00"/><rect x="295.2" y="409.0" width="5.05" height="5.95" fill="#96ff00"/><rect x="300.2" y="409.0" width="7.55" height="5.95" fill="#b0ff00"/><rect x="307.7" y="409.0" width="2.55" height="5.95" fill="#caff00"/><rect x="310.2" y="409.0" width="2.55" height="5.95" fill="#b0ff00"/><rect x="312.7" y="409.0" width="15.05" height="5.95" fill="#caff00"/><rect x="327.7" y="409.0" width="7.55" height="5.95" fill="#e5ff00"/><rect x="335.2" y="409.0" width="2.55" height="5.95" fill="#caff00"/><rect x="337.7" y="409.0" width="5.05" height="5.95" fill="#e5ff00"/><rect x="342.7" y="409.0" width="5.05" height="5.95" fill="#caff00"/><rect x="347.7" y="409.0" width="10.05" height="5.95" fill="#e5ff00"/><rect x="357.7" y="409.0" width="2.55" height="5.95" fill="#caff00"/><rect x="360.2" y="409.0" width="15.05" height="5.95" fill="#e5ff00"/><rect x="375.2" y="409.0" width="2.55" height="5.95" fill="#caff00"/><rect x="377.7" y="409.0" width="2.55" height="5.95" fill="#ffff00"/><rect x="380.2" y="409.0" width="5.05" height="5.95" fill="#e5ff00"/><rect x="385.2" y="409.0" width="2.55" height="5.95" fill="#ffff00"/><rect x="387.7" y="409.0" width="2.55" height="5.95" fill="#e5ff00"/><rect x="390.2" y="409.0" width="2.55" height="5.95" fill="#caff00"/><rect x="392.7" y="409.0" width="12.55" height="5.95" fill="#e5ff00"/><rect x="405.2" y="409.0" width="25.05" height="5.95" fill="#caff00"/><rect x="430.2" y="409.0" width="2.55" height="5.95" fill="#b0ff00"/><rect x="432.7" y="409.0" width="2.55" height="5.95" fill="#caff00"/><rect x="435.2" y="409.0" width="2.55" height="5.95" fill="#e5ff00"/><rect x="437.7" y="409.0" width="12.55" height="5.95" fill="#caff00"/><rect x="450.2" y="409.0" width="2.55" height="5.95" fill="#b0ff00"/><rect x="452.7" y="409.0" width="5.05" height="5.95" fill="#caff00"/><rect x="457.7" y="409.0" width="2.55" height="5.95" fill="#b0ff00"/><rect x="460.2" y="409.0" width="10.05" height="5.95" fill="#caff00"/><rect x="470.2" y="409.0" width="5.05" height="5.95" fill="#b0ff00"/><rect x="475.2" y="409.0" width="5.05" height="5.95" fill="#96ff00"/><rect x="480.2" y="409.0" width="2.55" height="5.95" fill="#b0ff00"/><rect x="482.7" y="409.0" width="2.55" height="5.95" fill="#96ff00"/><rect x="485.2" y="409.0" width="2.55" height="5.95" fill="#b0ff00"/><rect x="487.7" y="409.0" width="2.55" height="5.95" fill="#7dff00"/><rect x="490.2" y="409.0" width="5.05" height="5.95" fill="#b0ff00"/><rect x="495.2" y="409.0" width="14.25" height="5.95" fill="#96ff00"/><rect x="60.2" y="403.1" width="10.05" height="5.95" fill="#00dcff"/><rect x="70.2" y="403.1" width="2.55" height="5.95" fill="#00c9ff"/><rect x="72.7" y="403.1" width="2.55" height="5.95" fill="#00dcff"/><rect x="75.2" y="403.1" width="5.05" height="5.95" fill="#00c9ff"/><rect x="80.2" y="403.1" width="2.55" height="5.95" fill="#00b6ff"/><rect x="82.7" y="403.1" width="7.55" height="5.95" fill="#00c9ff"/><rect x="90.2" y="403.1" width="5.05" height="5.95" fill="#00b6ff"/><rect x="95.2" y="403.1" width="7.55" height="5.95" fill="#00a3ff"/><rect x="102.7" y="403.1" width="7.55" height="5.95" fill="#008cff"/><rect x="110.2" y="403.1" width="2.55" height="5.95" fill="#0073ff"/><rect x="112.7" y="403.1" width="10.05" height="5.95" fill="#005aff"/><rect x="122.7" y="403.1" width="5.05" height="5.95" fill="#040ff6"/><rect x="127.7" y="403.1" width="2.55" height="5.95" fill="#0141fd"/><rect x="130.2" y="403.1" width="2.55" height="5.95" fill="#1403ee"/><rect x="132.7" y="403.1" width="2.55" height="5.95" fill="#040ff6"/><rect x="135.2" y="403.1" width="2.55" height="5.95" fill="#0328fa"/><rect x="137.7" y="403.1" width="2.55" height="5.95" fill="#040ff6"/><rect x="140.2" y="403.1" width="2.55" height="5.95" fill="#1403ee"/><rect x="142.7" y="403.1" width="5.05" height="5.95" fill="#0328fa"/><rect x="147.7" y="403.1" width="2.55" height="5.95" fill="#0141fd"/><rect x="150.2" y="403.1" width="2.55" height="5.95" fill="#0328fa"/><rect x="152.7" y="403.1" width="2.55" height="5.95" fill="#005aff"/><rect x="155.2" y="403.1" width="2.55" height="5.95" fill="#0141fd"/><rect x="157.7" y="403.1" width="2.55" height="5.95" fill="#0073ff"/><rect x="160.2" y="403.1" width="2.55" height="5.95" fill="#00b6ff"/><rect x="162.7" y="403.1" width="2.55" height="5.95" fill="#00ecfc"/><rect x="165.2" y="403.1" width="2.55" height="5.95" fill="#00facd"/><rect x="167.7" y="403.1" width="2.55" height="5.95" fill="#00ff73"/><rect x="170.2" y="403.1" width="2.55" height="5.95" fill="#04ff00"/><rect x="172.7" y="403.1" width="2.55" height="5.95" fill="#4bff00"/><rect x="175.2" y="403.1" width="2.55" height="5.95" fill="#caff00"/><rect x="177.7" y="403.1" width="2.55" height="5.95" fill="#e5ff00"/><rect x="180.2" y="403.1" width="2.55" height="5.95" fill="#ffc500"/><rect x="182.7" y="403.1" width="2.55" height="5.95" fill="#ff9e00"/><rect x="185.2" y="403.1" width="2.55" height="5.95" fill="#ff5000"/><rect x="187.7" y="403.1" width="5.05" height="5.95" fill="#ff3400"/><rect x="192.7" y="403.1" width="2.55" height="5.95" fill="#ff1900"/><rect x="195.2" y="403.1" width="2.55" height="5.95" fill="#ff1100"/><rect x="197.7" y="403.1" width="5.05" height="5.95" fill="#ff0d00"/><rect x="207.7" y="403.1" width="2.55" height="5.95" fill="#04ff00"/><rect x="210.2" y="403.1" width="2.55" height="5.95" fill="#00ff00"/><rect x="212.7" y="403.1" width="2.55" height="5.95" fill="#04ff00"/><rect x="215.2" y="403.1" width="2.55" height="5.95" fill="#08ff00"/><rect x="217.7" y="403.1" width="2.55" height="5.95" fill="#04ff00"/><rect x="220.2" y="403.1" width="10.05" height="5.95" fill="#08ff00"/><rect x="230.2" y="403.1" width="10.05" height="5.95" fill="#04ff00"/><rect x="240.2" y="403.1" width="2.55" height="5.95" fill="#08ff00"/><rect x="242.7" y="403.1" width="2.55" height="5.95" fill="#19ff00"/><rect x="245.2" y="403.1" width="2.55" height="5.95" fill="#08ff00"/><rect x="247.7" y="403.1" width="5.05" height="5.95" fill="#19ff00"/><rect x="252.7" y="403.1" width="2.55" height="5.95" fill="#32ff00"/><rect x="255.2" y="403.1" width="12.55" height="5.95" fill="#4bff00"/><rect x="267.7" y="403.1" width="7.55" height="5.95" fill="#64ff00"/><rect x="275.2" y="403.1" width="7.55" height="5.95" fill="#7dff00"/><rect x="282.7" y="403.1" width="5.05" height="5.95" fill="#96ff00"/><rect x="287.7" y="403.1" width="7.55" height="5.95" fill="#b0ff00"/><rect x="295.2" y="403.1" width="5.05" height="5.95" fill="#caff00"/><rect x="300.2" y="403.1" width="5.05" height="5.95" fill="#e5ff00"/><rect x="305.2" y="403.1" width="2.55" height="5.95" fill="#ffff00"/><rect x="307.7" y="403.1" width="2.55" height="5.95" fill="#e5ff00"/><rect x="310.2" y="403.1" width="2.55" height="5.95" fill="#ffff00"/><rect x="312.7" y="403.1" width="2.55" height="5.95" fill="#ffec00"/><rect x="315.2" y="403.1" width="7.55" height="5.95" fill="#ffd800"/><rect x="322.7" y="403.1" width="2.55" height="5.95" fill="#ffc500"/><rect x="325.2" y="403.1" width="2.55" height="5.95" fill="#ffd800"/><rect x="327.7" y="403.1" width="2.55" height="5.95" fill="#ffc500"/><rect x="330.2" y="403.1" width="5.05" height="5.95" fill="#ffb100"/><rect x="335.2" y="403.1" width="2.55" height="5.95" fill="#ffc500"/><rect x="337.7" y="403.1" width="2.55" height="5.95" fill="#ffd800"/><rect x="340.2" y="403.1" width="2.55" height="5.95" fill="#ffb100"/><rect x="342.7" y="403.1" width="10.05" height="5.95" fill="#ffc500"/><rect x="352.7" y="403.1" width="2.55" height="5.95" fill="#ffd800"/><rect x="355.2" y="403.1" width="5.05" height="5.95" fill="#ffc500"/><rect x="360.2" y="403.1" width="2.55" height="5.95" fill="#ffd800"/><rect x="362.7" y="403.1" width="2.55" height="5.95" fill="#ffc500"/><rect x="365.2" y="403.1" width="2.55" height="5.95" fill="#ffd800"/><rect x="367.7" y="403.1" width="7.55" height="5.95" fill="#ffc500"/><rect x="375.2" y="403.1" width="7.55" height="5.95" fill="#ffd800"/><rect x="382.7" y="403.1" width="10.05" height="5.95" fill="#ffec00"/><rect x="392.7" y="403.1" width="2.55" height="5.95" fill="#ffff00"/><rect x="395.2" y="403.1" width="2.55" height="5.95" fill="#ffec00"/><rect x="397.7" y="403.1" width="7.55" height="5.95" fill="#ffff00"/><rect x="405.2" y="403.1" width="2.55" height="5.95" fill="#e5ff00"/><rect x="407.7" y="403.1" width="2.55" height="5.95" fill="#ffff00"/><rect x="410.2" y="403.1" width="5.05" height="5.95" fill="#e5ff00"/><rect x="415.2" y="403.1" width="15.05" height="5.95" fill="#caff00"/><rect x="430.2" y="403.1" width="17.55" height="5.95" fill="#b0ff00"/><rect x="447.7" y="403.1" width="2.55" height="5.95" fill="#caff00"/><rect x="450.2" y="403.1" width="5.05" height="5.95" fill="#b0ff00"/><rect x="455.2" y="403.1" width="2.55" height="5.95" fill="#caff00"/><rect x="457.7" y="403.1" width="7.55" height="5.95" fill="#b0ff00"/><rect x="465.2" y="403.1" width="2.55" height="5.95" fill="#96ff00"/><rect x="467.7" y="403.1" width="5.05" height="5.95" fill="#b0ff00"/><rect x="472.7" y="403.1" width="27.55" height="5.95" fill="#96ff00"/><rect x="500.2" y="403.1" width="9.25" height="5.95" fill="#7dff00"/><rect x="60.2" y="397.2" width="2.55" height="5.95" fill="#005aff"/><rect x="62.7" y="397.2" width="5.05" height="5.95" fill="#0141fd"/><rect x="67.7" y="397.2" width="5.05" height="5.95" fill="#040ff6"/><rect x="72.7" y="397.2" width="2.55" height="5.95" fill="#0328fa"/><rect x="75.2" y="397.2" width="2.55" height="5.95" fill="#0141fd"/><rect x="77.7" y="397.2" width="2.55" height="5.95" fill="#0328fa"/><rect x="80.2" y="397.2" width="2.55" height="5.95" fill="#0141fd"/><rect x="82.7" y="397.2" width="2.55" height="5.95" fill="#1403ee"/><rect x="85.2" y="397.2" width="5.05" height="5.95" fill="#0328fa"/><rect x="90.2" y="397.2" width="2.55" height="5.95" fill="#1403ee"/><rect x="92.7" y="397.2" width="2.55" height="5.95" fill="#040ff6"/><rect x="95.2" y="397.2" width="2.55" height="5.95" fill="#2d01e3"/><rect x="97.7" y="397.2" width="2.55" height="5.95" fill="#3e00d0"/><rect x="100.2" y="397.2" width="2.55" height="5.95" fill="#2d01e3"/><rect x="102.7" y="397.2" width="2.55" height="5.95" fill="#3e00d0"/><rect x="105.2" y="397.2" width="2.55" height="5.95" fill="#0141fd"/><rect x="107.7" y="397.2" width="2.55" height="5.95" fill="#3e00d0"/><rect x="110.2" y="397.2" width="2.55" height="5.95" fill="#1403ee"/><rect x="112.7" y="397.2" width="7.55" height="5.95" fill="#3e00d0"/><rect x="120.2" y="397.2" width="2.55" height="5.95" fill="#5500a7"/><rect x="122.7" y="397.2" width="2.55" height="5.95" fill="#3e00d0"/><rect x="125.2" y="397.2" width="2.55" height="5.95" fill="#4c00bb"/><rect x="127.7" y="397.2" width="2.55" height="5.95" fill="#55007d"/><rect x="130.2" y="397.2" width="7.55" height="5.95" fill="#5500a7"/><rect x="137.7" y="397.2" width="2.55" height="5.95" fill="#3e00d0"/><rect x="140.2" y="397.2" width="2.55" height="5.95" fill="#5500a7"/><rect x="142.7" y="397.2" width="2.55" height="5.95" fill="#4c00bb"/><rect x="145.2" y="397.2" width="2.55" height="5.95" fill="#3e00d0"/><rect x="147.7" y="397.2" width="2.55" height="5.95" fill="#5500a7"/><rect x="150.2" y="397.2" width="2.55" height="5.95" fill="#1403ee"/><rect x="152.7" y="397.2" width="2.55" height="5.95" fill="#5500a7"/><rect x="155.2" y="397.2" width="2.55" height="5.95" fill="#4c00bb"/><rect x="157.7" y="397.2" width="5.05" height="5.95" fill="#040ff6"/><rect x="162.7" y="397.2" width="2.55" height="5.95" fill="#0073ff"/><rect x="165.2" y="397.2" width="2.55" height="5.95" fill="#00a3ff"/><rect x="167.7" y="397.2" width="2.55" height="5.95" fill="#00f1ec"/><rect x="170.2" y="397.2" width="2.55" height="5.95" fill="#00ffa5"/><rect x="172.7" y="397.2" width="2.55" height="5.95" fill="#00ff00"/><rect x="175.2" y="397.2" width="2.55" height="5.95" fill="#19ff00"/><rect x="177.7" y="397.2" width="2.55" height="5.95" fill="#7dff00"/><rect x="180.2" y="397.2" width="2.55" height="5.95" fill="#caff00"/><rect x="182.7" y="397.2" width="2.55" height="5.95" fill="#ffec00"/><rect x="185.2" y="397.2" width="2.55" height="5.95" fill="#ffb100"/><rect x="187.7" y="397.2" width="7.55" height="5.95" fill="#ff9e00"/><rect x="195.2" y="397.2" width="2.55" height="5.95" fill="#ff6b00"/><rect x="197.7" y="397.2" width="2.55" height="5.95" fill="#ff5000"/><rect x="200.2" y="397.2" width="2.55" height="5.95" fill="#ff1900"/><rect x="207.7" y="397.2" width="2.55" height="5.95" fill="#08ff00"/><rect x="210.2" y="397.2" width="2.55" height="5.95" fill="#00ff00"/><rect x="212.7" y="397.2" width="7.55" height="5.95" fill="#04ff00"/><rect x="220.2" y="397.2" width="2.55" height="5.95" fill="#08ff00"/><rect x="222.7" y="397.2" width="7.55" height="5.95" fill="#04ff00"/><rect x="230.2" y="397.2" width="2.55" height="5.95" fill="#08ff00"/><rect x="232.7" y="397.2" width="2.55" height="5.95" fill="#04ff00"/><rect x="235.2" y="397.2" width="5.05" height="5.95" fill="#08ff00"/><rect x="240.2" y="397.2" width="5.05" height="5.95" fill="#04ff00"/><rect x="245.2" y="397.2" width="2.55" height="5.95" fill="#08ff00"/><rect x="247.7" y="397.2" width="5.05" height="5.95" fill="#19ff00"/><rect x="252.7" y="397.2" width="10.05" height="5.95" fill="#32ff00"/><rect x="262.7" y="397.2" width="5.05" height="5.95" fill="#4bff00"/><rect x="267.7" y="397.2" width="2.55" height="5.95" fill="#64ff00"/><rect x="270.2" y="397.2" width="2.55" height="5.95" fill="#4bff00"/><rect x="272.7" y="397.2" width="7.55" height="5.95" fill="#64ff00"/><rect x="280.2" y="397.2" width="5.05" height="5.95" fill="#7dff00"/><rect x="285.2" y="397.2" width="2.55" height="5.95" fill="#96ff00"/><rect x="287.7" y="397.2" width="2.55" height="5.95" fill="#7dff00"/><rect x="290.2" y="397.2" width="2.55" height="5.95" fill="#96ff00"/><rect x="292.7" y="397.2" width="2.55" height="5.95" fill="#b0ff00"/><rect x="295.2" y="397.2" width="2.55" height="5.95" fill="#96ff00"/><rect x="297.7" y="397.2" width="2.55" height="5.95" fill="#7dff00"/><rect x="300.2" y="397.2" width="5.05" height="5.95" fill="#b0ff00"/><rect x="305.2" y="397.2" width="7.55" height="5.95" fill="#caff00"/><rect x="312.7" y="397.2" width="2.55" height="5.95" fill="#e5ff00"/><rect x="315.2" y="397.2" width="2.55" height="5.95" fill="#ffff00"/><rect x="317.7" y="397.2" width="2.55" height="5.95" fill="#e5ff00"/><rect x="320.2" y="397.2" width="2.55" height="5.95" fill="#ffec00"/><rect x="322.7" y="397.2" width="5.05" height="5.95" fill="#ffff00"/><rect x="327.7" y="397.2" width="10.05" height="5.95" fill="#ffec00"/><rect x="337.7" y="397.2" width="2.55" height="5.95" fill="#ffff00"/><rect x="340.2" y="397.2" width="7.55" height="5.95" fill="#ffec00"/><rect x="347.7" y="397.2" width="2.55" height="5.95" fill="#ffff00"/><rect x="350.2" y="397.2" width="7.55" height="5.95" fill="#ffec00"/><rect x="357.7" y="397.2" width="5.05" height="5.95" fill="#ffff00"/><rect x="362.7" y="397.2" width="7.55" height="5.95" fill="#ffec00"/><rect x="370.2" y="397.2" width="10.05" height="5.95" fill="#ffff00"/><rect x="380.2" y="397.2" width="5.05" height="5.95" fill="#e5ff00"/><rect x="385.2" y="397.2" width="2.55" height="5.95" fill="#b0ff00"/><rect x="387.7" y="397.2" width="2.55" height="5.95" fill="#e5ff00"/><rect x="390.2" y="397.2" width="7.55" height="5.95" fill="#caff00"/><rect x="397.7" y="397.2" width="10.05" height="5.95" fill="#96ff00"/><rect x="407.7" y="397.2" width="5.05" height="5.95" fill="#7dff00"/><rect x="412.7" y="397.2" width="2.55" height="5.95" fill="#64ff00"/><rect x="415.2" y="397.2" width="2.55" height="5.95" fill="#96ff00"/><rect x="417.7" y="397.2" width="5.05" height="5.95" fill="#64ff00"/><rect x="422.7" y="397.2" width="2.55" height="5.95" fill="#4bff00"/><rect x="425.2" y="397.2" width="15.05" height="5.95" fill="#64ff00"/><rect x="440.2" y="397.2" width="15.05" height="5.95" fill="#4bff00"/><rect x="455.2" y="397.2" width="2.55" height="5.95" fill="#64ff00"/><rect x="457.7" y="397.2" width="2.55" height="5.95" fill="#32ff00"/><rect x="460.2" y="397.2" width="22.55" height="5.95" fill="#4bff00"/><rect x="482.7" y="397.2" width="2.55" height="5.95" fill="#32ff00"/><rect x="485.2" y="397.2" width="2.55" height="5.95" fill="#4bff00"/><rect x="487.7" y="397.2" width="5.05" height="5.95" fill="#32ff00"/><rect x="492.7" y="397.2" width="2.55" height="5.95" fill="#4bff00"/><rect x="495.2" y="397.2" width="14.25" height="5.95" fill="#32ff00"/><rect x="60.2" y="391.3" width="2.55" height="5.95" fill="#2d01e3"/><rect x="62.7" y="391.3" width="2.55" height="5.95" fill="#1403ee"/><rect x="65.2" y="391.3" width="2.55" height="5.95" fill="#2d01e3"/><rect x="67.7" y="391.3" width="5.05" height="5.95" fill="#550092"/><rect x="72.7" y="391.3" width="2.55" height="5.95" fill="#55007d"/><rect x="75.2" y="391.3" width="2.55" height="5.95" fill="#5500a7"/><rect x="77.7" y="391.3" width="2.55" height="5.95" fill="#3e00d0"/><rect x="80.2" y="391.3" width="2.55" height="5.95" fill="#5500a7"/><rect x="90.2" y="391.3" width="2.55" height="5.95" fill="#55007d"/><rect x="95.2" y="391.3" width="2.55" height="5.95" fill="#4c006c"/><rect x="97.7" y="391.3" width="2.55" height="5.95" fill="#550092"/><rect x="142.7" y="391.3" width="2.55" height="5.95" fill="#550092"/><rect x="145.2" y="391.3" width="2.55" height="5.95" fill="#4c006c"/><rect x="157.7" y="391.3" width="2.55" height="5.95" fill="#5500a7"/><rect x="160.2" y="391.3" width="2.55" height="5.95" fill="#3e00d0"/><rect x="162.7" y="391.3" width="2.55" height="5.95" fill="#0328fa"/><rect x="165.2" y="391.3" width="2.55" height="5.95" fill="#0141fd"/><rect x="167.7" y="391.3" width="2.55" height="5.95" fill="#00a3ff"/><rect x="170.2" y="391.3" width="2.55" height="5.95" fill="#00f1ec"/><rect x="172.7" y="391.3" width="2.55" height="5.95" fill="#00ff73"/><rect x="175.2" y="391.3" width="2.55" height="5.95" fill="#00ff2a"/><rect x="177.7" y="391.3" width="2.55" height="5.95" fill="#19ff00"/><rect x="180.2" y="391.3" width="2.55" height="5.95" fill="#64ff00"/><rect x="182.7" y="391.3" width="2.55" height="5.95" fill="#caff00"/><rect x="185.2" y="391.3" width="2.55" height="5.95" fill="#ffff00"/><rect x="187.7" y="391.3" width="2.55" height="5.95" fill="#ffec00"/><rect x="190.2" y="391.3" width="7.55" height="5.95" fill="#ffd800"/><rect x="197.7" y="391.3" width="2.55" height="5.95" fill="#ffb100"/><rect x="200.2" y="391.3" width="2.55" height="5.95" fill="#ff9e00"/><rect x="207.7" y="391.3" width="12.55" height="5.95" fill="#08ff00"/><rect x="220.2" y="391.3" width="2.55" height="5.95" fill="#04ff00"/><rect x="222.7" y="391.3" width="2.55" height="5.95" fill="#08ff00"/><rect x="225.2" y="391.3" width="10.05" height="5.95" fill="#04ff00"/><rect x="235.2" y="391.3" width="5.05" height="5.95" fill="#00ff00"/><rect x="240.2" y="391.3" width="17.55" height="5.95" fill="#04ff00"/><rect x="257.7" y="391.3" width="10.05" height="5.95" fill="#08ff00"/><rect x="267.7" y="391.3" width="2.55" height="5.95" fill="#32ff00"/><rect x="270.2" y="391.3" width="2.55" height="5.95" fill="#08ff00"/><rect x="272.7" y="391.3" width="5.05" height="5.95" fill="#32ff00"/><rect x="277.7" y="391.3" width="2.55" height="5.95" fill="#4bff00"/><rect x="280.2" y="391.3" width="2.55" height="5.95" fill="#32ff00"/><rect x="282.7" y="391.3" width="12.55" height="5.95" fill="#4bff00"/><rect x="295.2" y="391.3" width="2.55" height="5.95" fill="#64ff00"/><rect x="297.7" y="391.3" width="2.55" height="5.95" fill="#4bff00"/><rect x="300.2" y="391.3" width="17.55" height="5.95" fill="#64ff00"/><rect x="317.7" y="391.3" width="5.05" height="5.95" fill="#7dff00"/><rect x="322.7" y="391.3" width="2.55" height="5.95" fill="#96ff00"/><rect x="325.2" y="391.3" width="2.55" height="5.95" fill="#64ff00"/><rect x="327.7" y="391.3" width="15.05" height="5.95" fill="#7dff00"/><rect x="342.7" y="391.3" width="2.55" height="5.95" fill="#96ff00"/><rect x="345.2" y="391.3" width="2.55" height="5.95" fill="#7dff00"/><rect x="347.7" y="391.3" width="2.55" height="5.95" fill="#96ff00"/><rect x="350.2" y="391.3" width="20.05" height="5.95" fill="#7dff00"/><rect x="370.2" y="391.3" width="2.55" height="5.95" fill="#96ff00"/><rect x="372.7" y="391.3" width="2.55" height="5.95" fill="#7dff00"/><rect x="375.2" y="391.3" width="2.55" height="5.95" fill="#64ff00"/><rect x="377.7" y="391.3" width="2.55" height="5.95" fill="#7dff00"/><rect x="380.2" y="391.3" width="2.55" height="5.95" fill="#64ff00"/><rect x="382.7" y="391.3" width="2.55" height="5.95" fill="#4bff00"/><rect x="385.2" y="391.3" width="2.55" height="5.95" fill="#64ff00"/><rect x="387.7" y="391.3" width="2.55" height="5.95" fill="#32ff00"/><rect x="390.2" y="391.3" width="2.55" height="5.95" fill="#4bff00"/><rect x="392.7" y="391.3" width="7.55" height="5.95" fill="#32ff00"/><rect x="400.2" y="391.3" width="2.55" height="5.95" fill="#19ff00"/><rect x="402.7" y="391.3" width="10.05" height="5.95" fill="#08ff00"/><rect x="412.7" y="391.3" width="5.05" height="5.95" fill="#04ff00"/><rect x="417.7" y="391.3" width="7.55" height="5.95" fill="#00ff00"/><rect x="425.2" y="391.3" width="5.05" height="5.95" fill="#04ff00"/><rect x="430.2" y="391.3" width="5.05" height="5.95" fill="#00ff00"/><rect x="435.2" y="391.3" width="2.55" height="5.95" fill="#04ff00"/><rect x="437.7" y="391.3" width="5.05" height="5.95" fill="#00ff00"/><rect x="442.7" y="391.3" width="2.55" height="5.95" fill="#04ff00"/><rect x="445.2" y="391.3" width="2.55" height="5.95" fill="#00ff00"/><rect x="447.7" y="391.3" width="5.05" height="5.95" fill="#04ff00"/><rect x="452.7" y="391.3" width="10.05" height="5.95" fill="#00ff00"/><rect x="462.7" y="391.3" width="2.55" height="5.95" fill="#00ff2a"/><rect x="465.2" y="391.3" width="5.05" height="5.95" fill="#00ff00"/><rect x="470.2" y="391.3" width="2.55" height="5.95" fill="#00ff2a"/><rect x="472.7" y="391.3" width="10.05" height="5.95" fill="#00ff00"/><rect x="482.7" y="391.3" width="2.55" height="5.95" fill="#00ff2a"/><rect x="485.2" y="391.3" width="7.55" height="5.95" fill="#00ff00"/><rect x="492.7" y="391.3" width="2.55" height="5.95" fill="#00ff2a"/><rect x="495.2" y="391.3" width="14.25" height="5.95" fill="#00ff00"/><rect x="160.2" y="385.4" width="2.55" height="5.95" fill="#4c006c"/><rect x="162.7" y="385.4" width="2.55" height="5.95" fill="#550092"/><rect x="165.2" y="385.4" width="2.55" height="5.95" fill="#3e00d0"/><rect x="167.7" y="385.4" width="2.55" height="5.95" fill="#040ff6"/><rect x="170.2" y="385.4" width="2.55" height="5.95" fill="#00a3ff"/><rect x="172.7" y="385.4" width="2.55" height="5.95" fill="#00ecfc"/><rect x="175.2" y="385.4" width="2.55" height="5.95" fill="#00ffa5"/><rect x="177.7" y="385.4" width="2.55" height="5.95" fill="#00ff2a"/><rect x="180.2" y="385.4" width="2.55" height="5.95" fill="#08ff00"/><rect x="182.7" y="385.4" width="2.55" height="5.95" fill="#4bff00"/><rect x="185.2" y="385.4" width="5.05" height="5.95" fill="#96ff00"/><rect x="190.2" y="385.4" width="5.05" height="5.95" fill="#b0ff00"/><rect x="195.2" y="385.4" width="2.55" height="5.95" fill="#caff00"/><rect x="197.7" y="385.4" width="2.55" height="5.95" fill="#ffff00"/><rect x="200.2" y="385.4" width="2.55" height="5.95" fill="#ffc500"/><rect x="207.7" y="385.4" width="2.55" height="5.95" fill="#08ff00"/><rect x="210.2" y="385.4" width="2.55" height="5.95" fill="#04ff00"/><rect x="212.7" y="385.4" width="5.05" height="5.95" fill="#08ff00"/><rect x="217.7" y="385.4" width="7.55" height="5.95" fill="#04ff00"/><rect x="225.2" y="385.4" width="2.55" height="5.95" fill="#00ff00"/><rect x="227.7" y="385.4" width="10.05" height="5.95" fill="#00ff2a"/><rect x="237.7" y="385.4" width="7.55" height="5.95" fill="#00ff73"/><rect x="245.2" y="385.4" width="12.55" height="5.95" fill="#00ff53"/><rect x="257.7" y="385.4" width="2.55" height="5.95" fill="#00ff2a"/><rect x="260.2" y="385.4" width="5.05" height="5.95" fill="#00ff53"/><rect x="265.2" y="385.4" width="2.55" height="5.95" fill="#00ff2a"/><rect x="267.7" y="385.4" width="2.55" height="5.95" fill="#00ff00"/><rect x="270.2" y="385.4" width="2.55" height="5.95" fill="#00ff2a"/><rect x="272.7" y="385.4" width="10.05" height="5.95" fill="#00ff00"/><rect x="282.7" y="385.4" width="7.55" height="5.95" fill="#04ff00"/><rect x="290.2" y="385.4" width="2.55" height="5.95" fill="#00ff00"/><rect x="292.7" y="385.4" width="2.55" height="5.95" fill="#08ff00"/><rect x="295.2" y="385.4" width="2.55" height="5.95" fill="#00ff00"/><rect x="297.7" y="385.4" width="5.05" height="5.95" fill="#04ff00"/><rect x="302.7" y="385.4" width="2.55" height="5.95" fill="#08ff00"/><rect x="305.2" y="385.4" width="7.55" height="5.95" fill="#04ff00"/><rect x="312.7" y="385.4" width="2.55" height="5.95" fill="#00ff00"/><rect x="315.2" y="385.4" width="5.05" height="5.95" fill="#08ff00"/><rect x="320.2" y="385.4" width="2.55" height="5.95" fill="#04ff00"/><rect x="322.7" y="385.4" width="12.55" height="5.95" fill="#08ff00"/><rect x="335.2" y="385.4" width="2.55" height="5.95" fill="#04ff00"/><rect x="337.7" y="385.4" width="2.55" height="5.95" fill="#08ff00"/><rect x="340.2" y="385.4" width="2.55" height="5.95" fill="#04ff00"/><rect x="342.7" y="385.4" width="2.55" height="5.95" fill="#08ff00"/><rect x="345.2" y="385.4" width="2.55" height="5.95" fill="#04ff00"/><rect x="347.7" y="385.4" width="10.05" height="5.95" fill="#08ff00"/><rect x="357.7" y="385.4" width="2.55" height="5.95" fill="#04ff00"/><rect x="360.2" y="385.4" width="7.55" height="5.95" fill="#08ff00"/><rect x="367.7" y="385.4" width="2.55" height="5.95" fill="#04ff00"/><rect x="370.2" y="385.4" width="5.05" height="5.95" fill="#08ff00"/><rect x="375.2" y="385.4" width="5.05" height="5.95" fill="#04ff00"/><rect x="380.2" y="385.4" width="7.55" height="5.95" fill="#00ff00"/><rect x="387.7" y="385.4" width="2.55" height="5.95" fill="#00ff2a"/><rect x="390.2" y="385.4" width="7.55" height="5.95" fill="#00ff53"/><rect x="397.7" y="385.4" width="10.05" height="5.95" fill="#00ff73"/><rect x="407.7" y="385.4" width="5.05" height="5.95" fill="#00ff8c"/><rect x="412.7" y="385.4" width="10.05" height="5.95" fill="#00ffa5"/><rect x="422.7" y="385.4" width="2.55" height="5.95" fill="#00ffbe"/><rect x="425.2" y="385.4" width="7.55" height="5.95" fill="#00ffa5"/><rect x="432.7" y="385.4" width="12.55" height="5.95" fill="#00ffbe"/><rect x="445.2" y="385.4" width="2.55" height="5.95" fill="#00facd"/><rect x="447.7" y="385.4" width="2.55" height="5.95" fill="#00ffbe"/><rect x="450.2" y="385.4" width="2.55" height="5.95" fill="#00facd"/><rect x="452.7" y="385.4" width="7.55" height="5.95" fill="#00ffbe"/><rect x="460.2" y="385.4" width="5.05" height="5.95" fill="#00facd"/><rect x="465.2" y="385.4" width="2.55" height="5.95" fill="#00ffbe"/><rect x="467.7" y="385.4" width="2.55" height="5.95" fill="#00facd"/><rect x="470.2" y="385.4" width="2.55" height="5.95" fill="#00ffbe"/><rect x="472.7" y="385.4" width="20.05" height="5.95" fill="#00facd"/><rect x="492.7" y="385.4" width="2.55" height="5.95" fill="#00f5dd"/><rect x="495.2" y="385.4" width="2.55" height="5.95" fill="#00f1ec"/><rect x="497.7" y="385.4" width="5.05" height="5.95" fill="#00facd"/><rect x="502.7" y="385.4" width="6.75" height="5.95" fill="#00f5dd"/><rect x="165.2" y="379.5" width="2.55" height="5.95" fill="#55007d"/><rect x="167.7" y="379.5" width="5.05" height="5.95" fill="#1403ee"/><rect x="172.7" y="379.5" width="2.55" height="5.95" fill="#00a3ff"/><rect x="175.2" y="379.5" width="2.55" height="5.95" fill="#00dcff"/><rect x="177.7" y="379.5" width="2.55" height="5.95" fill="#00facd"/><rect x="180.2" y="379.5" width="2.55" height="5.95" fill="#00ff53"/><rect x="182.7" y="379.5" width="2.55" height="5.95" fill="#00ff00"/><rect x="185.2" y="379.5" width="2.55" height="5.95" fill="#19ff00"/><rect x="187.7" y="379.5" width="2.55" height="5.95" fill="#32ff00"/><rect x="190.2" y="379.5" width="7.55" height="5.95" fill="#64ff00"/><rect x="197.7" y="379.5" width="2.55" height="5.95" fill="#b0ff00"/><rect x="200.2" y="379.5" width="2.55" height="5.95" fill="#caff00"/><rect x="207.7" y="379.5" width="2.55" height="5.95" fill="#04ff00"/><rect x="210.2" y="379.5" width="2.55" height="5.95" fill="#08ff00"/><rect x="212.7" y="379.5" width="10.05" height="5.95" fill="#04ff00"/><rect x="222.7" y="379.5" width="5.05" height="5.95" fill="#00ff2a"/><rect x="227.7" y="379.5" width="2.55" height="5.95" fill="#00ff53"/><rect x="230.2" y="379.5" width="5.05" height="5.95" fill="#00ffa5"/><rect x="235.2" y="379.5" width="5.05" height="5.95" fill="#00f5dd"/><rect x="240.2" y="379.5" width="12.55" height="5.95" fill="#00f1ec"/><rect x="252.7" y="379.5" width="2.55" height="5.95" fill="#00f5dd"/><rect x="255.2" y="379.5" width="5.05" height="5.95" fill="#00facd"/><rect x="260.2" y="379.5" width="2.55" height="5.95" fill="#00f5dd"/><rect x="262.7" y="379.5" width="7.55" height="5.95" fill="#00facd"/><rect x="270.2" y="379.5" width="12.55" height="5.95" fill="#00ffbe"/><rect x="282.7" y="379.5" width="5.05" height="5.95" fill="#00ffa5"/><rect x="287.7" y="379.5" width="2.55" height="5.95" fill="#00ffbe"/><rect x="290.2" y="379.5" width="17.55" height="5.95" fill="#00ffa5"/><rect x="307.7" y="379.5" width="2.55" height="5.95" fill="#00ff8c"/><rect x="310.2" y="379.5" width="2.55" height="5.95" fill="#00ffa5"/><rect x="312.7" y="379.5" width="5.05" height="5.95" fill="#00ff8c"/><rect x="317.7" y="379.5" width="2.55" height="5.95" fill="#00ffa5"/><rect x="320.2" y="379.5" width="2.55" height="5.95" fill="#00ff8c"/><rect x="322.7" y="379.5" width="7.55" height="5.95" fill="#00ffa5"/><rect x="330.2" y="379.5" width="12.55" height="5.95" fill="#00ff8c"/><rect x="342.7" y="379.5" width="7.55" height="5.95" fill="#00ffa5"/><rect x="350.2" y="379.5" width="2.55" height="5.95" fill="#00ff8c"/><rect x="352.7" y="379.5" width="2.55" height="5.95" fill="#00ffa5"/><rect x="355.2" y="379.5" width="2.55" height="5.95" fill="#00ff8c"/><rect x="357.7" y="379.5" width="5.05" height="5.95" fill="#00ffa5"/><rect x="362.7" y="379.5" width="2.55" height="5.95" fill="#00ff8c"/><rect x="365.2" y="379.5" width="2.55" height="5.95" fill="#00ffa5"/><rect x="367.7" y="379.5" width="7.55" height="5.95" fill="#00ff8c"/><rect x="375.2" y="379.5" width="2.55" height="5.95" fill="#00ffa5"/><rect x="377.7" y="379.5" width="7.55" height="5.95" fill="#00ffbe"/><rect x="385.2" y="379.5" width="5.05" height="5.95" fill="#00facd"/><rect x="390.2" y="379.5" width="15.05" height="5.95" fill="#00f5dd"/><rect x="405.2" y="379.5" width="2.55" height="5.95" fill="#00f1ec"/><rect x="407.7" y="379.5" width="5.05" height="5.95" fill="#00ecfc"/><rect x="412.7" y="379.5" width="7.55" height="5.95" fill="#00dcff"/><rect x="420.2" y="379.5" width="2.55" height="5.95" fill="#00c9ff"/><rect x="422.7" y="379.5" width="2.55" height="5.95" fill="#00dcff"/><rect x="425.2" y="379.5" width="2.55" height="5.95" fill="#00c9ff"/><rect x="427.7" y="379.5" width="2.55" height="5.95" fill="#00dcff"/><rect x="430.2" y="379.5" width="5.05" height="5.95" fill="#00c9ff"/><rect x="435.2" y="379.5" width="2.55" height="5.95" fill="#00dcff"/><rect x="437.7" y="379.5" width="2.55" height="5.95" fill="#00b6ff"/><rect x="440.2" y="379.5" width="2.55" height="5.95" fill="#00c9ff"/><rect x="442.7" y="379.5" width="5.05" height="5.95" fill="#00b6ff"/><rect x="447.7" y="379.5" width="5.05" height="5.95" fill="#00c9ff"/><rect x="452.7" y="379.5" width="2.55" height="5.95" fill="#00b6ff"/><rect x="455.2" y="379.5" width="2.55" height="5.95" fill="#00a3ff"/><rect x="457.7" y="379.5" width="10.05" height="5.95" fill="#00b6ff"/><rect x="467.7" y="379.5" width="5.05" height="5.95" fill="#00a3ff"/><rect x="472.7" y="379.5" width="5.05" height="5.95" fill="#00b6ff"/><rect x="477.7" y="379.5" width="12.55" height="5.95" fill="#00a3ff"/><rect x="490.2" y="379.5" width="2.55" height="5.95" fill="#008cff"/><rect x="492.7" y="379.5" width="10.05" height="5.95" fill="#00a3ff"/><rect x="502.7" y="379.5" width="2.55" height="5.95" fill="#008cff"/><rect x="505.2" y="379.5" width="2.55" height="5.95" fill="#00a3ff"/><rect x="507.7" y="379.5" width="1.75" height="5.95" fill="#008cff"/><rect x="167.7" y="373.6" width="5.05" height="5.95" fill="#4c00bb"/><rect x="172.7" y="373.6" width="2.55" height="5.95" fill="#0328fa"/><rect x="175.2" y="373.6" width="2.55" height="5.95" fill="#008cff"/><rect x="177.7" y="373.6" width="2.55" height="5.95" fill="#00c9ff"/><rect x="180.2" y="373.6" width="2.55" height="5.95" fill="#00f5dd"/><rect x="182.7" y="373.6" width="2.55" height="5.95" fill="#00ff8c"/><rect x="185.2" y="373.6" width="2.55" height="5.95" fill="#00ff00"/><rect x="187.7" y="373.6" width="2.55" height="5.95" fill="#04ff00"/><rect x="190.2" y="373.6" width="2.55" height="5.95" fill="#08ff00"/><rect x="192.7" y="373.6" width="5.05" height="5.95" fill="#19ff00"/><rect x="197.7" y="373.6" width="2.55" height="5.95" fill="#4bff00"/><rect x="200.2" y="373.6" width="2.55" height="5.95" fill="#7dff00"/><rect x="207.7" y="373.6" width="7.55" height="5.95" fill="#04ff00"/><rect x="215.2" y="373.6" width="7.55" height="5.95" fill="#00ff00"/><rect x="222.7" y="373.6" width="2.55" height="5.95" fill="#00ff2a"/><rect x="225.2" y="373.6" width="2.55" height="5.95" fill="#00ff73"/><rect x="227.7" y="373.6" width="2.55" height="5.95" fill="#00ffbe"/><rect x="230.2" y="373.6" width="2.55" height="5.95" fill="#00facd"/><rect x="232.7" y="373.6" width="2.55" height="5.95" fill="#00ecfc"/><rect x="235.2" y="373.6" width="2.55" height="5.95" fill="#00dcff"/><rect x="237.7" y="373.6" width="2.55" height="5.95" fill="#00b6ff"/><rect x="240.2" y="373.6" width="2.55" height="5.95" fill="#00a3ff"/><rect x="242.7" y="373.6" width="2.55" height="5.95" fill="#00b6ff"/><rect x="245.2" y="373.6" width="7.55" height="5.95" fill="#00a3ff"/><rect x="252.7" y="373.6" width="2.55" height="5.95" fill="#00b6ff"/><rect x="255.2" y="373.6" width="2.55" height="5.95" fill="#00a3ff"/><rect x="257.7" y="373.6" width="2.55" height="5.95" fill="#00b6ff"/><rect x="260.2" y="373.6" width="2.55" height="5.95" fill="#00a3ff"/><rect x="262.7" y="373.6" width="12.55" height="5.95" fill="#00b6ff"/><rect x="275.2" y="373.6" width="2.55" height="5.95" fill="#00a3ff"/><rect x="277.7" y="373.6" width="15.05" height="5.95" fill="#00c9ff"/><rect x="292.7" y="373.6" width="2.55" height="5.95" fill="#00dcff"/><rect x="295.2" y="373.6" width="2.55" height="5.95" fill="#00c9ff"/><rect x="297.7" y="373.6" width="2.55" height="5.95" fill="#00dcff"/><rect x="300.2" y="373.6" width="2.55" height="5.95" fill="#00b6ff"/><rect x="302.7" y="373.6" width="12.55" height="5.95" fill="#00c9ff"/><rect x="315.2" y="373.6" width="2.55" height="5.95" fill="#00dcff"/><rect x="317.7" y="373.6" width="10.05" height="5.95" fill="#00c9ff"/><rect x="327.7" y="373.6" width="5.05" height="5.95" fill="#00dcff"/><rect x="332.7" y="373.6" width="2.55" height="5.95" fill="#00c9ff"/><rect x="335.2" y="373.6" width="2.55" height="5.95" fill="#00dcff"/><rect x="337.7" y="373.6" width="5.05" height="5.95" fill="#00c9ff"/><rect x="342.7" y="373.6" width="5.05" height="5.95" fill="#00dcff"/><rect x="347.7" y="373.6" width="12.55" height="5.95" fill="#00c9ff"/><rect x="360.2" y="373.6" width="5.05" height="5.95" fill="#00dcff"/><rect x="365.2" y="373.6" width="2.55" height="5.95" fill="#00c9ff"/><rect x="367.7" y="373.6" width="2.55" height="5.95" fill="#00ecfc"/><rect x="370.2" y="373.6" width="10.05" height="5.95" fill="#00c9ff"/><rect x="380.2" y="373.6" width="7.55" height="5.95" fill="#00b6ff"/><rect x="387.7" y="373.6" width="2.55" height="5.95" fill="#00a3ff"/><rect x="390.2" y="373.6" width="5.05" height="5.95" fill="#008cff"/><rect x="395.2" y="373.6" width="7.55" height="5.95" fill="#0073ff"/><rect x="402.7" y="373.6" width="2.55" height="5.95" fill="#005aff"/><rect x="405.2" y="373.6" width="2.55" height="5.95" fill="#0141fd"/><rect x="407.7" y="373.6" width="2.55" height="5.95" fill="#005aff"/><rect x="410.2" y="373.6" width="2.55" height="5.95" fill="#0328fa"/><rect x="412.7" y="373.6" width="2.55" height="5.95" fill="#1403ee"/><rect x="415.2" y="373.6" width="2.55" height="5.95" fill="#0141fd"/><rect x="417.7" y="373.6" width="2.55" height="5.95" fill="#040ff6"/><rect x="420.2" y="373.6" width="2.55" height="5.95" fill="#0141fd"/><rect x="422.7" y="373.6" width="2.55" height="5.95" fill="#1403ee"/><rect x="425.2" y="373.6" width="5.05" height="5.95" fill="#0328fa"/><rect x="430.2" y="373.6" width="2.55" height="5.95" fill="#4c00bb"/><rect x="432.7" y="373.6" width="5.05" height="5.95" fill="#2d01e3"/><rect x="437.7" y="373.6" width="2.55" height="5.95" fill="#0141fd"/><rect x="440.2" y="373.6" width="2.55" height="5.95" fill="#3e00d0"/><rect x="442.7" y="373.6" width="10.05" height="5.95" fill="#0328fa"/><rect x="452.7" y="373.6" width="2.55" height="5.95" fill="#1403ee"/><rect x="455.2" y="373.6" width="7.55" height="5.95" fill="#040ff6"/><rect x="462.7" y="373.6" width="2.55" height="5.95" fill="#0328fa"/><rect x="465.2" y="373.6" width="7.55" height="5.95" fill="#1403ee"/><rect x="472.7" y="373.6" width="2.55" height="5.95" fill="#040ff6"/><rect x="475.2" y="373.6" width="2.55" height="5.95" fill="#3e00d0"/><rect x="477.7" y="373.6" width="2.55" height="5.95" fill="#2d01e3"/><rect x="480.2" y="373.6" width="7.55" height="5.95" fill="#1403ee"/><rect x="487.7" y="373.6" width="2.55" height="5.95" fill="#5500a7"/><rect x="490.2" y="373.6" width="5.05" height="5.95" fill="#1403ee"/><rect x="495.2" y="373.6" width="2.55" height="5.95" fill="#040ff6"/><rect x="497.7" y="373.6" width="2.55" height="5.95" fill="#4c00bb"/><rect x="500.2" y="373.6" width="2.55" height="5.95" fill="#1403ee"/><rect x="502.7" y="373.6" width="5.05" height="5.95" fill="#040ff6"/><rect x="507.7" y="373.6" width="1.75" height="5.95" fill="#0328fa"/><rect x="170.2" y="367.7" width="2.55" height="5.95" fill="#5500a7"/><rect x="172.7" y="367.7" width="2.55" height="5.95" fill="#550092"/><rect x="175.2" y="367.7" width="2.55" height="5.95" fill="#040ff6"/><rect x="177.7" y="367.7" width="2.55" height="5.95" fill="#005aff"/><rect x="180.2" y="367.7" width="2.55" height="5.95" fill="#00b6ff"/><rect x="182.7" y="367.7" width="2.55" height="5.95" fill="#00facd"/><rect x="185.2" y="367.7" width="2.55" height="5.95" fill="#00ff8c"/><rect x="187.7" y="367.7" width="2.55" height="5.95" fill="#00ff73"/><rect x="190.2" y="367.7" width="2.55" height="5.95" fill="#00ff53"/><rect x="192.7" y="367.7" width="2.55" height="5.95" fill="#00ff2a"/><rect x="195.2" y="367.7" width="2.55" height="5.95" fill="#04ff00"/><rect x="197.7" y="367.7" width="2.55" height="5.95" fill="#08ff00"/><rect x="200.2" y="367.7" width="2.55" height="5.95" fill="#19ff00"/><rect x="207.7" y="367.7" width="2.55" height="5.95" fill="#00ff00"/><rect x="210.2" y="367.7" width="2.55" height="5.95" fill="#00ff2a"/><rect x="212.7" y="367.7" width="2.55" height="5.95" fill="#00ff00"/><rect x="215.2" y="367.7" width="7.55" height="5.95" fill="#00ff53"/><rect x="222.7" y="367.7" width="2.55" height="5.95" fill="#00ff8c"/><rect x="225.2" y="367.7" width="2.55" height="5.95" fill="#00ffbe"/><rect x="227.7" y="367.7" width="2.55" height="5.95" fill="#00f1ec"/><rect x="230.2" y="367.7" width="2.55" height="5.95" fill="#00c9ff"/><rect x="232.7" y="367.7" width="2.55" height="5.95" fill="#00a3ff"/><rect x="235.2" y="367.7" width="2.55" height="5.95" fill="#005aff"/><rect x="237.7" y="367.7" width="5.05" height="5.95" fill="#1403ee"/><rect x="242.7" y="367.7" width="5.05" height="5.95" fill="#040ff6"/><rect x="247.7" y="367.7" width="2.55" height="5.95" fill="#0328fa"/><rect x="250.2" y="367.7" width="2.55" height="5.95" fill="#040ff6"/><rect x="252.7" y="367.7" width="2.55" height="5.95" fill="#1403ee"/><rect x="255.2" y="367.7" width="2.55" height="5.95" fill="#0328fa"/><rect x="257.7" y="367.7" width="2.55" height="5.95" fill="#1403ee"/><rect x="260.2" y="367.7" width="2.55" height="5.95" fill="#2d01e3"/><rect x="262.7" y="367.7" width="2.55" height="5.95" fill="#040ff6"/><rect x="265.2" y="367.7" width="2.55" height="5.95" fill="#2d01e3"/><rect x="267.7" y="367.7" width="7.55" height="5.95" fill="#1403ee"/><rect x="275.2" y="367.7" width="2.55" height="5.95" fill="#040ff6"/><rect x="277.7" y="367.7" width="2.55" height="5.95" fill="#1403ee"/><rect x="280.2" y="367.7" width="2.55" height="5.95" fill="#040ff6"/><rect x="282.7" y="367.7" width="2.55" height="5.95" fill="#2d01e3"/><rect x="285.2" y="367.7" width="2.55" height="5.95" fill="#040ff6"/><rect x="287.7" y="367.7" width="2.55" height="5.95" fill="#1403ee"/><rect x="290.2" y="367.7" width="2.55" height="5.95" fill="#0328fa"/><rect x="292.7" y="367.7" width="2.55" height="5.95" fill="#4c00bb"/><rect x="295.2" y="367.7" width="2.55" height="5.95" fill="#1403ee"/><rect x="297.7" y="367.7" width="2.55" height="5.95" fill="#0328fa"/><rect x="300.2" y="367.7" width="2.55" height="5.95" fill="#3e00d0"/><rect x="302.7" y="367.7" width="2.55" height="5.95" fill="#040ff6"/><rect x="305.2" y="367.7" width="5.05" height="5.95" fill="#0328fa"/><rect x="310.2" y="367.7" width="2.55" height="5.95" fill="#1403ee"/><rect x="312.7" y="367.7" width="5.05" height="5.95" fill="#0328fa"/><rect x="317.7" y="367.7" width="2.55" height="5.95" fill="#040ff6"/><rect x="320.2" y="367.7" width="2.55" height="5.95" fill="#0141fd"/><rect x="322.7" y="367.7" width="7.55" height="5.95" fill="#0328fa"/><rect x="330.2" y="367.7" width="2.55" height="5.95" fill="#0141fd"/><rect x="332.7" y="367.7" width="2.55" height="5.95" fill="#0328fa"/><rect x="335.2" y="367.7" width="2.55" height="5.95" fill="#005aff"/><rect x="337.7" y="367.7" width="2.55" height="5.95" fill="#0141fd"/><rect x="340.2" y="367.7" width="2.55" height="5.95" fill="#040ff6"/><rect x="342.7" y="367.7" width="2.55" height="5.95" fill="#0328fa"/><rect x="345.2" y="367.7" width="2.55" height="5.95" fill="#005aff"/><rect x="347.7" y="367.7" width="2.55" height="5.95" fill="#0328fa"/><rect x="350.2" y="367.7" width="5.05" height="5.95" fill="#0141fd"/><rect x="355.2" y="367.7" width="2.55" height="5.95" fill="#0328fa"/><rect x="357.7" y="367.7" width="2.55" height="5.95" fill="#2d01e3"/><rect x="360.2" y="367.7" width="7.55" height="5.95" fill="#0141fd"/><rect x="367.7" y="367.7" width="2.55" height="5.95" fill="#040ff6"/><rect x="370.2" y="367.7" width="2.55" height="5.95" fill="#005aff"/><rect x="372.7" y="367.7" width="2.55" height="5.95" fill="#0328fa"/><rect x="375.2" y="367.7" width="2.55" height="5.95" fill="#040ff6"/><rect x="377.7" y="367.7" width="2.55" height="5.95" fill="#1403ee"/><rect x="380.2" y="367.7" width="2.55" height="5.95" fill="#040ff6"/><rect x="382.7" y="367.7" width="5.05" height="5.95" fill="#2d01e3"/><rect x="387.7" y="367.7" width="2.55" height="5.95" fill="#0141fd"/><rect x="390.2" y="367.7" width="7.55" height="5.95" fill="#040ff6"/><rect x="397.7" y="367.7" width="2.55" height="5.95" fill="#2d01e3"/><rect x="400.2" y="367.7" width="2.55" height="5.95" fill="#5500a7"/><rect x="402.7" y="367.7" width="5.05" height="5.95" fill="#2d01e3"/><rect x="407.7" y="367.7" width="2.55" height="5.95" fill="#3e00d0"/><rect x="410.2" y="367.7" width="2.55" height="5.95" fill="#55007d"/><rect x="412.7" y="367.7" width="5.05" height="5.95" fill="#3e00d0"/><rect x="417.7" y="367.7" width="5.05" height="5.95" fill="#550092"/><rect x="422.7" y="367.7" width="2.55" height="5.95" fill="#5500a7"/><rect x="425.2" y="367.7" width="2.55" height="5.95" fill="#550092"/><rect x="427.7" y="367.7" width="2.55" height="5.95" fill="#5500a7"/><rect x="430.2" y="367.7" width="2.55" height="5.95" fill="#550092"/><rect x="432.7" y="367.7" width="2.55" height="5.95" fill="#5500a7"/><rect x="435.2" y="367.7" width="2.55" height="5.95" fill="#550092"/><rect x="440.2" y="367.7" width="2.55" height="5.95" fill="#4c006c"/><rect x="442.7" y="367.7" width="2.55" height="5.95" fill="#2d01e3"/><rect x="445.2" y="367.7" width="2.55" height="5.95" fill="#550092"/><rect x="447.7" y="367.7" width="5.05" height="5.95" fill="#5500a7"/><rect x="452.7" y="367.7" width="2.55" height="5.95" fill="#4c00bb"/><rect x="455.2" y="367.7" width="2.55" height="5.95" fill="#550092"/><rect x="457.7" y="367.7" width="2.55" height="5.95" fill="#4c006c"/><rect x="460.2" y="367.7" width="2.55" height="5.95" fill="#55007d"/><rect x="465.2" y="367.7" width="2.55" height="5.95" fill="#4c006c"/><rect x="467.7" y="367.7" width="2.55" height="5.95" fill="#550092"/><rect x="472.7" y="367.7" width="2.55" height="5.95" fill="#55007d"/><rect x="475.2" y="367.7" width="5.05" height="5.95" fill="#550092"/><rect x="490.2" y="367.7" width="2.55" height="5.95" fill="#55007d"/><rect x="492.7" y="367.7" width="2.55" height="5.95" fill="#5500a7"/><rect x="497.7" y="367.7" width="2.55" height="5.95" fill="#550092"/><rect x="500.2" y="367.7" width="2.55" height="5.95" fill="#4c006c"/><rect x="505.2" y="367.7" width="2.55" height="5.95" fill="#5500a7"/><rect x="172.7" y="361.8" width="2.55" height="5.95" fill="#4c006c"/><rect x="175.2" y="361.8" width="2.55" height="5.95" fill="#5500a7"/><rect x="177.7" y="361.8" width="2.55" height="5.95" fill="#0141fd"/><rect x="180.2" y="361.8" width="2.55" height="5.95" fill="#0073ff"/><rect x="182.7" y="361.8" width="2.55" height="5.95" fill="#00dcff"/><rect x="185.2" y="361.8" width="2.55" height="5.95" fill="#00f5dd"/><rect x="187.7" y="361.8" width="2.55" height="5.95" fill="#00ffbe"/><rect x="190.2" y="361.8" width="2.55" height="5.95" fill="#00ffa5"/><rect x="192.7" y="361.8" width="2.55" height="5.95" fill="#00ff8c"/><rect x="195.2" y="361.8" width="5.05" height="5.95" fill="#00ff53"/><rect x="200.2" y="361.8" width="2.55" height="5.95" fill="#00ff2a"/><rect x="207.7" y="361.8" width="2.55" height="5.95" fill="#00ff53"/><rect x="210.2" y="361.8" width="2.55" height="5.95" fill="#00ff2a"/><rect x="212.7" y="361.8" width="2.55" height="5.95" fill="#00ff73"/><rect x="215.2" y="361.8" width="5.05" height="5.95" fill="#00ff8c"/><rect x="220.2" y="361.8" width="2.55" height="5.95" fill="#00ffa5"/><rect x="222.7" y="361.8" width="2.55" height="5.95" fill="#00facd"/><rect x="225.2" y="361.8" width="2.55" height="5.95" fill="#00ecfc"/><rect x="227.7" y="361.8" width="2.55" height="5.95" fill="#00b6ff"/><rect x="230.2" y="361.8" width="2.55" height="5.95" fill="#0073ff"/><rect x="232.7" y="361.8" width="2.55" height="5.95" fill="#040ff6"/><rect x="235.2" y="361.8" width="2.55" height="5.95" fill="#2d01e3"/><rect x="237.7" y="361.8" width="5.05" height="5.95" fill="#550092"/><rect x="242.7" y="361.8" width="2.55" height="5.95" fill="#2d01e3"/><rect x="245.2" y="361.8" width="2.55" height="5.95" fill="#550092"/><rect x="247.7" y="361.8" width="2.55" height="5.95" fill="#55007d"/><rect x="250.2" y="361.8" width="2.55" height="5.95" fill="#3e00d0"/><rect x="252.7" y="361.8" width="12.55" height="5.95" fill="#5500a7"/><rect x="265.2" y="361.8" width="7.55" height="5.95" fill="#4c00bb"/><rect x="272.7" y="361.8" width="2.55" height="5.95" fill="#550092"/><rect x="275.2" y="361.8" width="2.55" height="5.95" fill="#5500a7"/><rect x="277.7" y="361.8" width="2.55" height="5.95" fill="#550092"/><rect x="280.2" y="361.8" width="5.05" height="5.95" fill="#4c00bb"/><rect x="285.2" y="361.8" width="2.55" height="5.95" fill="#550092"/><rect x="287.7" y="361.8" width="2.55" height="5.95" fill="#4c00bb"/><rect x="290.2" y="361.8" width="2.55" height="5.95" fill="#1403ee"/><rect x="292.7" y="361.8" width="2.55" height="5.95" fill="#3e00d0"/><rect x="295.2" y="361.8" width="2.55" height="5.95" fill="#55007d"/><rect x="297.7" y="361.8" width="2.55" height="5.95" fill="#5500a7"/><rect x="300.2" y="361.8" width="2.55" height="5.95" fill="#4c00bb"/><rect x="302.7" y="361.8" width="5.05" height="5.95" fill="#5500a7"/><rect x="307.7" y="361.8" width="2.55" height="5.95" fill="#3e00d0"/><rect x="310.2" y="361.8" width="2.55" height="5.95" fill="#5500a7"/><rect x="312.7" y="361.8" width="2.55" height="5.95" fill="#55007d"/><rect x="315.2" y="361.8" width="2.55" height="5.95" fill="#4c00bb"/><rect x="317.7" y="361.8" width="5.05" height="5.95" fill="#5500a7"/><rect x="322.7" y="361.8" width="2.55" height="5.95" fill="#550092"/><rect x="325.2" y="361.8" width="5.05" height="5.95" fill="#55007d"/><rect x="330.2" y="361.8" width="2.55" height="5.95" fill="#550092"/><rect x="332.7" y="361.8" width="2.55" height="5.95" fill="#55007d"/><rect x="337.7" y="361.8" width="2.55" height="5.95" fill="#3e00d0"/><rect x="340.2" y="361.8" width="2.55" height="5.95" fill="#55007d"/><rect x="342.7" y="361.8" width="2.55" height="5.95" fill="#550092"/><rect x="345.2" y="361.8" width="2.55" height="5.95" fill="#4c00bb"/><rect x="350.2" y="361.8" width="2.55" height="5.95" fill="#3e00d0"/><rect x="352.7" y="361.8" width="2.55" height="5.95" fill="#550092"/><rect x="355.2" y="361.8" width="2.55" height="5.95" fill="#4c00bb"/><rect x="357.7" y="361.8" width="2.55" height="5.95" fill="#550092"/><rect x="360.2" y="361.8" width="7.55" height="5.95" fill="#5500a7"/><rect x="367.7" y="361.8" width="2.55" height="5.95" fill="#4c006c"/><rect x="370.2" y="361.8" width="2.55" height="5.95" fill="#55007d"/><rect x="372.7" y="361.8" width="2.55" height="5.95" fill="#5500a7"/><rect x="375.2" y="361.8" width="2.55" height="5.95" fill="#4c00bb"/><rect x="377.7" y="361.8" width="2.55" height="5.95" fill="#55007d"/><rect x="380.2" y="361.8" width="2.55" height="5.95" fill="#550092"/><rect x="382.7" y="361.8" width="5.05" height="5.95" fill="#55007d"/><rect x="387.7" y="361.8" width="2.55" height="5.95" fill="#550092"/><rect x="392.7" y="361.8" width="2.55" height="5.95" fill="#4c006c"/><rect x="177.7" y="355.9" width="2.55" height="5.95" fill="#550092"/><rect x="180.2" y="355.9" width="2.55" height="5.95" fill="#2d01e3"/><rect x="182.7" y="355.9" width="2.55" height="5.95" fill="#005aff"/><rect x="185.2" y="355.9" width="2.55" height="5.95" fill="#00b6ff"/><rect x="187.7" y="355.9" width="2.55" height="5.95" fill="#00dcff"/><rect x="190.2" y="355.9" width="2.55" height="5.95" fill="#00f5dd"/><rect x="192.7" y="355.9" width="2.55" height="5.95" fill="#00facd"/><rect x="195.2" y="355.9" width="2.55" height="5.95" fill="#00ffbe"/><rect x="197.7" y="355.9" width="5.05" height="5.95" fill="#00ffa5"/><rect x="207.7" y="355.9" width="5.05" height="5.95" fill="#00ffa5"/><rect x="212.7" y="355.9" width="5.05" height="5.95" fill="#00ffbe"/><rect x="217.7" y="355.9" width="2.55" height="5.95" fill="#00f5dd"/><rect x="220.2" y="355.9" width="2.55" height="5.95" fill="#00ecfc"/><rect x="222.7" y="355.9" width="2.55" height="5.95" fill="#00c9ff"/><rect x="225.2" y="355.9" width="2.55" height="5.95" fill="#008cff"/><rect x="227.7" y="355.9" width="2.55" height="5.95" fill="#0141fd"/><rect x="230.2" y="355.9" width="2.55" height="5.95" fill="#1403ee"/><rect x="232.7" y="355.9" width="2.55" height="5.95" fill="#4c00bb"/><rect x="235.2" y="355.9" width="2.55" height="5.95" fill="#55007d"/><rect x="180.2" y="350.0" width="2.55" height="5.95" fill="#4c00bb"/><rect x="182.7" y="350.0" width="2.55" height="5.95" fill="#0328fa"/><rect x="185.2" y="350.0" width="2.55" height="5.95" fill="#005aff"/><rect x="187.7" y="350.0" width="5.05" height="5.95" fill="#00a3ff"/><rect x="192.7" y="350.0" width="2.55" height="5.95" fill="#00dcff"/><rect x="195.2" y="350.0" width="2.55" height="5.95" fill="#00ecfc"/><rect x="197.7" y="350.0" width="5.05" height="5.95" fill="#00f1ec"/><rect x="207.7" y="350.0" width="2.55" height="5.95" fill="#00facd"/><rect x="210.2" y="350.0" width="2.55" height="5.95" fill="#00f5dd"/><rect x="212.7" y="350.0" width="2.55" height="5.95" fill="#00ecfc"/><rect x="215.2" y="350.0" width="2.55" height="5.95" fill="#00c9ff"/><rect x="217.7" y="350.0" width="2.55" height="5.95" fill="#00b6ff"/><rect x="220.2" y="350.0" width="2.55" height="5.95" fill="#00a3ff"/><rect x="222.7" y="350.0" width="2.55" height="5.95" fill="#0073ff"/><rect x="225.2" y="350.0" width="2.55" height="5.95" fill="#005aff"/><rect x="227.7" y="350.0" width="2.55" height="5.95" fill="#0328fa"/><rect x="230.2" y="350.0" width="5.05" height="5.95" fill="#550092"/><rect x="235.2" y="350.0" width="2.55" height="5.95" fill="#4c006c"/><rect x="182.7" y="344.1" width="2.55" height="5.95" fill="#4c00bb"/><rect x="185.2" y="344.1" width="5.05" height="5.95" fill="#2d01e3"/><rect x="190.2" y="344.1" width="2.55" height="5.95" fill="#005aff"/><rect x="192.7" y="344.1" width="2.55" height="5.95" fill="#008cff"/><rect x="195.2" y="344.1" width="2.55" height="5.95" fill="#00b6ff"/><rect x="197.7" y="344.1" width="5.05" height="5.95" fill="#00c9ff"/><rect x="207.7" y="344.1" width="2.55" height="5.95" fill="#00dcff"/><rect x="210.2" y="344.1" width="2.55" height="5.95" fill="#00b6ff"/><rect x="212.7" y="344.1" width="2.55" height="5.95" fill="#00a3ff"/><rect x="215.2" y="344.1" width="2.55" height="5.95" fill="#0073ff"/><rect x="217.7" y="344.1" width="2.55" height="5.95" fill="#005aff"/><rect x="220.2" y="344.1" width="2.55" height="5.95" fill="#0141fd"/><rect x="222.7" y="344.1" width="2.55" height="5.95" fill="#4c00bb"/><rect x="225.2" y="344.1" width="2.55" height="5.95" fill="#0328fa"/><rect x="227.7" y="344.1" width="2.55" height="5.95" fill="#4c00bb"/><rect x="230.2" y="344.1" width="2.55" height="5.95" fill="#55007d"/><rect x="182.7" y="338.2" width="2.55" height="5.95" fill="#4c006c"/><rect x="185.2" y="338.2" width="2.55" height="5.95" fill="#550092"/><rect x="187.7" y="338.2" width="2.55" height="5.95" fill="#4c00bb"/><rect x="190.2" y="338.2" width="2.55" height="5.95" fill="#1403ee"/><rect x="192.7" y="338.2" width="2.55" height="5.95" fill="#0328fa"/><rect x="195.2" y="338.2" width="2.55" height="5.95" fill="#0073ff"/><rect x="197.7" y="338.2" width="5.05" height="5.95" fill="#008cff"/><rect x="207.7" y="338.2" width="2.55" height="5.95" fill="#008cff"/><rect x="210.2" y="338.2" width="2.55" height="5.95" fill="#0073ff"/><rect x="212.7" y="338.2" width="7.55" height="5.95" fill="#0141fd"/><rect x="220.2" y="338.2" width="2.55" height="5.95" fill="#040ff6"/><rect x="222.7" y="338.2" width="2.55" height="5.95" fill="#2d01e3"/><rect x="225.2" y="338.2" width="2.55" height="5.95" fill="#5500a7"/><rect x="227.7" y="338.2" width="2.55" height="5.95" fill="#55007d"/><rect x="230.2" y="338.2" width="5.05" height="5.95" fill="#4c006c"/><rect x="187.7" y="332.3" width="2.55" height="5.95" fill="#55007d"/><rect x="190.2" y="332.3" width="2.55" height="5.95" fill="#5500a7"/><rect x="192.7" y="332.3" width="2.55" height="5.95" fill="#4c00bb"/><rect x="195.2" y="332.3" width="2.55" height="5.95" fill="#1403ee"/><rect x="197.7" y="332.3" width="2.55" height="5.95" fill="#0141fd"/><rect x="200.2" y="332.3" width="2.55" height="5.95" fill="#005aff"/><rect x="207.7" y="332.3" width="2.55" height="5.95" fill="#0141fd"/><rect x="210.2" y="332.3" width="2.55" height="5.95" fill="#2d01e3"/><rect x="212.7" y="332.3" width="2.55" height="5.95" fill="#1403ee"/><rect x="215.2" y="332.3" width="2.55" height="5.95" fill="#2d01e3"/><rect x="217.7" y="332.3" width="2.55" height="5.95" fill="#5500a7"/><rect x="220.2" y="332.3" width="2.55" height="5.95" fill="#4c00bb"/><rect x="222.7" y="332.3" width="2.55" height="5.95" fill="#550092"/><rect x="225.2" y="332.3" width="2.55" height="5.95" fill="#4c006c"/><rect x="230.2" y="332.3" width="2.55" height="5.95" fill="#4c006c"/><rect x="190.2" y="326.4" width="2.55" height="5.95" fill="#55007d"/><rect x="192.7" y="326.4" width="2.55" height="5.95" fill="#550092"/><rect x="195.2" y="326.4" width="2.55" height="5.95" fill="#4c00bb"/><rect x="197.7" y="326.4" width="5.05" height="5.95" fill="#040ff6"/><rect x="207.7" y="326.4" width="2.55" height="5.95" fill="#3e00d0"/><rect x="210.2" y="326.4" width="2.55" height="5.95" fill="#1403ee"/><rect x="212.7" y="326.4" width="2.55" height="5.95" fill="#5500a7"/><rect x="215.2" y="326.4" width="2.55" height="5.95" fill="#4c006c"/><rect x="217.7" y="326.4" width="2.55" height="5.95" fill="#550092"/><rect x="192.7" y="320.5" width="2.55" height="5.95" fill="#4c006c"/><rect x="195.2" y="320.5" width="2.55" height="5.95" fill="#55007d"/><rect x="197.7" y="320.5" width="2.55" height="5.95" fill="#5500a7"/><rect x="200.2" y="320.5" width="2.55" height="5.95" fill="#2d01e3"/><rect x="207.7" y="320.5" width="2.55" height="5.95" fill="#55007d"/><rect x="210.2" y="320.5" width="2.55" height="5.95" fill="#5500a7"/><rect x="212.7" y="320.5" width="2.55" height="5.95" fill="#4c006c"/><rect x="195.2" y="314.6" width="2.55" height="5.95" fill="#55007d"/><rect x="197.7" y="314.6" width="2.55" height="5.95" fill="#550092"/><rect x="200.2" y="314.6" width="2.55" height="5.95" fill="#55007d"/><rect x="202.7" y="289.7" width="4.5" height="181.6" fill="#fff"/></g><g><rect x="60.2" y="477.6" width="449.2" height="181.3" fill="#06a8f8"/><rect x="60.2" y="477.6" width="449.2" height="36.4" fill="#0a78ee" opacity="0.22"/><rect x="60.2" y="477.6" width="449.2" height="181.3" filter="url(#nz)"/><rect x="60.2" y="477.6" width="449.2" height="181.3" filter="url(#nz2)"/><rect x="60.2" y="514.6" width="449.2" height="6.2" fill="#16b4fa" opacity="0.6"/><rect x="60.2" y="533.6" width="449.2" height="1.4" fill="#20c0ff" opacity="0.6"/><rect x="60.2" y="540.8" width="449.2" height="1.6" fill="#0a60e0" opacity="0.35"/><rect x="60.2" y="552.5" width="449.2" height="1.2" fill="#22c4ff" opacity="0.5"/><rect x="60.2" y="489.5" width="449.2" height="1.2" fill="#22c4ff" opacity="0.35"/><rect x="60.2" y="587.5" width="449.2" height="1.2" fill="#22c4ff" opacity="0.45"/><rect x="60.2" y="646.8" width="449.2" height="1.5" fill="#35d0ff" opacity="0.8"/><rect x="381.0" y="530.5" width="88.0" height="25.0" fill="#0a60e0" opacity="0.25"/><rect x="381.0" y="532.6" width="88.0" height="2.6" fill="#1058e0" opacity="0.7"/><rect x="381.0" y="540.6" width="88.0" height="3.6" fill="#1050e0" opacity="0.75"/><rect x="381.0" y="551.0" width="88.0" height="2.0" fill="#1058e0" opacity="0.7"/><rect x="60.2" y="598.5" width="189.8" height="20.0" fill="#0a70e8" opacity="0.3"/><rect x="392.0" y="599.0" width="117.4" height="13.0" fill="#0a58e0" opacity="0.45"/><rect x="60.2" y="620.4" width="449.2" height="1.6" fill="#0a50e0" opacity="0.25"/><rect x="60.2" y="627.2" width="449.2" height="3.2" fill="#0818c0" opacity="0.95"/><rect x="60.2" y="630.4" width="449.2" height="4.0" fill="#28c0f0" opacity="0.95"/><rect x="194" y="486" width="6" height="28" fill="#38d4fa" opacity="0.6" filter="url(#bl)"/><rect x="203" y="486" width="8" height="28" fill="#38d4fa" opacity="0.45" filter="url(#bl)"/><rect x="224.5" y="489" width="1.6" height="25" fill="#30d0fa" opacity="0.7"/><rect x="62.2" y="522.6" width="1.6" height="1.8" fill="#40d0ff" opacity="0.85"/><rect x="68.2" y="522.6" width="1.6" height="1.8" fill="#40d0ff" opacity="0.85"/><rect x="78.7" y="522.6" width="1.6" height="1.8" fill="#0838d8" opacity="0.85"/><rect x="81.7" y="522.6" width="1.6" height="1.8" fill="#40d0ff" opacity="0.85"/><rect x="86.2" y="522.6" width="1.6" height="1.8" fill="#40d0ff" opacity="0.85"/><rect x="95.2" y="522.6" width="1.6" height="1.8" fill="#40d0ff" opacity="0.85"/><rect x="114.7" y="522.6" width="1.6" height="1.8" fill="#0838d8" opacity="0.85"/><rect x="119.2" y="522.6" width="1.6" height="1.8" fill="#40d0ff" opacity="0.85"/><rect x="122.2" y="522.6" width="1.6" height="1.8" fill="#40d0ff" opacity="0.85"/><rect x="126.7" y="522.6" width="1.6" height="1.8" fill="#40d0ff" opacity="0.85"/><rect x="131.2" y="522.6" width="1.6" height="1.8" fill="#0838d8" opacity="0.85"/><rect x="134.2" y="522.6" width="1.6" height="1.8" fill="#40d0ff" opacity="0.85"/><rect x="155.2" y="522.6" width="1.6" height="1.8" fill="#0838d8" opacity="0.85"/><rect x="159.7" y="522.6" width="1.6" height="1.8" fill="#40d0ff" opacity="0.85"/><rect x="165.7" y="522.6" width="1.6" height="1.8" fill="#0838d8" opacity="0.85"/><rect x="170.2" y="522.6" width="1.6" height="1.8" fill="#0838d8" opacity="0.85"/><rect x="174.7" y="522.6" width="1.6" height="1.8" fill="#0838d8" opacity="0.85"/><rect x="177.7" y="522.6" width="1.6" height="1.8" fill="#40d0ff" opacity="0.85"/><rect x="182.2" y="522.6" width="1.6" height="1.8" fill="#0838d8" opacity="0.85"/><rect x="191.2" y="522.6" width="1.6" height="1.8" fill="#0838d8" opacity="0.85"/><rect x="197.2" y="522.6" width="1.6" height="1.8" fill="#40d0ff" opacity="0.85"/><rect x="203.2" y="522.6" width="1.6" height="1.8" fill="#40d0ff" opacity="0.85"/><rect x="212.2" y="522.6" width="1.6" height="1.8" fill="#0838d8" opacity="0.85"/><rect x="219.7" y="522.6" width="1.6" height="1.8" fill="#0838d8" opacity="0.85"/><rect x="228.7" y="522.6" width="1.6" height="1.8" fill="#40d0ff" opacity="0.85"/><rect x="234.7" y="522.6" width="1.6" height="1.8" fill="#40d0ff" opacity="0.85"/><rect x="239.2" y="522.6" width="1.6" height="1.8" fill="#40d0ff" opacity="0.85"/><rect x="242.2" y="522.6" width="1.6" height="1.8" fill="#0838d8" opacity="0.85"/><rect x="251.2" y="522.6" width="1.6" height="1.8" fill="#0838d8" opacity="0.85"/><rect x="258.7" y="522.6" width="1.6" height="1.8" fill="#0838d8" opacity="0.85"/><rect x="275.2" y="522.6" width="1.6" height="1.8" fill="#0838d8" opacity="0.85"/><rect x="281.2" y="522.6" width="1.6" height="1.8" fill="#40d0ff" opacity="0.85"/><rect x="297.7" y="522.6" width="1.6" height="1.8" fill="#40d0ff" opacity="0.85"/><rect x="302.2" y="522.6" width="1.6" height="1.8" fill="#0838d8" opacity="0.85"/><rect x="306.7" y="522.6" width="1.6" height="1.8" fill="#40d0ff" opacity="0.85"/><rect x="317.2" y="522.6" width="1.6" height="1.8" fill="#0838d8" opacity="0.85"/><rect x="323.2" y="522.6" width="1.6" height="1.8" fill="#40d0ff" opacity="0.85"/><rect x="327.7" y="522.6" width="1.6" height="1.8" fill="#0838d8" opacity="0.85"/><rect x="330.7" y="522.6" width="1.6" height="1.8" fill="#0838d8" opacity="0.85"/><rect x="333.7" y="522.6" width="1.6" height="1.8" fill="#40d0ff" opacity="0.85"/><rect x="336.7" y="522.6" width="1.6" height="1.8" fill="#0838d8" opacity="0.85"/><rect x="341.2" y="522.6" width="1.6" height="1.8" fill="#0838d8" opacity="0.85"/><rect x="345.7" y="522.6" width="1.6" height="1.8" fill="#40d0ff" opacity="0.85"/><rect x="351.7" y="522.6" width="1.6" height="1.8" fill="#0838d8" opacity="0.85"/><rect x="356.2" y="522.6" width="1.6" height="1.8" fill="#40d0ff" opacity="0.85"/><rect x="371.2" y="522.6" width="1.6" height="1.8" fill="#40d0ff" opacity="0.85"/><rect x="381.7" y="522.6" width="1.6" height="1.8" fill="#40d0ff" opacity="0.85"/><rect x="389.2" y="522.6" width="1.6" height="1.8" fill="#0838d8" opacity="0.85"/><rect x="399.7" y="522.6" width="1.6" height="1.8" fill="#0838d8" opacity="0.85"/><rect x="411.7" y="522.6" width="1.6" height="1.8" fill="#0838d8" opacity="0.85"/><rect x="417.7" y="522.6" width="1.6" height="1.8" fill="#40d0ff" opacity="0.85"/><rect x="426.7" y="522.6" width="1.6" height="1.8" fill="#40d0ff" opacity="0.85"/><rect x="429.7" y="522.6" width="1.6" height="1.8" fill="#0838d8" opacity="0.85"/><rect x="434.2" y="522.6" width="1.6" height="1.8" fill="#0838d8" opacity="0.85"/><rect x="441.7" y="522.6" width="1.6" height="1.8" fill="#40d0ff" opacity="0.85"/><rect x="452.2" y="522.6" width="1.6" height="1.8" fill="#0838d8" opacity="0.85"/><rect x="456.7" y="522.6" width="1.6" height="1.8" fill="#0838d8" opacity="0.85"/><rect x="462.7" y="522.6" width="1.6" height="1.8" fill="#0838d8" opacity="0.85"/><rect x="468.7" y="522.6" width="1.6" height="1.8" fill="#0838d8" opacity="0.85"/><rect x="473.2" y="522.6" width="1.6" height="1.8" fill="#0838d8" opacity="0.85"/><rect x="477.7" y="522.6" width="1.6" height="1.8" fill="#0838d8" opacity="0.85"/><rect x="483.7" y="522.6" width="1.6" height="1.8" fill="#0838d8" opacity="0.85"/><rect x="488.2" y="522.6" width="1.6" height="1.8" fill="#40d0ff" opacity="0.85"/><rect x="68.2" y="514.2" width="1.6" height="1.8" fill="#0838d8" opacity="0.85"/><rect x="87.7" y="514.2" width="1.6" height="1.8" fill="#0838d8" opacity="0.85"/><rect x="129.7" y="514.2" width="1.6" height="1.8" fill="#0838d8" opacity="0.85"/><rect x="146.2" y="514.2" width="1.6" height="1.8" fill="#0838d8" opacity="0.85"/><rect x="177.7" y="514.2" width="1.6" height="1.8" fill="#40d0ff" opacity="0.85"/><rect x="180.7" y="514.2" width="1.6" height="1.8" fill="#40d0ff" opacity="0.85"/><rect x="206.2" y="514.2" width="1.6" height="1.8" fill="#40d0ff" opacity="0.85"/><rect x="233.2" y="514.2" width="1.6" height="1.8" fill="#0838d8" opacity="0.85"/><rect x="245.2" y="514.2" width="1.6" height="1.8" fill="#40d0ff" opacity="0.85"/><rect x="257.2" y="514.2" width="1.6" height="1.8" fill="#0838d8" opacity="0.85"/><rect x="279.7" y="514.2" width="1.6" height="1.8" fill="#0838d8" opacity="0.85"/><rect x="284.2" y="514.2" width="1.6" height="1.8" fill="#40d0ff" opacity="0.85"/><rect x="300.7" y="514.2" width="1.6" height="1.8" fill="#0838d8" opacity="0.85"/><rect x="317.2" y="514.2" width="1.6" height="1.8" fill="#40d0ff" opacity="0.85"/><rect x="323.2" y="514.2" width="1.6" height="1.8" fill="#0838d8" opacity="0.85"/><rect x="357.7" y="514.2" width="1.6" height="1.8" fill="#40d0ff" opacity="0.85"/><rect x="393.7" y="514.2" width="1.6" height="1.8" fill="#0838d8" opacity="0.85"/><rect x="411.7" y="514.2" width="1.6" height="1.8" fill="#0838d8" opacity="0.85"/><rect x="417.7" y="514.2" width="1.6" height="1.8" fill="#40d0ff" opacity="0.85"/><rect x="428.2" y="514.2" width="1.6" height="1.8" fill="#40d0ff" opacity="0.85"/><rect x="434.2" y="514.2" width="1.6" height="1.8" fill="#0838d8" opacity="0.85"/><rect x="476.2" y="514.2" width="1.6" height="1.8" fill="#40d0ff" opacity="0.85"/><rect x="488.2" y="514.2" width="1.6" height="1.8" fill="#0838d8" opacity="0.85"/><rect x="61.2" y="631.1" width="2" height="1.8" fill="#a0f020" opacity="0.8"/><rect x="64.1" y="627.1" width="2" height="1.6" fill="#2090ff" opacity="0.85"/><rect x="81.5" y="627.8" width="1.5" height="1.6" fill="#1060f0" opacity="0.85"/><rect x="87.0" y="630.5" width="1.5" height="1.8" fill="#60ff80" opacity="0.8"/><rect x="92.4" y="628.5" width="3" height="1.6" fill="#2090ff" opacity="0.85"/><rect x="97.1" y="631.0" width="3" height="1.8" fill="#40f0d0" opacity="0.8"/><rect x="103.2" y="630.9" width="2" height="1.8" fill="#30e060" opacity="0.8"/><rect x="108.1" y="627.2" width="1.5" height="1.6" fill="#1060f0" opacity="0.85"/><rect x="115.8" y="630.4" width="2" height="1.8" fill="#a0f020" opacity="0.8"/><rect x="122.8" y="627.3" width="3" height="1.6" fill="#30d0ff" opacity="0.85"/><rect x="132.5" y="630.7" width="2" height="1.8" fill="#a0f020" opacity="0.8"/><rect x="137.3" y="627.2" width="3" height="1.6" fill="#1060f0" opacity="0.85"/><rect x="148.2" y="628.1" width="2" height="1.6" fill="#1060f0" opacity="0.85"/><rect x="152.8" y="627.9" width="3" height="1.6" fill="#30d0ff" opacity="0.85"/><rect x="157.7" y="627.9" width="1.5" height="1.6" fill="#2090ff" opacity="0.85"/><rect x="177.5" y="632.0" width="2" height="1.8" fill="#30e060" opacity="0.8"/><rect x="182.3" y="631.1" width="1.5" height="1.8" fill="#30e060" opacity="0.8"/><rect x="190.3" y="630.4" width="3" height="1.8" fill="#30e060" opacity="0.8"/><rect x="192.7" y="628.5" width="1.5" height="1.6" fill="#1060f0" opacity="0.85"/><rect x="197.5" y="627.2" width="1.5" height="1.6" fill="#2090ff" opacity="0.85"/><rect x="201.9" y="631.1" width="3" height="1.8" fill="#a0f020" opacity="0.8"/><rect x="221.1" y="628.2" width="1.5" height="1.6" fill="#30d0ff" opacity="0.85"/><rect x="226.2" y="627.4" width="3" height="1.6" fill="#2090ff" opacity="0.85"/><rect x="231.3" y="631.8" width="3" height="1.8" fill="#60ff80" opacity="0.8"/><rect x="236.6" y="631.7" width="3" height="1.8" fill="#40f0d0" opacity="0.8"/><rect x="242.8" y="630.2" width="2" height="1.8" fill="#e0f000" opacity="0.8"/><rect x="248.1" y="630.8" width="2" height="1.8" fill="#a0f020" opacity="0.8"/><rect x="254.3" y="631.9" width="2" height="1.8" fill="#40f0d0" opacity="0.8"/><rect x="258.4" y="630.5" width="2" height="1.8" fill="#60ff80" opacity="0.8"/><rect x="263.3" y="631.5" width="2" height="1.8" fill="#40f0d0" opacity="0.8"/><rect x="269.7" y="630.5" width="1.5" height="1.8" fill="#30e060" opacity="0.8"/><rect x="275.2" y="632.1" width="2" height="1.8" fill="#a0f020" opacity="0.8"/><rect x="278.2" y="628.7" width="1.5" height="1.6" fill="#30d0ff" opacity="0.85"/><rect x="285.7" y="627.3" width="2" height="1.6" fill="#1060f0" opacity="0.85"/><rect x="305.5" y="629.0" width="1.5" height="1.6" fill="#1060f0" opacity="0.85"/><rect x="312.2" y="631.9" width="1.5" height="1.8" fill="#e0f000" opacity="0.8"/><rect x="328.8" y="628.4" width="3" height="1.6" fill="#2090ff" opacity="0.85"/><rect x="341.6" y="630.1" width="3" height="1.8" fill="#60ff80" opacity="0.8"/><rect x="343.6" y="630.3" width="2" height="1.8" fill="#60ff80" opacity="0.8"/><rect x="348.3" y="627.6" width="2" height="1.6" fill="#1060f0" opacity="0.85"/><rect x="357.3" y="627.6" width="1.5" height="1.6" fill="#1060f0" opacity="0.85"/><rect x="366.4" y="628.8" width="3" height="1.6" fill="#30d0ff" opacity="0.85"/><rect x="371.8" y="631.6" width="3" height="1.8" fill="#40f0d0" opacity="0.8"/><rect x="380.5" y="630.0" width="2" height="1.8" fill="#a0f020" opacity="0.8"/><rect x="387.4" y="627.1" width="1.5" height="1.6" fill="#2090ff" opacity="0.85"/><rect x="393.6" y="631.6" width="1.5" height="1.8" fill="#40f0d0" opacity="0.8"/><rect x="398.1" y="632.3" width="2" height="1.8" fill="#a0f020" opacity="0.8"/><rect x="401.7" y="631.0" width="2" height="1.8" fill="#60ff80" opacity="0.8"/><rect x="409.7" y="632.1" width="1.5" height="1.8" fill="#40f0d0" opacity="0.8"/><rect x="415.7" y="631.2" width="3" height="1.8" fill="#60ff80" opacity="0.8"/><rect x="421.4" y="631.1" width="1.5" height="1.8" fill="#e0f000" opacity="0.8"/><rect x="435.9" y="627.2" width="1.5" height="1.6" fill="#1060f0" opacity="0.85"/><rect x="458.4" y="630.9" width="3" height="1.8" fill="#60ff80" opacity="0.8"/><rect x="467.8" y="630.7" width="1.5" height="1.8" fill="#e0f000" opacity="0.8"/><rect x="478.2" y="628.5" width="2" height="1.6" fill="#1060f0" opacity="0.85"/><rect x="483.1" y="628.0" width="1.5" height="1.6" fill="#1060f0" opacity="0.85"/><rect x="485.9" y="631.2" width="3" height="1.8" fill="#40f0d0" opacity="0.8"/><rect x="499.9" y="631.5" width="2" height="1.8" fill="#e0f000" opacity="0.8"/><rect x="60.2" y="634.4" width="449.2" height="13.2" fill="#250026"/><rect x="70.3" y="600.4" width="1.4" height="15.6" fill="#30d8f0" opacity="0.55"/><rect x="70.3" y="601.9" width="1.4" height="7.0" fill="#70f070" opacity="0.6"/><rect x="82.8" y="599.6" width="1.4" height="19.4" fill="#30d8f0" opacity="0.55"/><rect x="82.8" y="601.1" width="1.4" height="5.3" fill="#70f070" opacity="0.6"/><rect x="95.2" y="599.0" width="1.4" height="18.5" fill="#30d8f0" opacity="0.55"/><rect x="95.2" y="600.5" width="1.4" height="6.3" fill="#70f070" opacity="0.6"/><rect x="94.9" y="620.5" width="2" height="1.8" fill="#0830d0" opacity="0.8"/><rect x="107.6" y="599.0" width="1.4" height="15.5" fill="#30d8f0" opacity="0.55"/><rect x="107.6" y="600.5" width="1.4" height="7.6" fill="#70f070" opacity="0.6"/><rect x="120.1" y="599.8" width="1.4" height="14.7" fill="#30d8f0" opacity="0.55"/><rect x="120.1" y="601.3" width="1.4" height="5.9" fill="#70f070" opacity="0.6"/><rect x="132.6" y="598.9" width="1.4" height="17.2" fill="#30d8f0" opacity="0.55"/><rect x="132.6" y="600.4" width="1.4" height="7.1" fill="#70f070" opacity="0.6"/><rect x="132.2" y="620.5" width="2" height="1.8" fill="#0830d0" opacity="0.8"/><rect x="145.0" y="599.6" width="1.4" height="19.8" fill="#30d8f0" opacity="0.55"/><rect x="145.0" y="601.1" width="1.4" height="7.3" fill="#70f070" opacity="0.6"/><rect x="144.7" y="620.5" width="2" height="1.8" fill="#0830d0" opacity="0.8"/><rect x="157.4" y="599.4" width="1.4" height="16.5" fill="#30d8f0" opacity="0.55"/><rect x="157.4" y="600.9" width="1.4" height="7.1" fill="#70f070" opacity="0.6"/><rect x="169.9" y="599.0" width="1.4" height="18.2" fill="#30d8f0" opacity="0.55"/><rect x="169.9" y="600.5" width="1.4" height="6.3" fill="#70f070" opacity="0.6"/><rect x="169.6" y="620.5" width="2" height="1.8" fill="#0830d0" opacity="0.8"/><rect x="182.4" y="599.1" width="1.4" height="16.3" fill="#30d8f0" opacity="0.55"/><rect x="182.4" y="600.6" width="1.4" height="5.6" fill="#70f070" opacity="0.6"/><rect x="194.8" y="600.5" width="1.4" height="19.6" fill="#30d8f0" opacity="0.55"/><rect x="194.8" y="602.0" width="1.4" height="6.9" fill="#70f070" opacity="0.6"/><rect x="207.2" y="599.5" width="1.4" height="17.5" fill="#30d8f0" opacity="0.55"/><rect x="207.2" y="601.0" width="1.4" height="7.7" fill="#70f070" opacity="0.6"/><rect x="206.9" y="620.5" width="2" height="1.8" fill="#0830d0" opacity="0.8"/><rect x="219.7" y="599.2" width="1.4" height="16.2" fill="#30d8f0" opacity="0.55"/><rect x="219.7" y="600.7" width="1.4" height="6.0" fill="#70f070" opacity="0.6"/><rect x="219.4" y="620.5" width="2" height="1.8" fill="#0830d0" opacity="0.8"/><rect x="232.2" y="598.6" width="1.4" height="18.1" fill="#30d8f0" opacity="0.55"/><rect x="232.2" y="600.1" width="1.4" height="7.9" fill="#70f070" opacity="0.6"/><rect x="231.8" y="620.5" width="2" height="1.8" fill="#0830d0" opacity="0.8"/><rect x="244.6" y="598.9" width="1.4" height="16.0" fill="#30d8f0" opacity="0.55"/><rect x="244.6" y="600.4" width="1.4" height="7.4" fill="#70f070" opacity="0.6"/><rect x="244.3" y="620.5" width="2" height="1.8" fill="#0830d0" opacity="0.8"/><rect x="394.9" y="600.0" width="1.4" height="15.0" fill="#30d8f0" opacity="0.55"/><rect x="394.9" y="601.5" width="1.4" height="6.8" fill="#70f070" opacity="0.6"/><rect x="406.2" y="599.8" width="1.4" height="14.5" fill="#30d8f0" opacity="0.55"/><rect x="406.2" y="601.3" width="1.4" height="7.9" fill="#70f070" opacity="0.6"/><rect x="417.3" y="599.5" width="1.4" height="19.2" fill="#30d8f0" opacity="0.55"/><rect x="417.3" y="601.0" width="1.4" height="6.8" fill="#70f070" opacity="0.6"/><rect x="417.0" y="620.5" width="2" height="1.8" fill="#0830d0" opacity="0.8"/><rect x="428.3" y="599.3" width="1.4" height="18.9" fill="#30d8f0" opacity="0.55"/><rect x="428.3" y="600.8" width="1.4" height="6.4" fill="#70f070" opacity="0.6"/><rect x="428.0" y="620.5" width="2" height="1.8" fill="#0830d0" opacity="0.8"/><rect x="438.0" y="598.8" width="1.4" height="15.1" fill="#30d8f0" opacity="0.55"/><rect x="438.0" y="600.3" width="1.4" height="6.8" fill="#70f070" opacity="0.6"/><rect x="443.3" y="599.4" width="1.4" height="16.4" fill="#30d8f0" opacity="0.55"/><rect x="443.3" y="600.9" width="1.4" height="7.9" fill="#70f070" opacity="0.6"/><rect x="443.0" y="620.5" width="2" height="1.8" fill="#0830d0" opacity="0.8"/><rect x="449.3" y="599.8" width="1.4" height="15.2" fill="#30d8f0" opacity="0.55"/><rect x="449.3" y="601.3" width="1.4" height="6.5" fill="#70f070" opacity="0.6"/><rect x="449.0" y="620.5" width="2" height="1.8" fill="#0830d0" opacity="0.8"/><rect x="456.8" y="598.7" width="1.4" height="16.0" fill="#30d8f0" opacity="0.55"/><rect x="456.8" y="600.2" width="1.4" height="5.3" fill="#70f070" opacity="0.6"/><rect x="456.5" y="620.5" width="2" height="1.8" fill="#0830d0" opacity="0.8"/><rect x="468.0" y="599.8" width="1.4" height="17.3" fill="#30d8f0" opacity="0.55"/><rect x="468.0" y="601.3" width="1.4" height="7.4" fill="#70f070" opacity="0.6"/><rect x="467.7" y="620.5" width="2" height="1.8" fill="#0830d0" opacity="0.8"/><rect x="479.3" y="598.7" width="1.4" height="18.4" fill="#30d8f0" opacity="0.55"/><rect x="479.3" y="600.2" width="1.4" height="6.2" fill="#70f070" opacity="0.6"/><rect x="488.3" y="600.5" width="1.4" height="17.1" fill="#30d8f0" opacity="0.55"/><rect x="488.3" y="602.0" width="1.4" height="5.8" fill="#70f070" opacity="0.6"/><rect x="488.0" y="620.5" width="2" height="1.8" fill="#0830d0" opacity="0.8"/><rect x="491.8" y="599.5" width="1.4" height="15.9" fill="#30d8f0" opacity="0.55"/><rect x="491.8" y="601.0" width="1.4" height="5.3" fill="#70f070" opacity="0.6"/><rect x="491.5" y="620.5" width="2" height="1.8" fill="#0830d0" opacity="0.8"/><rect x="498.0" y="599.8" width="1.4" height="18.9" fill="#30d8f0" opacity="0.55"/><rect x="498.0" y="601.3" width="1.4" height="7.3" fill="#70f070" opacity="0.6"/><rect x="505.3" y="600.1" width="1.4" height="16.5" fill="#30d8f0" opacity="0.55"/><rect x="505.3" y="601.6" width="1.4" height="6.9" fill="#70f070" opacity="0.6"/><rect x="505.0" y="620.5" width="2" height="1.8" fill="#0830d0" opacity="0.8"/><rect x="235.0" y="490.0" width="1.55" height="2.05" fill="#00f8d5"/><rect x="236.5" y="490.0" width="1.55" height="2.05" fill="#00f1ec"/><rect x="235.0" y="492.0" width="1.55" height="2.05" fill="#00f1ec"/><rect x="236.5" y="492.0" width="1.55" height="2.05" fill="#00ff73"/><rect x="238.0" y="492.0" width="1.55" height="2.05" fill="#00e5ff"/><rect x="235.0" y="494.0" width="3.05" height="2.05" fill="#00f8d5"/><rect x="238.0" y="494.0" width="1.55" height="2.05" fill="#00ffbe"/><rect x="236.5" y="496.0" width="1.55" height="2.05" fill="#00ff73"/><rect x="238.0" y="496.0" width="1.55" height="2.05" fill="#00ffbe"/><rect x="236.5" y="498.0" width="1.55" height="2.05" fill="#00ffbe"/><rect x="238.0" y="498.0" width="1.55" height="2.05" fill="#06ff00"/><rect x="239.5" y="498.0" width="1.55" height="2.05" fill="#00e5ff"/><rect x="236.5" y="500.0" width="1.55" height="2.05" fill="#00f1ec"/><rect x="238.0" y="500.0" width="1.55" height="2.05" fill="#00ff00"/><rect x="239.5" y="500.0" width="1.55" height="2.05" fill="#00ff99"/><rect x="238.0" y="502.0" width="1.55" height="2.05" fill="#00ff73"/><rect x="239.5" y="502.0" width="1.55" height="2.05" fill="#00ff00"/><rect x="238.0" y="504.0" width="1.55" height="2.05" fill="#00ff99"/><rect x="239.5" y="504.0" width="1.55" height="2.05" fill="#00ff00"/><rect x="241.0" y="504.0" width="1.55" height="2.05" fill="#00ffbe"/><rect x="238.0" y="506.0" width="1.55" height="2.05" fill="#00ff99"/><rect x="239.5" y="506.0" width="1.55" height="2.05" fill="#00ff3e"/><rect x="241.0" y="506.0" width="1.55" height="2.05" fill="#00f8d5"/><rect x="238.0" y="508.0" width="1.55" height="2.05" fill="#00f1ec"/><rect x="239.5" y="508.0" width="1.55" height="2.05" fill="#06ff00"/><rect x="241.0" y="508.0" width="1.55" height="2.05" fill="#00ff00"/><rect x="242.5" y="508.0" width="1.55" height="2.05" fill="#00e5ff"/><rect x="239.5" y="510.0" width="1.55" height="2.05" fill="#00ff3e"/><rect x="241.0" y="510.0" width="1.55" height="2.05" fill="#19ff00"/><rect x="242.5" y="510.0" width="1.55" height="2.05" fill="#00f8d5"/><rect x="241.0" y="512.0" width="1.55" height="2.05" fill="#19ff00"/><rect x="242.5" y="512.0" width="1.55" height="2.05" fill="#00ff3e"/><rect x="239.5" y="514.0" width="1.55" height="2.05" fill="#00f8d5"/><rect x="241.0" y="514.0" width="1.55" height="2.05" fill="#00ff3e"/><rect x="242.5" y="514.0" width="1.55" height="2.05" fill="#06ff00"/><rect x="241.0" y="516.0" width="1.55" height="2.05" fill="#00f1ec"/><rect x="242.5" y="516.0" width="1.55" height="2.05" fill="#00f8d5"/><rect x="241.0" y="520.0" width="1.55" height="2.05" fill="#00ffbe"/><rect x="242.5" y="520.0" width="1.55" height="2.05" fill="#00ff99"/><rect x="245.5" y="520.0" width="1.55" height="2.05" fill="#00ff99"/><rect x="247.0" y="520.0" width="1.55" height="2.05" fill="#00f8d5"/><rect x="238.0" y="522.0" width="1.55" height="2.05" fill="#00e5ff"/><rect x="239.5" y="522.0" width="1.55" height="2.05" fill="#00f8d5"/><rect x="241.0" y="522.0" width="1.55" height="2.05" fill="#00ff3e"/><rect x="242.5" y="522.0" width="1.55" height="2.05" fill="#00ff00"/><rect x="244.0" y="522.0" width="1.55" height="2.05" fill="#06ff00"/><rect x="245.5" y="522.0" width="1.55" height="2.05" fill="#00ff3e"/><rect x="247.0" y="522.0" width="1.55" height="2.05" fill="#00ff73"/><rect x="248.5" y="522.0" width="1.55" height="2.05" fill="#00f8d5"/><rect x="253.0" y="522.0" width="1.55" height="2.05" fill="#00f1ec"/><rect x="254.5" y="522.0" width="1.55" height="2.05" fill="#00e5ff"/><rect x="256.0" y="522.0" width="3.05" height="2.05" fill="#00f1ec"/><rect x="238.0" y="524.0" width="3.05" height="2.05" fill="#00ff73"/><rect x="241.0" y="524.0" width="1.55" height="2.05" fill="#00ff00"/><rect x="242.5" y="524.0" width="1.55" height="2.05" fill="#06ff00"/><rect x="244.0" y="524.0" width="3.05" height="2.05" fill="#3eff00"/><rect x="247.0" y="524.0" width="1.55" height="2.05" fill="#00ff99"/><rect x="248.5" y="524.0" width="1.55" height="2.05" fill="#00ffbe"/><rect x="250.0" y="524.0" width="1.55" height="2.05" fill="#00f1ec"/><rect x="251.5" y="524.0" width="1.55" height="2.05" fill="#00ff73"/><rect x="253.0" y="524.0" width="1.55" height="2.05" fill="#00ff3e"/><rect x="254.5" y="524.0" width="1.55" height="2.05" fill="#00ff00"/><rect x="256.0" y="524.0" width="1.55" height="2.05" fill="#00ff73"/><rect x="257.5" y="524.0" width="3.05" height="2.05" fill="#00ffbe"/><rect x="260.5" y="524.0" width="3.05" height="2.05" fill="#00f1ec"/><rect x="238.0" y="526.0" width="1.55" height="2.05" fill="#00ffbe"/><rect x="239.5" y="526.0" width="1.55" height="2.05" fill="#00ff99"/><rect x="241.0" y="526.0" width="1.55" height="2.05" fill="#06ff00"/><rect x="242.5" y="526.0" width="1.55" height="2.05" fill="#8aff00"/><rect x="244.0" y="526.0" width="1.55" height="2.05" fill="#b0ff00"/><rect x="245.5" y="526.0" width="1.55" height="2.05" fill="#3eff00"/><rect x="247.0" y="526.0" width="1.55" height="2.05" fill="#00ff3e"/><rect x="248.5" y="526.0" width="1.55" height="2.05" fill="#00ff73"/><rect x="250.0" y="526.0" width="1.55" height="2.05" fill="#00ffbe"/><rect x="251.5" y="526.0" width="1.55" height="2.05" fill="#00ff00"/><rect x="253.0" y="526.0" width="1.55" height="2.05" fill="#06ff00"/><rect x="254.5" y="526.0" width="1.55" height="2.05" fill="#19ff00"/><rect x="256.0" y="526.0" width="3.05" height="2.05" fill="#00ff00"/><rect x="259.0" y="526.0" width="1.55" height="2.05" fill="#00f8d5"/><rect x="260.5" y="526.0" width="1.55" height="2.05" fill="#00ff99"/><rect x="262.0" y="526.0" width="1.55" height="2.05" fill="#00ffbe"/><rect x="232.0" y="528.0" width="1.55" height="2.05" fill="#00ffbe"/><rect x="233.5" y="528.0" width="1.55" height="2.05" fill="#00e5ff"/><rect x="239.5" y="528.0" width="1.55" height="2.05" fill="#00ffbe"/><rect x="241.0" y="528.0" width="1.55" height="2.05" fill="#06ff00"/><rect x="242.5" y="528.0" width="3.05" height="2.05" fill="#3eff00"/><rect x="245.5" y="528.0" width="1.55" height="2.05" fill="#19ff00"/><rect x="247.0" y="528.0" width="1.55" height="2.05" fill="#06ff00"/><rect x="248.5" y="528.0" width="1.55" height="2.05" fill="#00ff73"/><rect x="250.0" y="528.0" width="1.55" height="2.05" fill="#00f1ec"/><rect x="251.5" y="528.0" width="1.55" height="2.05" fill="#00ff73"/><rect x="253.0" y="528.0" width="1.55" height="2.05" fill="#06ff00"/><rect x="254.5" y="528.0" width="1.55" height="2.05" fill="#3eff00"/><rect x="256.0" y="528.0" width="1.55" height="2.05" fill="#19ff00"/><rect x="257.5" y="528.0" width="1.55" height="2.05" fill="#00ff99"/><rect x="259.0" y="528.0" width="1.55" height="2.05" fill="#00f1ec"/><rect x="260.5" y="528.0" width="1.55" height="2.05" fill="#00ffbe"/><rect x="262.0" y="528.0" width="1.55" height="2.05" fill="#00f8d5"/><rect x="263.5" y="528.0" width="3.05" height="2.05" fill="#00f1ec"/><rect x="277.0" y="528.0" width="1.55" height="2.05" fill="#00f8d5"/><rect x="278.5" y="528.0" width="3.05" height="2.05" fill="#00f1ec"/><rect x="281.5" y="528.0" width="1.55" height="2.05" fill="#00f8d5"/><rect x="232.0" y="530.0" width="1.55" height="2.05" fill="#00f1ec"/><rect x="239.5" y="530.0" width="1.55" height="2.05" fill="#00ff99"/><rect x="241.0" y="530.0" width="1.55" height="2.05" fill="#00ff73"/><rect x="242.5" y="530.0" width="1.55" height="2.05" fill="#3eff00"/><rect x="244.0" y="530.0" width="1.55" height="2.05" fill="#d7ff00"/><rect x="245.5" y="530.0" width="1.55" height="2.05" fill="#8aff00"/><rect x="247.0" y="530.0" width="1.55" height="2.05" fill="#06ff00"/><rect x="248.5" y="530.0" width="1.55" height="2.05" fill="#00ff3e"/><rect x="250.0" y="530.0" width="1.55" height="2.05" fill="#00f8d5"/><rect x="251.5" y="530.0" width="1.55" height="2.05" fill="#00ff73"/><rect x="253.0" y="530.0" width="1.55" height="2.05" fill="#3eff00"/><rect x="254.5" y="530.0" width="1.55" height="2.05" fill="#64ff00"/><rect x="256.0" y="530.0" width="1.55" height="2.05" fill="#19ff00"/><rect x="257.5" y="530.0" width="1.55" height="2.05" fill="#00ff73"/><rect x="259.0" y="530.0" width="3.05" height="2.05" fill="#00ffbe"/><rect x="262.0" y="530.0" width="1.55" height="2.05" fill="#00f8d5"/><rect x="263.5" y="530.0" width="1.55" height="2.05" fill="#00ffbe"/><rect x="265.0" y="530.0" width="1.55" height="2.05" fill="#00f1ec"/><rect x="277.0" y="530.0" width="1.55" height="2.05" fill="#00ff99"/><rect x="278.5" y="530.0" width="1.55" height="2.05" fill="#00ffbe"/><rect x="280.0" y="530.0" width="1.55" height="2.05" fill="#00f8d5"/><rect x="281.5" y="530.0" width="3.05" height="2.05" fill="#00f1ec"/><rect x="232.0" y="532.0" width="1.55" height="2.05" fill="#00e5ff"/><rect x="233.5" y="532.0" width="1.55" height="2.05" fill="#00f1ec"/><rect x="238.0" y="532.0" width="1.55" height="2.05" fill="#00f1ec"/><rect x="239.5" y="532.0" width="1.55" height="2.05" fill="#00f8d5"/><rect x="241.0" y="532.0" width="1.55" height="2.05" fill="#00ffbe"/><rect x="242.5" y="532.0" width="1.55" height="2.05" fill="#00ff00"/><rect x="244.0" y="532.0" width="1.55" height="2.05" fill="#8aff00"/><rect x="245.5" y="532.0" width="1.55" height="2.05" fill="#b0ff00"/><rect x="247.0" y="532.0" width="1.55" height="2.05" fill="#19ff00"/><rect x="248.5" y="532.0" width="1.55" height="2.05" fill="#00ff00"/><rect x="250.0" y="532.0" width="3.05" height="2.05" fill="#00ff99"/><rect x="253.0" y="532.0" width="1.55" height="2.05" fill="#00ff00"/><rect x="254.5" y="532.0" width="3.05" height="2.05" fill="#64ff00"/><rect x="257.5" y="532.0" width="1.55" height="2.05" fill="#06ff00"/><rect x="259.0" y="532.0" width="1.55" height="2.05" fill="#00f8d5"/><rect x="260.5" y="532.0" width="1.55" height="2.05" fill="#00ffbe"/><rect x="263.5" y="532.0" width="1.55" height="2.05" fill="#00ffbe"/><rect x="265.0" y="532.0" width="1.55" height="2.05" fill="#00ff99"/><rect x="266.5" y="532.0" width="1.55" height="2.05" fill="#00f8d5"/><rect x="268.0" y="532.0" width="1.55" height="2.05" fill="#00e5ff"/><rect x="275.5" y="532.0" width="1.55" height="2.05" fill="#00ff99"/><rect x="277.0" y="532.0" width="1.55" height="2.05" fill="#00ffbe"/><rect x="278.5" y="532.0" width="4.55" height="2.05" fill="#00ff73"/><rect x="283.0" y="532.0" width="1.55" height="2.05" fill="#00f1ec"/><rect x="239.5" y="534.0" width="3.05" height="2.05" fill="#00ffbe"/><rect x="242.5" y="534.0" width="1.55" height="2.05" fill="#06ff00"/><rect x="244.0" y="534.0" width="1.55" height="2.05" fill="#19ff00"/><rect x="245.5" y="534.0" width="3.05" height="2.05" fill="#3eff00"/><rect x="248.5" y="534.0" width="1.55" height="2.05" fill="#00ff3e"/><rect x="250.0" y="534.0" width="1.55" height="2.05" fill="#00ff73"/><rect x="251.5" y="534.0" width="1.55" height="2.05" fill="#00ff99"/><rect x="253.0" y="534.0" width="3.05" height="2.05" fill="#64ff00"/><rect x="256.0" y="534.0" width="1.55" height="2.05" fill="#3eff00"/><rect x="257.5" y="534.0" width="1.55" height="2.05" fill="#00ff3e"/><rect x="259.0" y="534.0" width="3.05" height="2.05" fill="#00f8d5"/><rect x="262.0" y="534.0" width="1.55" height="2.05" fill="#00ff73"/><rect x="263.5" y="534.0" width="1.55" height="2.05" fill="#00ff99"/><rect x="265.0" y="534.0" width="1.55" height="2.05" fill="#00ffbe"/><rect x="266.5" y="534.0" width="1.55" height="2.05" fill="#00f1ec"/><rect x="268.0" y="534.0" width="1.55" height="2.05" fill="#00ffbe"/><rect x="275.5" y="534.0" width="1.55" height="2.05" fill="#00f8d5"/><rect x="277.0" y="534.0" width="1.55" height="2.05" fill="#00ffbe"/><rect x="278.5" y="534.0" width="1.55" height="2.05" fill="#00ff73"/><rect x="280.0" y="534.0" width="1.55" height="2.05" fill="#00ff3e"/><rect x="281.5" y="534.0" width="3.05" height="2.05" fill="#00ff99"/><rect x="284.5" y="534.0" width="1.55" height="2.05" fill="#00f1ec"/><rect x="233.5" y="536.0" width="1.55" height="2.05" fill="#00f1ec"/><rect x="241.0" y="536.0" width="1.55" height="2.05" fill="#00f1ec"/><rect x="242.5" y="536.0" width="1.55" height="2.05" fill="#00ff99"/><rect x="244.0" y="536.0" width="1.55" height="2.05" fill="#06ff00"/><rect x="245.5" y="536.0" width="3.05" height="2.05" fill="#3eff00"/><rect x="248.5" y="536.0" width="1.55" height="2.05" fill="#06ff00"/><rect x="250.0" y="536.0" width="1.55" height="2.05" fill="#00ff73"/><rect x="251.5" y="536.0" width="1.55" height="2.05" fill="#00ff3e"/><rect x="253.0" y="536.0" width="1.55" height="2.05" fill="#19ff00"/><rect x="254.5" y="536.0" width="1.55" height="2.05" fill="#3eff00"/><rect x="256.0" y="536.0" width="1.55" height="2.05" fill="#64ff00"/><rect x="257.5" y="536.0" width="1.55" height="2.05" fill="#00ff00"/><rect x="259.0" y="536.0" width="3.05" height="2.05" fill="#00ff99"/><rect x="262.0" y="536.0" width="1.55" height="2.05" fill="#00ffbe"/><rect x="263.5" y="536.0" width="6.05" height="2.05" fill="#00f8d5"/><rect x="269.5" y="536.0" width="1.55" height="2.05" fill="#00f1ec"/><rect x="271.0" y="536.0" width="1.55" height="2.05" fill="#00e5ff"/><rect x="277.0" y="536.0" width="3.05" height="2.05" fill="#00ffbe"/><rect x="280.0" y="536.0" width="3.05" height="2.05" fill="#00ff73"/><rect x="283.0" y="536.0" width="1.55" height="2.05" fill="#00ffbe"/><rect x="232.0" y="538.0" width="1.55" height="2.05" fill="#00e5ff"/><rect x="233.5" y="538.0" width="1.55" height="2.05" fill="#00ffbe"/><rect x="241.0" y="538.0" width="1.55" height="2.05" fill="#00ffbe"/><rect x="242.5" y="538.0" width="1.55" height="2.05" fill="#00f1ec"/><rect x="244.0" y="538.0" width="1.55" height="2.05" fill="#00ff73"/><rect x="245.5" y="538.0" width="3.05" height="2.05" fill="#19ff00"/><rect x="248.5" y="538.0" width="1.55" height="2.05" fill="#3eff00"/><rect x="250.0" y="538.0" width="1.55" height="2.05" fill="#00ff73"/><rect x="251.5" y="538.0" width="3.05" height="2.05" fill="#00ff3e"/><rect x="254.5" y="538.0" width="1.55" height="2.05" fill="#19ff00"/><rect x="256.0" y="538.0" width="1.55" height="2.05" fill="#64ff00"/><rect x="257.5" y="538.0" width="1.55" height="2.05" fill="#06ff00"/><rect x="259.0" y="538.0" width="1.55" height="2.05" fill="#00ff73"/><rect x="260.5" y="538.0" width="1.55" height="2.05" fill="#00ff99"/><rect x="262.0" y="538.0" width="1.55" height="2.05" fill="#00f1ec"/><rect x="263.5" y="538.0" width="1.55" height="2.05" fill="#00ff99"/><rect x="265.0" y="538.0" width="1.55" height="2.05" fill="#00ffbe"/><rect x="266.5" y="538.0" width="1.55" height="2.05" fill="#00ff99"/><rect x="268.0" y="538.0" width="3.05" height="2.05" fill="#00f8d5"/><rect x="277.0" y="538.0" width="1.55" height="2.05" fill="#00f8d5"/><rect x="278.5" y="538.0" width="1.55" height="2.05" fill="#00ffbe"/><rect x="280.0" y="538.0" width="1.55" height="2.05" fill="#00ff00"/><rect x="281.5" y="538.0" width="1.55" height="2.05" fill="#00ff73"/><rect x="283.0" y="538.0" width="1.55" height="2.05" fill="#00ff99"/><rect x="284.5" y="538.0" width="1.55" height="2.05" fill="#00ffbe"/><rect x="242.5" y="540.0" width="1.55" height="2.05" fill="#00ff99"/><rect x="244.0" y="540.0" width="1.55" height="2.05" fill="#00ff73"/><rect x="245.5" y="540.0" width="1.55" height="2.05" fill="#06ff00"/><rect x="247.0" y="540.0" width="1.55" height="2.05" fill="#3eff00"/><rect x="248.5" y="540.0" width="1.55" height="2.05" fill="#06ff00"/><rect x="250.0" y="540.0" width="1.55" height="2.05" fill="#00ff99"/><rect x="251.5" y="540.0" width="1.55" height="2.05" fill="#00ff73"/><rect x="253.0" y="540.0" width="1.55" height="2.05" fill="#64ff00"/><rect x="254.5" y="540.0" width="3.05" height="2.05" fill="#3eff00"/><rect x="257.5" y="540.0" width="1.55" height="2.05" fill="#64ff00"/><rect x="259.0" y="540.0" width="1.55" height="2.05" fill="#00ff3e"/><rect x="260.5" y="540.0" width="1.55" height="2.05" fill="#00ff73"/><rect x="262.0" y="540.0" width="1.55" height="2.05" fill="#00f1ec"/><rect x="263.5" y="540.0" width="1.55" height="2.05" fill="#00ff99"/><rect x="265.0" y="540.0" width="1.55" height="2.05" fill="#00f8d5"/><rect x="266.5" y="540.0" width="1.55" height="2.05" fill="#00f1ec"/><rect x="268.0" y="540.0" width="1.55" height="2.05" fill="#00ffbe"/><rect x="269.5" y="540.0" width="1.55" height="2.05" fill="#00f8d5"/><rect x="271.0" y="540.0" width="3.05" height="2.05" fill="#00f1ec"/><rect x="278.5" y="540.0" width="1.55" height="2.05" fill="#00ffbe"/><rect x="280.0" y="540.0" width="1.55" height="2.05" fill="#00ff73"/><rect x="281.5" y="540.0" width="1.55" height="2.05" fill="#00ff3e"/><rect x="283.0" y="540.0" width="1.55" height="2.05" fill="#00ff00"/><rect x="284.5" y="540.0" width="1.55" height="2.05" fill="#00ffbe"/><rect x="286.0" y="540.0" width="1.55" height="2.05" fill="#00f1ec"/><rect x="233.5" y="542.0" width="1.55" height="2.05" fill="#00f8d5"/><rect x="242.5" y="542.0" width="1.55" height="2.05" fill="#00f8d5"/><rect x="244.0" y="542.0" width="1.55" height="2.05" fill="#00ff3e"/><rect x="245.5" y="542.0" width="1.55" height="2.05" fill="#19ff00"/><rect x="247.0" y="542.0" width="1.55" height="2.05" fill="#00ff00"/><rect x="248.5" y="542.0" width="1.55" height="2.05" fill="#19ff00"/><rect x="250.0" y="542.0" width="1.55" height="2.05" fill="#00ff3e"/><rect x="251.5" y="542.0" width="1.55" height="2.05" fill="#00ff00"/><rect x="253.0" y="542.0" width="1.55" height="2.05" fill="#06ff00"/><rect x="254.5" y="542.0" width="1.55" height="2.05" fill="#d7ff00"/><rect x="256.0" y="542.0" width="1.55" height="2.05" fill="#b0ff00"/><rect x="257.5" y="542.0" width="1.55" height="2.05" fill="#3eff00"/><rect x="259.0" y="542.0" width="1.55" height="2.05" fill="#00ff73"/><rect x="260.5" y="542.0" width="1.55" height="2.05" fill="#00ff99"/><rect x="262.0" y="542.0" width="1.55" height="2.05" fill="#00ffbe"/><rect x="263.5" y="542.0" width="3.05" height="2.05" fill="#00ff99"/><rect x="266.5" y="542.0" width="1.55" height="2.05" fill="#00ffbe"/><rect x="268.0" y="542.0" width="1.55" height="2.05" fill="#00f1ec"/><rect x="269.5" y="542.0" width="1.55" height="2.05" fill="#00ffbe"/><rect x="271.0" y="542.0" width="1.55" height="2.05" fill="#00f1ec"/><rect x="272.5" y="542.0" width="1.55" height="2.05" fill="#00f8d5"/><rect x="278.5" y="542.0" width="1.55" height="2.05" fill="#00f1ec"/><rect x="280.0" y="542.0" width="1.55" height="2.05" fill="#00ff99"/><rect x="281.5" y="542.0" width="1.55" height="2.05" fill="#00ff73"/><rect x="283.0" y="542.0" width="1.55" height="2.05" fill="#00ff3e"/><rect x="284.5" y="542.0" width="1.55" height="2.05" fill="#00ff99"/><rect x="286.0" y="542.0" width="3.05" height="2.05" fill="#00f1ec"/><rect x="242.5" y="544.0" width="1.55" height="2.05" fill="#00ff99"/><rect x="244.0" y="544.0" width="1.55" height="2.05" fill="#00f8d5"/><rect x="245.5" y="544.0" width="1.55" height="2.05" fill="#00ff3e"/><rect x="247.0" y="544.0" width="1.55" height="2.05" fill="#00ff99"/><rect x="248.5" y="544.0" width="3.05" height="2.05" fill="#06ff00"/><rect x="251.5" y="544.0" width="1.55" height="2.05" fill="#00ff3e"/><rect x="253.0" y="544.0" width="1.55" height="2.05" fill="#19ff00"/><rect x="254.5" y="544.0" width="1.55" height="2.05" fill="#ffff00"/><rect x="256.0" y="544.0" width="1.55" height="2.05" fill="#ff3400"/><rect x="257.5" y="544.0" width="1.55" height="2.05" fill="#ffc500"/><rect x="259.0" y="544.0" width="1.55" height="2.05" fill="#00ff00"/><rect x="260.5" y="544.0" width="1.55" height="2.05" fill="#00ff73"/><rect x="262.0" y="544.0" width="1.55" height="2.05" fill="#06ff00"/><rect x="263.5" y="544.0" width="1.55" height="2.05" fill="#00ffbe"/><rect x="265.0" y="544.0" width="1.55" height="2.05" fill="#00f8d5"/><rect x="266.5" y="544.0" width="1.55" height="2.05" fill="#00ffbe"/><rect x="268.0" y="544.0" width="1.55" height="2.05" fill="#00f8d5"/><rect x="269.5" y="544.0" width="3.05" height="2.05" fill="#00ffbe"/><rect x="272.5" y="544.0" width="1.55" height="2.05" fill="#00f1ec"/><rect x="277.0" y="544.0" width="1.55" height="2.05" fill="#00e5ff"/><rect x="278.5" y="544.0" width="1.55" height="2.05" fill="#00f1ec"/><rect x="280.0" y="544.0" width="1.55" height="2.05" fill="#00ff99"/><rect x="281.5" y="544.0" width="1.55" height="2.05" fill="#00ff73"/><rect x="283.0" y="544.0" width="1.55" height="2.05" fill="#00ff3e"/><rect x="284.5" y="544.0" width="1.55" height="2.05" fill="#00ff00"/><rect x="286.0" y="544.0" width="1.55" height="2.05" fill="#00f8d5"/><rect x="233.5" y="546.0" width="1.55" height="2.05" fill="#00ff99"/><rect x="242.5" y="546.0" width="1.55" height="2.05" fill="#00e5ff"/><rect x="244.0" y="546.0" width="1.55" height="2.05" fill="#00f8d5"/><rect x="245.5" y="546.0" width="4.55" height="2.05" fill="#00ff3e"/><rect x="250.0" y="546.0" width="1.55" height="2.05" fill="#00ff00"/><rect x="251.5" y="546.0" width="1.55" height="2.05" fill="#00ffbe"/><rect x="253.0" y="546.0" width="1.55" height="2.05" fill="#19ff00"/><rect x="254.5" y="546.0" width="1.55" height="2.05" fill="#d7ff00"/><rect x="256.0" y="546.0" width="1.55" height="2.05" fill="#ff3400"/><rect x="257.5" y="546.0" width="1.55" height="2.05" fill="#ffc500"/><rect x="259.0" y="546.0" width="1.55" height="2.05" fill="#3eff00"/><rect x="260.5" y="546.0" width="1.55" height="2.05" fill="#00ff3e"/><rect x="262.0" y="546.0" width="3.05" height="2.05" fill="#00ff99"/><rect x="265.0" y="546.0" width="3.05" height="2.05" fill="#00f8d5"/><rect x="268.0" y="546.0" width="1.55" height="2.05" fill="#00f1ec"/><rect x="269.5" y="546.0" width="1.55" height="2.05" fill="#00ff99"/><rect x="271.0" y="546.0" width="1.55" height="2.05" fill="#00f8d5"/><rect x="272.5" y="546.0" width="1.55" height="2.05" fill="#00ff99"/><rect x="274.0" y="546.0" width="3.05" height="2.05" fill="#00ffbe"/><rect x="277.0" y="546.0" width="1.55" height="2.05" fill="#00e5ff"/><rect x="278.5" y="546.0" width="3.05" height="2.05" fill="#00f1ec"/><rect x="281.5" y="546.0" width="1.55" height="2.05" fill="#00ff73"/><rect x="283.0" y="546.0" width="1.55" height="2.05" fill="#06ff00"/><rect x="284.5" y="546.0" width="3.05" height="2.05" fill="#00ff00"/><rect x="287.5" y="546.0" width="1.55" height="2.05" fill="#00ff99"/><rect x="233.5" y="548.0" width="1.55" height="2.05" fill="#00f1ec"/><rect x="245.5" y="548.0" width="3.05" height="2.05" fill="#00ff99"/><rect x="248.5" y="548.0" width="3.05" height="2.05" fill="#00ff73"/><rect x="251.5" y="548.0" width="3.05" height="2.05" fill="#00ff3e"/><rect x="254.5" y="548.0" width="1.55" height="2.05" fill="#64ff00"/><rect x="256.0" y="548.0" width="1.55" height="2.05" fill="#ff5d00"/><rect x="257.5" y="548.0" width="1.55" height="2.05" fill="#ffa800"/><rect x="259.0" y="548.0" width="1.55" height="2.05" fill="#00ff00"/><rect x="260.5" y="548.0" width="1.55" height="2.05" fill="#06ff00"/><rect x="262.0" y="548.0" width="1.55" height="2.05" fill="#00ff3e"/><rect x="263.5" y="548.0" width="1.55" height="2.05" fill="#00ff99"/><rect x="265.0" y="548.0" width="1.55" height="2.05" fill="#00ffbe"/><rect x="266.5" y="548.0" width="1.55" height="2.05" fill="#00ff73"/><rect x="268.0" y="548.0" width="1.55" height="2.05" fill="#00f8d5"/><rect x="269.5" y="548.0" width="1.55" height="2.05" fill="#00ff99"/><rect x="271.0" y="548.0" width="3.05" height="2.05" fill="#00ffbe"/><rect x="274.0" y="548.0" width="1.55" height="2.05" fill="#00ff73"/><rect x="275.5" y="548.0" width="1.55" height="2.05" fill="#00ffbe"/><rect x="277.0" y="548.0" width="1.55" height="2.05" fill="#00ff99"/><rect x="278.5" y="548.0" width="3.05" height="2.05" fill="#00f1ec"/><rect x="281.5" y="548.0" width="1.55" height="2.05" fill="#00ff99"/><rect x="283.0" y="548.0" width="1.55" height="2.05" fill="#00ff3e"/><rect x="284.5" y="548.0" width="1.55" height="2.05" fill="#06ff00"/><rect x="286.0" y="548.0" width="1.55" height="2.05" fill="#00ff3e"/><rect x="287.5" y="548.0" width="1.55" height="2.05" fill="#00ff99"/><rect x="290.5" y="548.0" width="4.55" height="2.05" fill="#00f8d5"/><rect x="235.0" y="550.0" width="1.55" height="2.05" fill="#00f8d5"/><rect x="244.0" y="550.0" width="1.55" height="2.05" fill="#00f8d5"/><rect x="245.5" y="550.0" width="1.55" height="2.05" fill="#00ffbe"/><rect x="247.0" y="550.0" width="1.55" height="2.05" fill="#00ff99"/><rect x="248.5" y="550.0" width="1.55" height="2.05" fill="#00ffbe"/><rect x="250.0" y="550.0" width="3.05" height="2.05" fill="#00ff73"/><rect x="253.0" y="550.0" width="1.55" height="2.05" fill="#3eff00"/><rect x="254.5" y="550.0" width="3.05" height="2.05" fill="#8aff00"/><rect x="257.5" y="550.0" width="3.05" height="2.05" fill="#19ff00"/><rect x="260.5" y="550.0" width="3.05" height="2.05" fill="#06ff00"/><rect x="263.5" y="550.0" width="1.55" height="2.05" fill="#00ffbe"/><rect x="265.0" y="550.0" width="1.55" height="2.05" fill="#00f8d5"/><rect x="266.5" y="550.0" width="1.55" height="2.05" fill="#00f1ec"/><rect x="268.0" y="550.0" width="1.55" height="2.05" fill="#00f8d5"/><rect x="269.5" y="550.0" width="3.05" height="2.05" fill="#00ffbe"/><rect x="272.5" y="550.0" width="1.55" height="2.05" fill="#00f8d5"/><rect x="274.0" y="550.0" width="1.55" height="2.05" fill="#00ffbe"/><rect x="275.5" y="550.0" width="3.05" height="2.05" fill="#00ff99"/><rect x="278.5" y="550.0" width="1.55" height="2.05" fill="#00f1ec"/><rect x="280.0" y="550.0" width="1.55" height="2.05" fill="#00ffbe"/><rect x="281.5" y="550.0" width="1.55" height="2.05" fill="#00f1ec"/><rect x="283.0" y="550.0" width="3.05" height="2.05" fill="#06ff00"/><rect x="286.0" y="550.0" width="1.55" height="2.05" fill="#19ff00"/><rect x="287.5" y="550.0" width="1.55" height="2.05" fill="#00ffbe"/><rect x="289.0" y="550.0" width="1.55" height="2.05" fill="#00ff99"/><rect x="290.5" y="550.0" width="3.05" height="2.05" fill="#00ff3e"/><rect x="293.5" y="550.0" width="3.05" height="2.05" fill="#00f1ec"/><rect x="245.5" y="552.0" width="1.55" height="2.05" fill="#00f1ec"/><rect x="247.0" y="552.0" width="3.05" height="2.05" fill="#00ffbe"/><rect x="250.0" y="552.0" width="1.55" height="2.05" fill="#00ff99"/><rect x="251.5" y="552.0" width="1.55" height="2.05" fill="#06ff00"/><rect x="253.0" y="552.0" width="1.55" height="2.05" fill="#00ff3e"/><rect x="254.5" y="552.0" width="1.55" height="2.05" fill="#3eff00"/><rect x="256.0" y="552.0" width="1.55" height="2.05" fill="#b0ff00"/><rect x="257.5" y="552.0" width="4.55" height="2.05" fill="#19ff00"/><rect x="262.0" y="552.0" width="1.55" height="2.05" fill="#00ff3e"/><rect x="263.5" y="552.0" width="1.55" height="2.05" fill="#00ff73"/><rect x="265.0" y="552.0" width="1.55" height="2.05" fill="#00ffbe"/><rect x="266.5" y="552.0" width="3.05" height="2.05" fill="#00f8d5"/><rect x="269.5" y="552.0" width="1.55" height="2.05" fill="#00ff99"/><rect x="271.0" y="552.0" width="1.55" height="2.05" fill="#00ffbe"/><rect x="272.5" y="552.0" width="1.55" height="2.05" fill="#00f8d5"/><rect x="274.0" y="552.0" width="1.55" height="2.05" fill="#00ff99"/><rect x="275.5" y="552.0" width="1.55" height="2.05" fill="#00f8d5"/><rect x="277.0" y="552.0" width="6.05" height="2.05" fill="#00ffbe"/><rect x="283.0" y="552.0" width="1.55" height="2.05" fill="#00ff99"/><rect x="284.5" y="552.0" width="1.55" height="2.05" fill="#19ff00"/><rect x="286.0" y="552.0" width="1.55" height="2.05" fill="#00ff00"/><rect x="287.5" y="552.0" width="1.55" height="2.05" fill="#00ff3e"/><rect x="289.0" y="552.0" width="1.55" height="2.05" fill="#00ff99"/><rect x="290.5" y="552.0" width="1.55" height="2.05" fill="#00ff3e"/><rect x="292.0" y="552.0" width="1.55" height="2.05" fill="#00ff99"/><rect x="293.5" y="552.0" width="1.55" height="2.05" fill="#00ff3e"/><rect x="295.0" y="552.0" width="1.55" height="2.05" fill="#00f8d5"/><rect x="296.5" y="552.0" width="1.55" height="2.05" fill="#00ffbe"/><rect x="248.5" y="554.0" width="1.55" height="2.05" fill="#00f1ec"/><rect x="250.0" y="554.0" width="1.55" height="2.05" fill="#00ffbe"/><rect x="251.5" y="554.0" width="1.55" height="2.05" fill="#00ff99"/><rect x="253.0" y="554.0" width="1.55" height="2.05" fill="#00ff00"/><rect x="254.5" y="554.0" width="1.55" height="2.05" fill="#19ff00"/><rect x="256.0" y="554.0" width="1.55" height="2.05" fill="#d7ff00"/><rect x="257.5" y="554.0" width="1.55" height="2.05" fill="#3eff00"/><rect x="259.0" y="554.0" width="1.55" height="2.05" fill="#19ff00"/><rect x="260.5" y="554.0" width="3.05" height="2.05" fill="#00ff00"/><rect x="263.5" y="554.0" width="1.55" height="2.05" fill="#00ff3e"/><rect x="265.0" y="554.0" width="3.05" height="2.05" fill="#00ffbe"/><rect x="268.0" y="554.0" width="1.55" height="2.05" fill="#00f8d5"/><rect x="269.5" y="554.0" width="3.05" height="2.05" fill="#00ff73"/><rect x="272.5" y="554.0" width="3.05" height="2.05" fill="#00ff99"/><rect x="275.5" y="554.0" width="1.55" height="2.05" fill="#00f8d5"/><rect x="277.0" y="554.0" width="1.55" height="2.05" fill="#00ffbe"/><rect x="278.5" y="554.0" width="1.55" height="2.05" fill="#00ff99"/><rect x="280.0" y="554.0" width="1.55" height="2.05" fill="#00f1ec"/><rect x="281.5" y="554.0" width="1.55" height="2.05" fill="#00ffbe"/><rect x="283.0" y="554.0" width="1.55" height="2.05" fill="#00ff99"/><rect x="284.5" y="554.0" width="1.55" height="2.05" fill="#00ff3e"/><rect x="286.0" y="554.0" width="1.55" height="2.05" fill="#3eff00"/><rect x="287.5" y="554.0" width="1.55" height="2.05" fill="#19ff00"/><rect x="289.0" y="554.0" width="1.55" height="2.05" fill="#06ff00"/><rect x="290.5" y="554.0" width="1.55" height="2.05" fill="#00ff99"/><rect x="292.0" y="554.0" width="1.55" height="2.05" fill="#00ff00"/><rect x="293.5" y="554.0" width="1.55" height="2.05" fill="#19ff00"/><rect x="295.0" y="554.0" width="1.55" height="2.05" fill="#00ffbe"/><rect x="296.5" y="554.0" width="1.55" height="2.05" fill="#00f8d5"/><rect x="298.0" y="554.0" width="1.55" height="2.05" fill="#00f1ec"/><rect x="248.5" y="556.0" width="1.55" height="2.05" fill="#00e5ff"/><rect x="250.0" y="556.0" width="1.55" height="2.05" fill="#00ff99"/><rect x="251.5" y="556.0" width="3.05" height="2.05" fill="#00ff73"/><rect x="254.5" y="556.0" width="1.55" height="2.05" fill="#19ff00"/><rect x="256.0" y="556.0" width="1.55" height="2.05" fill="#ffff00"/><rect x="257.5" y="556.0" width="1.55" height="2.05" fill="#d7ff00"/><rect x="259.0" y="556.0" width="3.05" height="2.05" fill="#06ff00"/><rect x="262.0" y="556.0" width="3.05" height="2.05" fill="#19ff00"/><rect x="265.0" y="556.0" width="1.55" height="2.05" fill="#00ff00"/><rect x="266.5" y="556.0" width="1.55" height="2.05" fill="#00ff99"/><rect x="268.0" y="556.0" width="1.55" height="2.05" fill="#00ffbe"/><rect x="269.5" y="556.0" width="1.55" height="2.05" fill="#00ff99"/><rect x="271.0" y="556.0" width="6.05" height="2.05" fill="#00ffbe"/><rect x="277.0" y="556.0" width="1.55" height="2.05" fill="#00ff99"/><rect x="278.5" y="556.0" width="3.05" height="2.05" fill="#00f8d5"/><rect x="281.5" y="556.0" width="1.55" height="2.05" fill="#00ffbe"/><rect x="283.0" y="556.0" width="1.55" height="2.05" fill="#00ff99"/><rect x="284.5" y="556.0" width="1.55" height="2.05" fill="#00ff73"/><rect x="286.0" y="556.0" width="1.55" height="2.05" fill="#00ff00"/><rect x="287.5" y="556.0" width="1.55" height="2.05" fill="#3eff00"/><rect x="289.0" y="556.0" width="1.55" height="2.05" fill="#06ff00"/><rect x="290.5" y="556.0" width="3.05" height="2.05" fill="#00ff73"/><rect x="293.5" y="556.0" width="3.05" height="2.05" fill="#00ff00"/><rect x="296.5" y="556.0" width="1.55" height="2.05" fill="#00ff99"/><rect x="299.5" y="556.0" width="1.55" height="2.05" fill="#00f1ec"/><rect x="247.0" y="558.0" width="1.55" height="2.05" fill="#00e5ff"/><rect x="248.5" y="558.0" width="1.55" height="2.05" fill="#00f8d5"/><rect x="250.0" y="558.0" width="1.55" height="2.05" fill="#00ffbe"/><rect x="251.5" y="558.0" width="3.05" height="2.05" fill="#00ff00"/><rect x="254.5" y="558.0" width="1.55" height="2.05" fill="#3eff00"/><rect x="256.0" y="558.0" width="1.55" height="2.05" fill="#b0ff00"/><rect x="257.5" y="558.0" width="1.55" height="2.05" fill="#8aff00"/><rect x="259.0" y="558.0" width="3.05" height="2.05" fill="#3eff00"/><rect x="262.0" y="558.0" width="1.55" height="2.05" fill="#b0ff00"/><rect x="263.5" y="558.0" width="1.55" height="2.05" fill="#3eff00"/><rect x="265.0" y="558.0" width="1.55" height="2.05" fill="#06ff00"/><rect x="266.5" y="558.0" width="1.55" height="2.05" fill="#00f8d5"/><rect x="268.0" y="558.0" width="1.55" height="2.05" fill="#00ffbe"/><rect x="269.5" y="558.0" width="1.55" height="2.05" fill="#00ff99"/><rect x="272.5" y="558.0" width="3.05" height="2.05" fill="#00ffbe"/><rect x="275.5" y="558.0" width="1.55" height="2.05" fill="#00f8d5"/><rect x="277.0" y="558.0" width="1.55" height="2.05" fill="#00ffbe"/><rect x="278.5" y="558.0" width="1.55" height="2.05" fill="#00ff99"/><rect x="280.0" y="558.0" width="1.55" height="2.05" fill="#00f8d5"/><rect x="281.5" y="558.0" width="1.55" height="2.05" fill="#00e5ff"/><rect x="283.0" y="558.0" width="1.55" height="2.05" fill="#00f8d5"/><rect x="284.5" y="558.0" width="1.55" height="2.05" fill="#00f1ec"/><rect x="286.0" y="558.0" width="1.55" height="2.05" fill="#00ff00"/><rect x="287.5" y="558.0" width="3.05" height="2.05" fill="#19ff00"/><rect x="290.5" y="558.0" width="1.55" height="2.05" fill="#00ff3e"/><rect x="292.0" y="558.0" width="1.55" height="2.05" fill="#00ffbe"/><rect x="293.5" y="558.0" width="1.55" height="2.05" fill="#00ff00"/><rect x="295.0" y="558.0" width="1.55" height="2.05" fill="#19ff00"/><rect x="296.5" y="558.0" width="1.55" height="2.05" fill="#00ff99"/><rect x="298.0" y="558.0" width="1.55" height="2.05" fill="#00ff73"/><rect x="247.0" y="560.0" width="3.05" height="2.05" fill="#00f8d5"/><rect x="250.0" y="560.0" width="1.55" height="2.05" fill="#00ffbe"/><rect x="251.5" y="560.0" width="3.05" height="2.05" fill="#00ff73"/><rect x="254.5" y="560.0" width="1.55" height="2.05" fill="#00ff3e"/><rect x="256.0" y="560.0" width="1.55" height="2.05" fill="#b0ff00"/><rect x="257.5" y="560.0" width="1.55" height="2.05" fill="#d7ff00"/><rect x="259.0" y="560.0" width="1.55" height="2.05" fill="#8aff00"/><rect x="260.5" y="560.0" width="3.05" height="2.05" fill="#d7ff00"/><rect x="263.5" y="560.0" width="1.55" height="2.05" fill="#8aff00"/><rect x="265.0" y="560.0" width="3.05" height="2.05" fill="#3eff00"/><rect x="268.0" y="560.0" width="1.55" height="2.05" fill="#00ff3e"/><rect x="269.5" y="560.0" width="1.55" height="2.05" fill="#00ff99"/><rect x="271.0" y="560.0" width="1.55" height="2.05" fill="#00f8d5"/><rect x="272.5" y="560.0" width="1.55" height="2.05" fill="#00ff99"/><rect x="275.5" y="560.0" width="1.55" height="2.05" fill="#00ffbe"/><rect x="277.0" y="560.0" width="1.55" height="2.05" fill="#00f8d5"/><rect x="278.5" y="560.0" width="3.05" height="2.05" fill="#00ff73"/><rect x="281.5" y="560.0" width="4.55" height="2.05" fill="#00ffbe"/><rect x="286.0" y="560.0" width="1.55" height="2.05" fill="#00ff3e"/><rect x="287.5" y="560.0" width="1.55" height="2.05" fill="#06ff00"/><rect x="289.0" y="560.0" width="3.05" height="2.05" fill="#19ff00"/><rect x="292.0" y="560.0" width="1.55" height="2.05" fill="#00ff00"/><rect x="293.5" y="560.0" width="1.55" height="2.05" fill="#00ffbe"/><rect x="295.0" y="560.0" width="3.05" height="2.05" fill="#06ff00"/><rect x="298.0" y="560.0" width="1.55" height="2.05" fill="#00ff00"/><rect x="299.5" y="560.0" width="1.55" height="2.05" fill="#00ffbe"/><rect x="250.0" y="562.0" width="1.55" height="2.05" fill="#00f1ec"/><rect x="251.5" y="562.0" width="1.55" height="2.05" fill="#00ff73"/><rect x="253.0" y="562.0" width="3.05" height="2.05" fill="#00ff00"/><rect x="256.0" y="562.0" width="4.55" height="2.05" fill="#8aff00"/><rect x="260.5" y="562.0" width="1.55" height="2.05" fill="#d7ff00"/><rect x="262.0" y="562.0" width="1.55" height="2.05" fill="#ffff00"/><rect x="263.5" y="562.0" width="1.55" height="2.05" fill="#d7ff00"/><rect x="265.0" y="562.0" width="1.55" height="2.05" fill="#8aff00"/><rect x="266.5" y="562.0" width="1.55" height="2.05" fill="#3eff00"/><rect x="268.0" y="562.0" width="3.05" height="2.05" fill="#00ff3e"/><rect x="271.0" y="562.0" width="1.55" height="2.05" fill="#00ffbe"/><rect x="272.5" y="562.0" width="1.55" height="2.05" fill="#00f1ec"/><rect x="274.0" y="562.0" width="1.55" height="2.05" fill="#00ff99"/><rect x="275.5" y="562.0" width="1.55" height="2.05" fill="#00f8d5"/><rect x="277.0" y="562.0" width="1.55" height="2.05" fill="#00ffbe"/><rect x="278.5" y="562.0" width="1.55" height="2.05" fill="#00f8d5"/><rect x="280.0" y="562.0" width="1.55" height="2.05" fill="#00f1ec"/><rect x="281.5" y="562.0" width="1.55" height="2.05" fill="#00f8d5"/><rect x="283.0" y="562.0" width="3.05" height="2.05" fill="#00ffbe"/><rect x="286.0" y="562.0" width="1.55" height="2.05" fill="#00ff99"/><rect x="287.5" y="562.0" width="1.55" height="2.05" fill="#00ff3e"/><rect x="289.0" y="562.0" width="1.55" height="2.05" fill="#00ff00"/><rect x="290.5" y="562.0" width="1.55" height="2.05" fill="#3eff00"/><rect x="292.0" y="562.0" width="1.55" height="2.05" fill="#00ff00"/><rect x="293.5" y="562.0" width="1.55" height="2.05" fill="#00f8d5"/><rect x="295.0" y="562.0" width="1.55" height="2.05" fill="#00ff3e"/><rect x="296.5" y="562.0" width="1.55" height="2.05" fill="#19ff00"/><rect x="298.0" y="562.0" width="1.55" height="2.05" fill="#00ff3e"/><rect x="299.5" y="562.0" width="1.55" height="2.05" fill="#00ff99"/><rect x="301.0" y="562.0" width="1.55" height="2.05" fill="#00ffbe"/><rect x="302.5" y="562.0" width="1.55" height="2.05" fill="#00f1ec"/><rect x="248.5" y="564.0" width="1.55" height="2.05" fill="#00f1ec"/><rect x="250.0" y="564.0" width="3.05" height="2.05" fill="#00f8d5"/><rect x="253.0" y="564.0" width="1.55" height="2.05" fill="#00ff99"/><rect x="254.5" y="564.0" width="1.55" height="2.05" fill="#06ff00"/><rect x="256.0" y="564.0" width="1.55" height="2.05" fill="#19ff00"/><rect x="257.5" y="564.0" width="1.55" height="2.05" fill="#8aff00"/><rect x="259.0" y="564.0" width="3.05" height="2.05" fill="#b0ff00"/><rect x="262.0" y="564.0" width="1.55" height="2.05" fill="#ffe200"/><rect x="263.5" y="564.0" width="1.55" height="2.05" fill="#ffff00"/><rect x="265.0" y="564.0" width="1.55" height="2.05" fill="#b0ff00"/><rect x="266.5" y="564.0" width="1.55" height="2.05" fill="#d7ff00"/><rect x="268.0" y="564.0" width="1.55" height="2.05" fill="#8aff00"/><rect x="269.5" y="564.0" width="1.55" height="2.05" fill="#06ff00"/><rect x="271.0" y="564.0" width="1.55" height="2.05" fill="#00ff73"/><rect x="272.5" y="564.0" width="3.05" height="2.05" fill="#00ffbe"/><rect x="275.5" y="564.0" width="1.55" height="2.05" fill="#00ff73"/><rect x="277.0" y="564.0" width="3.05" height="2.05" fill="#00ff99"/><rect x="280.0" y="564.0" width="1.55" height="2.05" fill="#00f8d5"/><rect x="281.5" y="564.0" width="3.05" height="2.05" fill="#00ffbe"/><rect x="284.5" y="564.0" width="1.55" height="2.05" fill="#00f8d5"/><rect x="286.0" y="564.0" width="1.55" height="2.05" fill="#00ff99"/><rect x="287.5" y="564.0" width="1.55" height="2.05" fill="#00f8d5"/><rect x="289.0" y="564.0" width="1.55" height="2.05" fill="#00ff3e"/><rect x="290.5" y="564.0" width="1.55" height="2.05" fill="#06ff00"/><rect x="292.0" y="564.0" width="1.55" height="2.05" fill="#00ff00"/><rect x="293.5" y="564.0" width="1.55" height="2.05" fill="#19ff00"/><rect x="295.0" y="564.0" width="1.55" height="2.05" fill="#00ff73"/><rect x="296.5" y="564.0" width="1.55" height="2.05" fill="#19ff00"/><rect x="298.0" y="564.0" width="3.05" height="2.05" fill="#06ff00"/><rect x="301.0" y="564.0" width="1.55" height="2.05" fill="#00ffbe"/><rect x="250.0" y="566.0" width="1.55" height="2.05" fill="#00e5ff"/><rect x="251.5" y="566.0" width="3.05" height="2.05" fill="#00f8d5"/><rect x="254.5" y="566.0" width="1.55" height="2.05" fill="#00ff00"/><rect x="256.0" y="566.0" width="1.55" height="2.05" fill="#19ff00"/><rect x="257.5" y="566.0" width="1.55" height="2.05" fill="#64ff00"/><rect x="259.0" y="566.0" width="1.55" height="2.05" fill="#8aff00"/><rect x="260.5" y="566.0" width="1.55" height="2.05" fill="#64ff00"/><rect x="262.0" y="566.0" width="6.05" height="2.05" fill="#d7ff00"/><rect x="268.0" y="566.0" width="1.55" height="2.05" fill="#b0ff00"/><rect x="269.5" y="566.0" width="1.55" height="2.05" fill="#64ff00"/><rect x="271.0" y="566.0" width="1.55" height="2.05" fill="#00ff3e"/><rect x="272.5" y="566.0" width="1.55" height="2.05" fill="#00ff73"/><rect x="274.0" y="566.0" width="3.05" height="2.05" fill="#00ff99"/><rect x="277.0" y="566.0" width="1.55" height="2.05" fill="#00f1ec"/><rect x="278.5" y="566.0" width="3.05" height="2.05" fill="#00ff99"/><rect x="281.5" y="566.0" width="1.55" height="2.05" fill="#00ffbe"/><rect x="283.0" y="566.0" width="3.05" height="2.05" fill="#00f8d5"/><rect x="286.0" y="566.0" width="1.55" height="2.05" fill="#00e5ff"/><rect x="289.0" y="566.0" width="1.55" height="2.05" fill="#00ff99"/><rect x="290.5" y="566.0" width="1.55" height="2.05" fill="#06ff00"/><rect x="292.0" y="566.0" width="1.55" height="2.05" fill="#19ff00"/><rect x="293.5" y="566.0" width="1.55" height="2.05" fill="#00ff3e"/><rect x="295.0" y="566.0" width="1.55" height="2.05" fill="#00ffbe"/><rect x="296.5" y="566.0" width="1.55" height="2.05" fill="#06ff00"/><rect x="298.0" y="566.0" width="1.55" height="2.05" fill="#00ff00"/><rect x="299.5" y="566.0" width="1.55" height="2.05" fill="#3eff00"/><rect x="301.0" y="566.0" width="1.55" height="2.05" fill="#00ff73"/><rect x="302.5" y="566.0" width="1.55" height="2.05" fill="#00ffbe"/><rect x="304.0" y="566.0" width="1.55" height="2.05" fill="#00f1ec"/><rect x="251.5" y="568.0" width="1.55" height="2.05" fill="#00f1ec"/><rect x="253.0" y="568.0" width="1.55" height="2.05" fill="#00ff99"/><rect x="254.5" y="568.0" width="1.55" height="2.05" fill="#00ffbe"/><rect x="256.0" y="568.0" width="4.55" height="2.05" fill="#3eff00"/><rect x="260.5" y="568.0" width="1.55" height="2.05" fill="#8aff00"/><rect x="262.0" y="568.0" width="1.55" height="2.05" fill="#ffff00"/><rect x="263.5" y="568.0" width="1.55" height="2.05" fill="#ffe200"/><rect x="265.0" y="568.0" width="1.55" height="2.05" fill="#ff1300"/><rect x="266.5" y="568.0" width="1.55" height="2.05" fill="#ff5d00"/><rect x="268.0" y="568.0" width="1.55" height="2.05" fill="#ffff00"/><rect x="269.5" y="568.0" width="1.55" height="2.05" fill="#d7ff00"/><rect x="271.0" y="568.0" width="1.55" height="2.05" fill="#3eff00"/><rect x="272.5" y="568.0" width="1.55" height="2.05" fill="#00ff00"/><rect x="274.0" y="568.0" width="1.55" height="2.05" fill="#00ff73"/><rect x="275.5" y="568.0" width="3.05" height="2.05" fill="#00ffbe"/><rect x="278.5" y="568.0" width="3.05" height="2.05" fill="#00f8d5"/><rect x="281.5" y="568.0" width="1.55" height="2.05" fill="#00f1ec"/><rect x="283.0" y="568.0" width="1.55" height="2.05" fill="#00ffbe"/><rect x="284.5" y="568.0" width="1.55" height="2.05" fill="#00f1ec"/><rect x="286.0" y="568.0" width="1.55" height="2.05" fill="#00f8d5"/><rect x="287.5" y="568.0" width="1.55" height="2.05" fill="#00ffbe"/><rect x="289.0" y="568.0" width="1.55" height="2.05" fill="#00ff99"/><rect x="290.5" y="568.0" width="1.55" height="2.05" fill="#00ff00"/><rect x="292.0" y="568.0" width="1.55" height="2.05" fill="#06ff00"/><rect x="293.5" y="568.0" width="1.55" height="2.05" fill="#3eff00"/><rect x="295.0" y="568.0" width="1.55" height="2.05" fill="#00ff3e"/><rect x="296.5" y="568.0" width="1.55" height="2.05" fill="#00ff99"/><rect x="298.0" y="568.0" width="1.55" height="2.05" fill="#06ff00"/><rect x="299.5" y="568.0" width="3.05" height="2.05" fill="#3eff00"/><rect x="302.5" y="568.0" width="1.55" height="2.05" fill="#00ff3e"/><rect x="304.0" y="568.0" width="1.55" height="2.05" fill="#00ff73"/><rect x="305.5" y="568.0" width="1.55" height="2.05" fill="#00f8d5"/><rect x="251.5" y="570.0" width="1.55" height="2.05" fill="#00f1ec"/><rect x="254.5" y="570.0" width="1.55" height="2.05" fill="#00f1ec"/><rect x="256.0" y="570.0" width="1.55" height="2.05" fill="#00ff73"/><rect x="257.5" y="570.0" width="1.55" height="2.05" fill="#06ff00"/><rect x="259.0" y="570.0" width="3.05" height="2.05" fill="#64ff00"/><rect x="262.0" y="570.0" width="3.05" height="2.05" fill="#ffff00"/><rect x="265.0" y="570.0" width="1.55" height="2.05" fill="#ff8600"/><rect x="266.5" y="570.0" width="1.55" height="2.05" fill="#ff5d00"/><rect x="268.0" y="570.0" width="1.55" height="2.05" fill="#ffe200"/><rect x="269.5" y="570.0" width="1.55" height="2.05" fill="#d7ff00"/><rect x="271.0" y="570.0" width="1.55" height="2.05" fill="#8aff00"/><rect x="272.5" y="570.0" width="1.55" height="2.05" fill="#06ff00"/><rect x="274.0" y="570.0" width="1.55" height="2.05" fill="#00f8d5"/><rect x="275.5" y="570.0" width="1.55" height="2.05" fill="#00ff99"/><rect x="277.0" y="570.0" width="3.05" height="2.05" fill="#00f8d5"/><rect x="280.0" y="570.0" width="1.55" height="2.05" fill="#00ffbe"/><rect x="281.5" y="570.0" width="3.05" height="2.05" fill="#00ff99"/><rect x="284.5" y="570.0" width="1.55" height="2.05" fill="#00f8d5"/><rect x="286.0" y="570.0" width="1.55" height="2.05" fill="#00ff99"/><rect x="287.5" y="570.0" width="1.55" height="2.05" fill="#00ffbe"/><rect x="289.0" y="570.0" width="1.55" height="2.05" fill="#00f1ec"/><rect x="290.5" y="570.0" width="1.55" height="2.05" fill="#00ff73"/><rect x="292.0" y="570.0" width="1.55" height="2.05" fill="#00ff00"/><rect x="293.5" y="570.0" width="1.55" height="2.05" fill="#19ff00"/><rect x="295.0" y="570.0" width="1.55" height="2.05" fill="#06ff00"/><rect x="296.5" y="570.0" width="1.55" height="2.05" fill="#00ff73"/><rect x="298.0" y="570.0" width="1.55" height="2.05" fill="#00ff99"/><rect x="299.5" y="570.0" width="1.55" height="2.05" fill="#00ff00"/><rect x="301.0" y="570.0" width="3.05" height="2.05" fill="#3eff00"/><rect x="304.0" y="570.0" width="3.05" height="2.05" fill="#00ff3e"/><rect x="254.5" y="572.0" width="1.55" height="2.05" fill="#00f1ec"/><rect x="256.0" y="572.0" width="1.55" height="2.05" fill="#00ff73"/><rect x="257.5" y="572.0" width="1.55" height="2.05" fill="#06ff00"/><rect x="259.0" y="572.0" width="1.55" height="2.05" fill="#8aff00"/><rect x="260.5" y="572.0" width="3.05" height="2.05" fill="#64ff00"/><rect x="263.5" y="572.0" width="1.55" height="2.05" fill="#8aff00"/><rect x="265.0" y="572.0" width="1.55" height="2.05" fill="#ffe200"/><rect x="266.5" y="572.0" width="3.05" height="2.05" fill="#ff1300"/><rect x="269.5" y="572.0" width="1.55" height="2.05" fill="#ffa800"/><rect x="271.0" y="572.0" width="1.55" height="2.05" fill="#b0ff00"/><rect x="272.5" y="572.0" width="1.55" height="2.05" fill="#64ff00"/><rect x="274.0" y="572.0" width="1.55" height="2.05" fill="#06ff00"/><rect x="275.5" y="572.0" width="1.55" height="2.05" fill="#00ffbe"/><rect x="277.0" y="572.0" width="1.55" height="2.05" fill="#00ff99"/><rect x="278.5" y="572.0" width="1.55" height="2.05" fill="#00f1ec"/><rect x="280.0" y="572.0" width="1.55" height="2.05" fill="#00f8d5"/><rect x="281.5" y="572.0" width="1.55" height="2.05" fill="#00ffbe"/><rect x="283.0" y="572.0" width="1.55" height="2.05" fill="#00f8d5"/><rect x="284.5" y="572.0" width="1.55" height="2.05" fill="#00ffbe"/><rect x="286.0" y="572.0" width="3.05" height="2.05" fill="#00ff99"/><rect x="289.0" y="572.0" width="1.55" height="2.05" fill="#00f8d5"/><rect x="290.5" y="572.0" width="1.55" height="2.05" fill="#00ffbe"/><rect x="292.0" y="572.0" width="1.55" height="2.05" fill="#00ff73"/><rect x="293.5" y="572.0" width="3.05" height="2.05" fill="#19ff00"/><rect x="296.5" y="572.0" width="1.55" height="2.05" fill="#00ff00"/><rect x="298.0" y="572.0" width="3.05" height="2.05" fill="#00ffbe"/><rect x="301.0" y="572.0" width="1.55" height="2.05" fill="#06ff00"/><rect x="302.5" y="572.0" width="1.55" height="2.05" fill="#00ff00"/><rect x="304.0" y="572.0" width="1.55" height="2.05" fill="#06ff00"/><rect x="305.5" y="572.0" width="1.55" height="2.05" fill="#00ff00"/><rect x="307.0" y="572.0" width="1.55" height="2.05" fill="#00ffbe"/><rect x="308.5" y="572.0" width="1.55" height="2.05" fill="#00f8d5"/><rect x="254.5" y="574.0" width="1.55" height="2.05" fill="#00f1ec"/><rect x="256.0" y="574.0" width="1.55" height="2.05" fill="#00ff3e"/><rect x="257.5" y="574.0" width="1.55" height="2.05" fill="#19ff00"/><rect x="259.0" y="574.0" width="3.05" height="2.05" fill="#8aff00"/><rect x="262.0" y="574.0" width="1.55" height="2.05" fill="#06ff00"/><rect x="263.5" y="574.0" width="1.55" height="2.05" fill="#3eff00"/><rect x="265.0" y="574.0" width="1.55" height="2.05" fill="#ffe200"/><rect x="266.5" y="574.0" width="1.55" height="2.05" fill="#ffa800"/><rect x="268.0" y="574.0" width="1.55" height="2.05" fill="#ff5d00"/><rect x="269.5" y="574.0" width="1.55" height="2.05" fill="#ff8600"/><rect x="271.0" y="574.0" width="1.55" height="2.05" fill="#b0ff00"/><rect x="272.5" y="574.0" width="1.55" height="2.05" fill="#d7ff00"/><rect x="274.0" y="574.0" width="1.55" height="2.05" fill="#3eff00"/><rect x="275.5" y="574.0" width="1.55" height="2.05" fill="#00ff00"/><rect x="277.0" y="574.0" width="1.55" height="2.05" fill="#00ffbe"/><rect x="278.5" y="574.0" width="4.55" height="2.05" fill="#00f8d5"/><rect x="283.0" y="574.0" width="1.55" height="2.05" fill="#00f1ec"/><rect x="284.5" y="574.0" width="1.55" height="2.05" fill="#00ff99"/><rect x="286.0" y="574.0" width="3.05" height="2.05" fill="#00f8d5"/><rect x="289.0" y="574.0" width="3.05" height="2.05" fill="#00ffbe"/><rect x="292.0" y="574.0" width="1.55" height="2.05" fill="#00ff99"/><rect x="293.5" y="574.0" width="1.55" height="2.05" fill="#00ff3e"/><rect x="295.0" y="574.0" width="3.05" height="2.05" fill="#19ff00"/><rect x="298.0" y="574.0" width="1.55" height="2.05" fill="#00ff00"/><rect x="299.5" y="574.0" width="1.55" height="2.05" fill="#00ff73"/><rect x="301.0" y="574.0" width="1.55" height="2.05" fill="#00ff3e"/><rect x="302.5" y="574.0" width="1.55" height="2.05" fill="#06ff00"/><rect x="304.0" y="574.0" width="3.05" height="2.05" fill="#00ff00"/><rect x="307.0" y="574.0" width="1.55" height="2.05" fill="#00ff73"/><rect x="308.5" y="574.0" width="1.55" height="2.05" fill="#00ffbe"/><rect x="254.5" y="576.0" width="3.05" height="2.05" fill="#00f1ec"/><rect x="257.5" y="576.0" width="1.55" height="2.05" fill="#00ff00"/><rect x="259.0" y="576.0" width="1.55" height="2.05" fill="#19ff00"/><rect x="260.5" y="576.0" width="1.55" height="2.05" fill="#8aff00"/><rect x="262.0" y="576.0" width="1.55" height="2.05" fill="#64ff00"/><rect x="263.5" y="576.0" width="1.55" height="2.05" fill="#19ff00"/><rect x="265.0" y="576.0" width="1.55" height="2.05" fill="#b0ff00"/><rect x="266.5" y="576.0" width="3.05" height="2.05" fill="#ffc500"/><rect x="269.5" y="576.0" width="1.55" height="2.05" fill="#ff3400"/><rect x="271.0" y="576.0" width="1.55" height="2.05" fill="#ffa800"/><rect x="272.5" y="576.0" width="1.55" height="2.05" fill="#ffc500"/><rect x="274.0" y="576.0" width="1.55" height="2.05" fill="#8aff00"/><rect x="275.5" y="576.0" width="1.55" height="2.05" fill="#00ff00"/><rect x="277.0" y="576.0" width="1.55" height="2.05" fill="#00ff73"/><rect x="278.5" y="576.0" width="1.55" height="2.05" fill="#00ff99"/><rect x="280.0" y="576.0" width="3.05" height="2.05" fill="#00f8d5"/><rect x="283.0" y="576.0" width="1.55" height="2.05" fill="#00ff99"/><rect x="284.5" y="576.0" width="4.55" height="2.05" fill="#00ffbe"/><rect x="289.0" y="576.0" width="1.55" height="2.05" fill="#00f8d5"/><rect x="290.5" y="576.0" width="1.55" height="2.05" fill="#00ff3e"/><rect x="292.0" y="576.0" width="1.55" height="2.05" fill="#00f8d5"/><rect x="293.5" y="576.0" width="1.55" height="2.05" fill="#00ffbe"/><rect x="295.0" y="576.0" width="1.55" height="2.05" fill="#00ff3e"/><rect x="296.5" y="576.0" width="1.55" height="2.05" fill="#06ff00"/><rect x="298.0" y="576.0" width="1.55" height="2.05" fill="#00ff00"/><rect x="299.5" y="576.0" width="1.55" height="2.05" fill="#00ff73"/><rect x="301.0" y="576.0" width="1.55" height="2.05" fill="#00ff99"/><rect x="302.5" y="576.0" width="1.55" height="2.05" fill="#00ffbe"/><rect x="304.0" y="576.0" width="1.55" height="2.05" fill="#00ff3e"/><rect x="305.5" y="576.0" width="1.55" height="2.05" fill="#19ff00"/><rect x="307.0" y="576.0" width="1.55" height="2.05" fill="#00ff3e"/><rect x="308.5" y="576.0" width="1.55" height="2.05" fill="#00ff00"/><rect x="310.0" y="576.0" width="1.55" height="2.05" fill="#00ff99"/><rect x="256.0" y="578.0" width="1.55" height="2.05" fill="#00ffbe"/><rect x="257.5" y="578.0" width="1.55" height="2.05" fill="#00ff73"/><rect x="259.0" y="578.0" width="1.55" height="2.05" fill="#00ff00"/><rect x="260.5" y="578.0" width="1.55" height="2.05" fill="#3eff00"/><rect x="262.0" y="578.0" width="1.55" height="2.05" fill="#06ff00"/><rect x="263.5" y="578.0" width="1.55" height="2.05" fill="#19ff00"/><rect x="265.0" y="578.0" width="1.55" height="2.05" fill="#8aff00"/><rect x="266.5" y="578.0" width="1.55" height="2.05" fill="#ffff00"/><rect x="268.0" y="578.0" width="3.05" height="2.05" fill="#ff8600"/><rect x="271.0" y="578.0" width="1.55" height="2.05" fill="#ff0d00"/><rect x="272.5" y="578.0" width="1.55" height="2.05" fill="#ffa800"/><rect x="274.0" y="578.0" width="1.55" height="2.05" fill="#d7ff00"/><rect x="275.5" y="578.0" width="1.55" height="2.05" fill="#8aff00"/><rect x="277.0" y="578.0" width="1.55" height="2.05" fill="#00ff00"/><rect x="278.5" y="578.0" width="1.55" height="2.05" fill="#06ff00"/><rect x="280.0" y="578.0" width="1.55" height="2.05" fill="#00ff73"/><rect x="281.5" y="578.0" width="1.55" height="2.05" fill="#00ffbe"/><rect x="283.0" y="578.0" width="1.55" height="2.05" fill="#00f1ec"/><rect x="284.5" y="578.0" width="1.55" height="2.05" fill="#00f8d5"/><rect x="286.0" y="578.0" width="1.55" height="2.05" fill="#00ff99"/><rect x="287.5" y="578.0" width="1.55" height="2.05" fill="#00f8d5"/><rect x="289.0" y="578.0" width="4.55" height="2.05" fill="#00ffbe"/><rect x="293.5" y="578.0" width="1.55" height="2.05" fill="#00ff99"/><rect x="295.0" y="578.0" width="1.55" height="2.05" fill="#00ff00"/><rect x="296.5" y="578.0" width="3.05" height="2.05" fill="#06ff00"/><rect x="299.5" y="578.0" width="1.55" height="2.05" fill="#00ff00"/><rect x="301.0" y="578.0" width="1.55" height="2.05" fill="#00ff99"/><rect x="302.5" y="578.0" width="1.55" height="2.05" fill="#00f1ec"/><rect x="304.0" y="578.0" width="1.55" height="2.05" fill="#00ff73"/><rect x="305.5" y="578.0" width="1.55" height="2.05" fill="#00ff3e"/><rect x="307.0" y="578.0" width="3.05" height="2.05" fill="#06ff00"/><rect x="310.0" y="578.0" width="1.55" height="2.05" fill="#00ff00"/><rect x="311.5" y="578.0" width="1.55" height="2.05" fill="#00f1ec"/><rect x="313.0" y="578.0" width="1.55" height="2.05" fill="#00e5ff"/><rect x="259.0" y="580.0" width="1.55" height="2.05" fill="#00f8d5"/><rect x="260.5" y="580.0" width="1.55" height="2.05" fill="#00ff73"/><rect x="262.0" y="580.0" width="1.55" height="2.05" fill="#00ffbe"/><rect x="263.5" y="580.0" width="1.55" height="2.05" fill="#00ff00"/><rect x="265.0" y="580.0" width="1.55" height="2.05" fill="#19ff00"/><rect x="266.5" y="580.0" width="1.55" height="2.05" fill="#b0ff00"/><rect x="268.0" y="580.0" width="1.55" height="2.05" fill="#ffe200"/><rect x="269.5" y="580.0" width="1.55" height="2.05" fill="#ffa800"/><rect x="271.0" y="580.0" width="1.55" height="2.05" fill="#ff1300"/><rect x="272.5" y="580.0" width="1.55" height="2.05" fill="#ff0d00"/><rect x="274.0" y="580.0" width="1.55" height="2.05" fill="#ffe200"/><rect x="275.5" y="580.0" width="1.55" height="2.05" fill="#ffff00"/><rect x="277.0" y="580.0" width="1.55" height="2.05" fill="#64ff00"/><rect x="278.5" y="580.0" width="1.55" height="2.05" fill="#3eff00"/><rect x="280.0" y="580.0" width="1.55" height="2.05" fill="#00ff3e"/><rect x="281.5" y="580.0" width="1.55" height="2.05" fill="#00ff73"/><rect x="283.0" y="580.0" width="1.55" height="2.05" fill="#00ffbe"/><rect x="284.5" y="580.0" width="1.55" height="2.05" fill="#00f8d5"/><rect x="286.0" y="580.0" width="1.55" height="2.05" fill="#00ffbe"/><rect x="287.5" y="580.0" width="3.05" height="2.05" fill="#00f8d5"/><rect x="290.5" y="580.0" width="1.55" height="2.05" fill="#00ff99"/><rect x="292.0" y="580.0" width="1.55" height="2.05" fill="#00f8d5"/><rect x="293.5" y="580.0" width="1.55" height="2.05" fill="#00ff99"/><rect x="295.0" y="580.0" width="1.55" height="2.05" fill="#00f1ec"/><rect x="296.5" y="580.0" width="1.55" height="2.05" fill="#00ff99"/><rect x="298.0" y="580.0" width="1.55" height="2.05" fill="#19ff00"/><rect x="299.5" y="580.0" width="1.55" height="2.05" fill="#00ff3e"/><rect x="301.0" y="580.0" width="1.55" height="2.05" fill="#00ff73"/><rect x="302.5" y="580.0" width="1.55" height="2.05" fill="#00f8d5"/><rect x="304.0" y="580.0" width="1.55" height="2.05" fill="#00ffbe"/><rect x="305.5" y="580.0" width="1.55" height="2.05" fill="#00ff99"/><rect x="307.0" y="580.0" width="1.55" height="2.05" fill="#00ff00"/><rect x="308.5" y="580.0" width="1.55" height="2.05" fill="#00ff73"/><rect x="310.0" y="580.0" width="1.55" height="2.05" fill="#19ff00"/><rect x="311.5" y="580.0" width="1.55" height="2.05" fill="#00ff00"/><rect x="313.0" y="580.0" width="1.55" height="2.05" fill="#00ff73"/><rect x="314.5" y="580.0" width="1.55" height="2.05" fill="#00f1ec"/><rect x="260.5" y="582.0" width="1.55" height="2.05" fill="#00f1ec"/><rect x="262.0" y="582.0" width="1.55" height="2.05" fill="#00f8d5"/><rect x="263.5" y="582.0" width="1.55" height="2.05" fill="#00ffbe"/><rect x="265.0" y="582.0" width="1.55" height="2.05" fill="#00ff00"/><rect x="266.5" y="582.0" width="3.05" height="2.05" fill="#64ff00"/><rect x="269.5" y="582.0" width="3.05" height="2.05" fill="#ffa800"/><rect x="272.5" y="582.0" width="1.55" height="2.05" fill="#ff1300"/><rect x="274.0" y="582.0" width="1.55" height="2.05" fill="#ff3400"/><rect x="275.5" y="582.0" width="1.55" height="2.05" fill="#ffa800"/><rect x="277.0" y="582.0" width="1.55" height="2.05" fill="#ffe200"/><rect x="278.5" y="582.0" width="1.55" height="2.05" fill="#b0ff00"/><rect x="280.0" y="582.0" width="1.55" height="2.05" fill="#3eff00"/><rect x="281.5" y="582.0" width="1.55" height="2.05" fill="#00ff00"/><rect x="283.0" y="582.0" width="1.55" height="2.05" fill="#00ff73"/><rect x="284.5" y="582.0" width="4.55" height="2.05" fill="#00f8d5"/><rect x="289.0" y="582.0" width="1.55" height="2.05" fill="#00f1ec"/><rect x="290.5" y="582.0" width="1.55" height="2.05" fill="#00ff99"/><rect x="292.0" y="582.0" width="1.55" height="2.05" fill="#00ffbe"/><rect x="293.5" y="582.0" width="1.55" height="2.05" fill="#00ff3e"/><rect x="295.0" y="582.0" width="1.55" height="2.05" fill="#00f1ec"/><rect x="296.5" y="582.0" width="1.55" height="2.05" fill="#00ff3e"/><rect x="298.0" y="582.0" width="4.55" height="2.05" fill="#00ff00"/><rect x="302.5" y="582.0" width="3.05" height="2.05" fill="#00ffbe"/><rect x="305.5" y="582.0" width="1.55" height="2.05" fill="#00f8d5"/><rect x="307.0" y="582.0" width="1.55" height="2.05" fill="#00ff73"/><rect x="308.5" y="582.0" width="3.05" height="2.05" fill="#06ff00"/><rect x="311.5" y="582.0" width="1.55" height="2.05" fill="#00ff00"/><rect x="313.0" y="582.0" width="1.55" height="2.05" fill="#00ff73"/><rect x="314.5" y="582.0" width="1.55" height="2.05" fill="#00ff99"/><rect x="316.0" y="582.0" width="1.55" height="2.05" fill="#00f8d5"/><rect x="260.5" y="584.0" width="1.55" height="2.05" fill="#00e5ff"/><rect x="262.0" y="584.0" width="1.55" height="2.05" fill="#00f8d5"/><rect x="263.5" y="584.0" width="1.55" height="2.05" fill="#00ffbe"/><rect x="265.0" y="584.0" width="1.55" height="2.05" fill="#00ff73"/><rect x="266.5" y="584.0" width="1.55" height="2.05" fill="#3eff00"/><rect x="268.0" y="584.0" width="1.55" height="2.05" fill="#8aff00"/><rect x="269.5" y="584.0" width="1.55" height="2.05" fill="#d7ff00"/><rect x="271.0" y="584.0" width="1.55" height="2.05" fill="#ffc500"/><rect x="272.5" y="584.0" width="1.55" height="2.05" fill="#ff8600"/><rect x="274.0" y="584.0" width="1.55" height="2.05" fill="#ffa800"/><rect x="275.5" y="584.0" width="1.55" height="2.05" fill="#ffe200"/><rect x="277.0" y="584.0" width="1.55" height="2.05" fill="#ffff00"/><rect x="278.5" y="584.0" width="1.55" height="2.05" fill="#ffa800"/><rect x="280.0" y="584.0" width="1.55" height="2.05" fill="#8aff00"/><rect x="281.5" y="584.0" width="1.55" height="2.05" fill="#64ff00"/><rect x="283.0" y="584.0" width="1.55" height="2.05" fill="#06ff00"/><rect x="284.5" y="584.0" width="3.05" height="2.05" fill="#00ff73"/><rect x="287.5" y="584.0" width="4.55" height="2.05" fill="#00ffbe"/><rect x="292.0" y="584.0" width="1.55" height="2.05" fill="#00f8d5"/><rect x="293.5" y="584.0" width="4.55" height="2.05" fill="#00ffbe"/><rect x="298.0" y="584.0" width="3.05" height="2.05" fill="#00ff73"/><rect x="301.0" y="584.0" width="1.55" height="2.05" fill="#00ff99"/><rect x="302.5" y="584.0" width="1.55" height="2.05" fill="#00f1ec"/><rect x="305.5" y="584.0" width="1.55" height="2.05" fill="#00ff99"/><rect x="307.0" y="584.0" width="1.55" height="2.05" fill="#00f1ec"/><rect x="308.5" y="584.0" width="1.55" height="2.05" fill="#00ff99"/><rect x="310.0" y="584.0" width="6.05" height="2.05" fill="#06ff00"/><rect x="316.0" y="584.0" width="1.55" height="2.05" fill="#00ff3e"/><rect x="317.5" y="584.0" width="1.55" height="2.05" fill="#00f8d5"/><rect x="260.5" y="586.0" width="3.05" height="2.05" fill="#00f8d5"/><rect x="263.5" y="586.0" width="1.55" height="2.05" fill="#00ffbe"/><rect x="265.0" y="586.0" width="3.05" height="2.05" fill="#00ff3e"/><rect x="268.0" y="586.0" width="1.55" height="2.05" fill="#00ff00"/><rect x="269.5" y="586.0" width="1.55" height="2.05" fill="#00ff3e"/><rect x="271.0" y="586.0" width="1.55" height="2.05" fill="#64ff00"/><rect x="272.5" y="586.0" width="3.05" height="2.05" fill="#ffff00"/><rect x="275.5" y="586.0" width="1.55" height="2.05" fill="#ff8600"/><rect x="277.0" y="586.0" width="1.55" height="2.05" fill="#ffa800"/><rect x="278.5" y="586.0" width="3.05" height="2.05" fill="#ffc500"/><rect x="281.5" y="586.0" width="3.05" height="2.05" fill="#64ff00"/><rect x="284.5" y="586.0" width="1.55" height="2.05" fill="#19ff00"/><rect x="286.0" y="586.0" width="1.55" height="2.05" fill="#00ff3e"/><rect x="287.5" y="586.0" width="1.55" height="2.05" fill="#00ffbe"/><rect x="289.0" y="586.0" width="1.55" height="2.05" fill="#00f8d5"/><rect x="290.5" y="586.0" width="1.55" height="2.05" fill="#00ff99"/><rect x="292.0" y="586.0" width="1.55" height="2.05" fill="#00f8d5"/><rect x="293.5" y="586.0" width="1.55" height="2.05" fill="#00ff99"/><rect x="295.0" y="586.0" width="1.55" height="2.05" fill="#00f8d5"/><rect x="296.5" y="586.0" width="1.55" height="2.05" fill="#00ff99"/><rect x="298.0" y="586.0" width="1.55" height="2.05" fill="#00ffbe"/><rect x="299.5" y="586.0" width="1.55" height="2.05" fill="#00f1ec"/><rect x="301.0" y="586.0" width="1.55" height="2.05" fill="#00ff73"/><rect x="302.5" y="586.0" width="1.55" height="2.05" fill="#00f1ec"/><rect x="304.0" y="586.0" width="1.55" height="2.05" fill="#00f8d5"/><rect x="305.5" y="586.0" width="1.55" height="2.05" fill="#00ff73"/><rect x="307.0" y="586.0" width="1.55" height="2.05" fill="#00f8d5"/><rect x="308.5" y="586.0" width="3.05" height="2.05" fill="#00f1ec"/><rect x="311.5" y="586.0" width="1.55" height="2.05" fill="#00ff3e"/><rect x="313.0" y="586.0" width="1.55" height="2.05" fill="#00ff73"/><rect x="314.5" y="586.0" width="1.55" height="2.05" fill="#00ff3e"/><rect x="316.0" y="586.0" width="1.55" height="2.05" fill="#00ff00"/><rect x="317.5" y="586.0" width="1.55" height="2.05" fill="#00ff73"/><rect x="319.0" y="586.0" width="1.55" height="2.05" fill="#00ff99"/><rect x="320.5" y="586.0" width="1.55" height="2.05" fill="#00f8d5"/><rect x="263.5" y="588.0" width="3.05" height="2.05" fill="#00f1ec"/><rect x="266.5" y="588.0" width="3.05" height="2.05" fill="#00ff99"/><rect x="269.5" y="588.0" width="1.55" height="2.05" fill="#06ff00"/><rect x="271.0" y="588.0" width="1.55" height="2.05" fill="#19ff00"/><rect x="272.5" y="588.0" width="1.55" height="2.05" fill="#8aff00"/><rect x="274.0" y="588.0" width="1.55" height="2.05" fill="#ffff00"/><rect x="275.5" y="588.0" width="1.55" height="2.05" fill="#ffa800"/><rect x="277.0" y="588.0" width="1.55" height="2.05" fill="#ff8600"/><rect x="278.5" y="588.0" width="1.55" height="2.05" fill="#ff5d00"/><rect x="280.0" y="588.0" width="1.55" height="2.05" fill="#ffa800"/><rect x="281.5" y="588.0" width="3.05" height="2.05" fill="#ffff00"/><rect x="284.5" y="588.0" width="1.55" height="2.05" fill="#3eff00"/><rect x="286.0" y="588.0" width="1.55" height="2.05" fill="#00ff3e"/><rect x="287.5" y="588.0" width="1.55" height="2.05" fill="#00ff73"/><rect x="289.0" y="588.0" width="1.55" height="2.05" fill="#00ffbe"/><rect x="290.5" y="588.0" width="3.05" height="2.05" fill="#00f8d5"/><rect x="293.5" y="588.0" width="1.55" height="2.05" fill="#00ff99"/><rect x="295.0" y="588.0" width="1.55" height="2.05" fill="#00f8d5"/><rect x="296.5" y="588.0" width="1.55" height="2.05" fill="#00ffbe"/><rect x="298.0" y="588.0" width="1.55" height="2.05" fill="#00f8d5"/><rect x="299.5" y="588.0" width="3.05" height="2.05" fill="#00ff73"/><rect x="302.5" y="588.0" width="4.55" height="2.05" fill="#00f8d5"/><rect x="307.0" y="588.0" width="1.55" height="2.05" fill="#00ff73"/><rect x="308.5" y="588.0" width="1.55" height="2.05" fill="#00ff99"/><rect x="310.0" y="588.0" width="1.55" height="2.05" fill="#00f1ec"/><rect x="311.5" y="588.0" width="1.55" height="2.05" fill="#00f8d5"/><rect x="313.0" y="588.0" width="1.55" height="2.05" fill="#00ffbe"/><rect x="314.5" y="588.0" width="1.55" height="2.05" fill="#00ff99"/><rect x="316.0" y="588.0" width="1.55" height="2.05" fill="#00ff00"/><rect x="317.5" y="588.0" width="1.55" height="2.05" fill="#06ff00"/><rect x="319.0" y="588.0" width="1.55" height="2.05" fill="#00ff73"/><rect x="320.5" y="588.0" width="3.05" height="2.05" fill="#00f1ec"/><rect x="265.0" y="590.0" width="1.55" height="2.05" fill="#00f1ec"/><rect x="266.5" y="590.0" width="1.55" height="2.05" fill="#00f8d5"/><rect x="268.0" y="590.0" width="1.55" height="2.05" fill="#00ff99"/><rect x="269.5" y="590.0" width="1.55" height="2.05" fill="#00ff3e"/><rect x="271.0" y="590.0" width="1.55" height="2.05" fill="#00ff99"/><rect x="272.5" y="590.0" width="1.55" height="2.05" fill="#00ff00"/><rect x="274.0" y="590.0" width="1.55" height="2.05" fill="#64ff00"/><rect x="275.5" y="590.0" width="1.55" height="2.05" fill="#d7ff00"/><rect x="277.0" y="590.0" width="1.55" height="2.05" fill="#ffe200"/><rect x="278.5" y="590.0" width="1.55" height="2.05" fill="#ffa800"/><rect x="280.0" y="590.0" width="1.55" height="2.05" fill="#ff1300"/><rect x="281.5" y="590.0" width="1.55" height="2.05" fill="#ff3400"/><rect x="283.0" y="590.0" width="1.55" height="2.05" fill="#ffe200"/><rect x="284.5" y="590.0" width="1.55" height="2.05" fill="#b0ff00"/><rect x="286.0" y="590.0" width="1.55" height="2.05" fill="#64ff00"/><rect x="287.5" y="590.0" width="1.55" height="2.05" fill="#06ff00"/><rect x="289.0" y="590.0" width="1.55" height="2.05" fill="#00ff3e"/><rect x="290.5" y="590.0" width="1.55" height="2.05" fill="#00f8d5"/><rect x="292.0" y="590.0" width="1.55" height="2.05" fill="#00f1ec"/><rect x="293.5" y="590.0" width="1.55" height="2.05" fill="#00f8d5"/><rect x="295.0" y="590.0" width="3.05" height="2.05" fill="#00ff73"/><rect x="298.0" y="590.0" width="1.55" height="2.05" fill="#19ff00"/><rect x="299.5" y="590.0" width="1.55" height="2.05" fill="#8aff00"/><rect x="301.0" y="590.0" width="1.55" height="2.05" fill="#64ff00"/><rect x="302.5" y="590.0" width="1.55" height="2.05" fill="#00ff3e"/><rect x="304.0" y="590.0" width="1.55" height="2.05" fill="#00ff99"/><rect x="305.5" y="590.0" width="1.55" height="2.05" fill="#00f1ec"/><rect x="307.0" y="590.0" width="1.55" height="2.05" fill="#00f8d5"/><rect x="308.5" y="590.0" width="1.55" height="2.05" fill="#00ffbe"/><rect x="310.0" y="590.0" width="1.55" height="2.05" fill="#00f1ec"/><rect x="311.5" y="590.0" width="3.05" height="2.05" fill="#00ff99"/><rect x="314.5" y="590.0" width="3.05" height="2.05" fill="#00ff73"/><rect x="317.5" y="590.0" width="1.55" height="2.05" fill="#00ff00"/><rect x="319.0" y="590.0" width="1.55" height="2.05" fill="#00ff3e"/><rect x="320.5" y="590.0" width="1.55" height="2.05" fill="#00f8d5"/><rect x="322.0" y="590.0" width="1.55" height="2.05" fill="#00ff99"/><rect x="323.5" y="590.0" width="3.05" height="2.05" fill="#00f1ec"/><rect x="266.5" y="592.0" width="1.55" height="2.05" fill="#00ffbe"/><rect x="268.0" y="592.0" width="1.55" height="2.05" fill="#00f1ec"/><rect x="269.5" y="592.0" width="3.05" height="2.05" fill="#00ff99"/><rect x="272.5" y="592.0" width="1.55" height="2.05" fill="#00ff00"/><rect x="274.0" y="592.0" width="1.55" height="2.05" fill="#19ff00"/><rect x="275.5" y="592.0" width="1.55" height="2.05" fill="#64ff00"/><rect x="277.0" y="592.0" width="1.55" height="2.05" fill="#d7ff00"/><rect x="278.5" y="592.0" width="1.55" height="2.05" fill="#ff8600"/><rect x="280.0" y="592.0" width="3.05" height="2.05" fill="#ffc500"/><rect x="283.0" y="592.0" width="1.55" height="2.05" fill="#ff5d00"/><rect x="284.5" y="592.0" width="1.55" height="2.05" fill="#d7ff00"/><rect x="286.0" y="592.0" width="1.55" height="2.05" fill="#b0ff00"/><rect x="287.5" y="592.0" width="1.55" height="2.05" fill="#3eff00"/><rect x="289.0" y="592.0" width="1.55" height="2.05" fill="#00ff00"/><rect x="290.5" y="592.0" width="1.55" height="2.05" fill="#00ffbe"/><rect x="292.0" y="592.0" width="1.55" height="2.05" fill="#00f1ec"/><rect x="293.5" y="592.0" width="1.55" height="2.05" fill="#00ff99"/><rect x="295.0" y="592.0" width="1.55" height="2.05" fill="#00ffbe"/><rect x="296.5" y="592.0" width="1.55" height="2.05" fill="#00ff99"/><rect x="298.0" y="592.0" width="1.55" height="2.05" fill="#19ff00"/><rect x="299.5" y="592.0" width="1.55" height="2.05" fill="#8aff00"/><rect x="301.0" y="592.0" width="1.55" height="2.05" fill="#b0ff00"/><rect x="302.5" y="592.0" width="1.55" height="2.05" fill="#3eff00"/><rect x="304.0" y="592.0" width="1.55" height="2.05" fill="#00ff73"/><rect x="305.5" y="592.0" width="3.05" height="2.05" fill="#00f1ec"/><rect x="308.5" y="592.0" width="1.55" height="2.05" fill="#00f8d5"/><rect x="310.0" y="592.0" width="1.55" height="2.05" fill="#00ffbe"/><rect x="311.5" y="592.0" width="1.55" height="2.05" fill="#00f8d5"/><rect x="313.0" y="592.0" width="3.05" height="2.05" fill="#00ff99"/><rect x="316.0" y="592.0" width="1.55" height="2.05" fill="#00ffbe"/><rect x="317.5" y="592.0" width="1.55" height="2.05" fill="#00ff3e"/><rect x="319.0" y="592.0" width="1.55" height="2.05" fill="#00ff99"/><rect x="320.5" y="592.0" width="1.55" height="2.05" fill="#00ff3e"/><rect x="322.0" y="592.0" width="1.55" height="2.05" fill="#00ff73"/><rect x="323.5" y="592.0" width="1.55" height="2.05" fill="#00ffbe"/><rect x="328.0" y="592.0" width="1.55" height="2.05" fill="#00f1ec"/><rect x="266.5" y="594.0" width="3.05" height="2.05" fill="#00f1ec"/><rect x="269.5" y="594.0" width="1.55" height="2.05" fill="#00f8d5"/><rect x="271.0" y="594.0" width="1.55" height="2.05" fill="#00ff99"/><rect x="272.5" y="594.0" width="1.55" height="2.05" fill="#00ffbe"/><rect x="274.0" y="594.0" width="1.55" height="2.05" fill="#00ff99"/><rect x="275.5" y="594.0" width="1.55" height="2.05" fill="#06ff00"/><rect x="277.0" y="594.0" width="1.55" height="2.05" fill="#64ff00"/><rect x="278.5" y="594.0" width="1.55" height="2.05" fill="#b0ff00"/><rect x="280.0" y="594.0" width="1.55" height="2.05" fill="#ffff00"/><rect x="281.5" y="594.0" width="1.55" height="2.05" fill="#ffc500"/><rect x="283.0" y="594.0" width="1.55" height="2.05" fill="#ff5d00"/><rect x="284.5" y="594.0" width="1.55" height="2.05" fill="#ffc500"/><rect x="286.0" y="594.0" width="1.55" height="2.05" fill="#ffe200"/><rect x="287.5" y="594.0" width="1.55" height="2.05" fill="#d7ff00"/><rect x="289.0" y="594.0" width="1.55" height="2.05" fill="#8aff00"/><rect x="290.5" y="594.0" width="1.55" height="2.05" fill="#19ff00"/><rect x="292.0" y="594.0" width="1.55" height="2.05" fill="#00ff73"/><rect x="293.5" y="594.0" width="3.05" height="2.05" fill="#00ffbe"/><rect x="296.5" y="594.0" width="1.55" height="2.05" fill="#00ff99"/><rect x="298.0" y="594.0" width="1.55" height="2.05" fill="#06ff00"/><rect x="299.5" y="594.0" width="1.55" height="2.05" fill="#19ff00"/><rect x="301.0" y="594.0" width="1.55" height="2.05" fill="#b0ff00"/><rect x="302.5" y="594.0" width="1.55" height="2.05" fill="#8aff00"/><rect x="304.0" y="594.0" width="1.55" height="2.05" fill="#64ff00"/><rect x="305.5" y="594.0" width="1.55" height="2.05" fill="#00ff73"/><rect x="307.0" y="594.0" width="1.55" height="2.05" fill="#00f1ec"/><rect x="308.5" y="594.0" width="1.55" height="2.05" fill="#00ff73"/><rect x="310.0" y="594.0" width="3.05" height="2.05" fill="#00f8d5"/><rect x="313.0" y="594.0" width="1.55" height="2.05" fill="#00ff99"/><rect x="314.5" y="594.0" width="3.05" height="2.05" fill="#00ffbe"/><rect x="317.5" y="594.0" width="1.55" height="2.05" fill="#00f1ec"/><rect x="319.0" y="594.0" width="1.55" height="2.05" fill="#00ff99"/><rect x="320.5" y="594.0" width="3.05" height="2.05" fill="#00ff73"/><rect x="323.5" y="594.0" width="1.55" height="2.05" fill="#00ffbe"/><rect x="325.0" y="594.0" width="1.55" height="2.05" fill="#00f8d5"/><rect x="326.5" y="594.0" width="1.55" height="2.05" fill="#00ffbe"/><rect x="328.0" y="594.0" width="3.05" height="2.05" fill="#00f1ec"/><rect x="331.0" y="594.0" width="1.55" height="2.05" fill="#00e5ff"/><rect x="332.5" y="594.0" width="1.55" height="2.05" fill="#00f1ec"/><rect x="337.0" y="594.0" width="1.55" height="2.05" fill="#00e5ff"/><rect x="340.0" y="594.0" width="1.55" height="2.05" fill="#00f1ec"/><rect x="268.0" y="596.0" width="1.55" height="2.05" fill="#00ff99"/><rect x="269.5" y="596.0" width="3.05" height="2.05" fill="#00ffbe"/><rect x="272.5" y="596.0" width="1.55" height="2.05" fill="#00f8d5"/><rect x="274.0" y="596.0" width="1.55" height="2.05" fill="#00ff99"/><rect x="275.5" y="596.0" width="1.55" height="2.05" fill="#00ff73"/><rect x="277.0" y="596.0" width="1.55" height="2.05" fill="#06ff00"/><rect x="278.5" y="596.0" width="1.55" height="2.05" fill="#19ff00"/><rect x="280.0" y="596.0" width="1.55" height="2.05" fill="#d7ff00"/><rect x="281.5" y="596.0" width="1.55" height="2.05" fill="#ffff00"/><rect x="283.0" y="596.0" width="1.55" height="2.05" fill="#ff1300"/><rect x="284.5" y="596.0" width="1.55" height="2.05" fill="#ff3400"/><rect x="286.0" y="596.0" width="1.55" height="2.05" fill="#ff5d00"/><rect x="287.5" y="596.0" width="1.55" height="2.05" fill="#ffff00"/><rect x="289.0" y="596.0" width="1.55" height="2.05" fill="#b0ff00"/><rect x="290.5" y="596.0" width="1.55" height="2.05" fill="#64ff00"/><rect x="292.0" y="596.0" width="1.55" height="2.05" fill="#06ff00"/><rect x="293.5" y="596.0" width="1.55" height="2.05" fill="#00ff3e"/><rect x="295.0" y="596.0" width="1.55" height="2.05" fill="#00ffbe"/><rect x="296.5" y="596.0" width="1.55" height="2.05" fill="#00f8d5"/><rect x="298.0" y="596.0" width="1.55" height="2.05" fill="#00ff99"/><rect x="299.5" y="596.0" width="1.55" height="2.05" fill="#00ff3e"/><rect x="301.0" y="596.0" width="1.55" height="2.05" fill="#19ff00"/><rect x="302.5" y="596.0" width="1.55" height="2.05" fill="#d7ff00"/><rect x="304.0" y="596.0" width="1.55" height="2.05" fill="#8aff00"/><rect x="305.5" y="596.0" width="1.55" height="2.05" fill="#3eff00"/><rect x="307.0" y="596.0" width="1.55" height="2.05" fill="#00ff3e"/><rect x="308.5" y="596.0" width="4.55" height="2.05" fill="#00ffbe"/><rect x="313.0" y="596.0" width="1.55" height="2.05" fill="#00f1ec"/><rect x="316.0" y="596.0" width="1.55" height="2.05" fill="#00f1ec"/><rect x="317.5" y="596.0" width="1.55" height="2.05" fill="#00f8d5"/><rect x="320.5" y="596.0" width="1.55" height="2.05" fill="#00f1ec"/><rect x="322.0" y="596.0" width="1.55" height="2.05" fill="#00ffbe"/><rect x="323.5" y="596.0" width="1.55" height="2.05" fill="#00ff99"/><rect x="325.0" y="596.0" width="1.55" height="2.05" fill="#00f8d5"/><rect x="326.5" y="596.0" width="1.55" height="2.05" fill="#00ff99"/><rect x="328.0" y="596.0" width="1.55" height="2.05" fill="#00ffbe"/><rect x="329.5" y="596.0" width="1.55" height="2.05" fill="#00ff73"/><rect x="331.0" y="596.0" width="1.55" height="2.05" fill="#00f8d5"/><rect x="332.5" y="596.0" width="3.05" height="2.05" fill="#00ffbe"/><rect x="335.5" y="596.0" width="1.55" height="2.05" fill="#00f8d5"/><rect x="337.0" y="596.0" width="1.55" height="2.05" fill="#00ffbe"/><rect x="338.5" y="596.0" width="1.55" height="2.05" fill="#00ff73"/><rect x="340.0" y="596.0" width="3.05" height="2.05" fill="#00f1ec"/><rect x="343.0" y="596.0" width="4.55" height="2.05" fill="#00f8d5"/><rect x="268.0" y="598.0" width="1.55" height="2.05" fill="#00ffbe"/><rect x="269.5" y="598.0" width="1.55" height="2.05" fill="#00f8d5"/><rect x="271.0" y="598.0" width="3.05" height="2.05" fill="#00ff99"/><rect x="274.0" y="598.0" width="1.55" height="2.05" fill="#00f1ec"/><rect x="275.5" y="598.0" width="1.55" height="2.05" fill="#00ff99"/><rect x="277.0" y="598.0" width="1.55" height="2.05" fill="#00ff3e"/><rect x="278.5" y="598.0" width="1.55" height="2.05" fill="#06ff00"/><rect x="280.0" y="598.0" width="1.55" height="2.05" fill="#19ff00"/><rect x="281.5" y="598.0" width="1.55" height="2.05" fill="#d7ff00"/><rect x="283.0" y="598.0" width="1.55" height="2.05" fill="#ffff00"/><rect x="284.5" y="598.0" width="1.55" height="2.05" fill="#ff1300"/><rect x="286.0" y="598.0" width="1.55" height="2.05" fill="#ff0600"/><rect x="287.5" y="598.0" width="1.55" height="2.05" fill="#ff1300"/><rect x="289.0" y="598.0" width="1.55" height="2.05" fill="#ffe200"/><rect x="290.5" y="598.0" width="1.55" height="2.05" fill="#b0ff00"/><rect x="292.0" y="598.0" width="1.55" height="2.05" fill="#64ff00"/><rect x="293.5" y="598.0" width="1.55" height="2.05" fill="#00ff00"/><rect x="295.0" y="598.0" width="3.05" height="2.05" fill="#00ff3e"/><rect x="298.0" y="598.0" width="1.55" height="2.05" fill="#00f8d5"/><rect x="299.5" y="598.0" width="1.55" height="2.05" fill="#00ffbe"/><rect x="301.0" y="598.0" width="1.55" height="2.05" fill="#00ff00"/><rect x="302.5" y="598.0" width="1.55" height="2.05" fill="#3eff00"/><rect x="304.0" y="598.0" width="1.55" height="2.05" fill="#d7ff00"/><rect x="305.5" y="598.0" width="1.55" height="2.05" fill="#ffff00"/><rect x="307.0" y="598.0" width="1.55" height="2.05" fill="#19ff00"/><rect x="308.5" y="598.0" width="1.55" height="2.05" fill="#00ff3e"/><rect x="310.0" y="598.0" width="1.55" height="2.05" fill="#00f8d5"/><rect x="311.5" y="598.0" width="1.55" height="2.05" fill="#00f1ec"/><rect x="314.5" y="598.0" width="3.05" height="2.05" fill="#00ff99"/><rect x="317.5" y="598.0" width="3.05" height="2.05" fill="#00f8d5"/><rect x="320.5" y="598.0" width="1.55" height="2.05" fill="#00f1ec"/><rect x="322.0" y="598.0" width="1.55" height="2.05" fill="#00ffbe"/><rect x="323.5" y="598.0" width="1.55" height="2.05" fill="#00ff99"/><rect x="325.0" y="598.0" width="1.55" height="2.05" fill="#00f8d5"/><rect x="326.5" y="598.0" width="1.55" height="2.05" fill="#00ff73"/><rect x="328.0" y="598.0" width="1.55" height="2.05" fill="#00f8d5"/><rect x="329.5" y="598.0" width="1.55" height="2.05" fill="#00ff73"/><rect x="331.0" y="598.0" width="1.55" height="2.05" fill="#00f8d5"/><rect x="332.5" y="598.0" width="3.05" height="2.05" fill="#00f1ec"/><rect x="335.5" y="598.0" width="1.55" height="2.05" fill="#00f8d5"/><rect x="337.0" y="598.0" width="3.05" height="2.05" fill="#00ffbe"/><rect x="340.0" y="598.0" width="1.55" height="2.05" fill="#00f8d5"/><rect x="341.5" y="598.0" width="1.55" height="2.05" fill="#00ffbe"/><rect x="343.0" y="598.0" width="1.55" height="2.05" fill="#00f8d5"/><rect x="344.5" y="598.0" width="3.05" height="2.05" fill="#00ffbe"/><rect x="347.5" y="598.0" width="1.55" height="2.05" fill="#00ff99"/><rect x="350.5" y="598.0" width="1.55" height="2.05" fill="#00f1ec"/><rect x="268.0" y="600.0" width="1.55" height="2.05" fill="#00f1ec"/><rect x="269.5" y="600.0" width="3.05" height="2.05" fill="#00f8d5"/><rect x="272.5" y="600.0" width="1.55" height="2.05" fill="#00f1ec"/><rect x="274.0" y="600.0" width="1.55" height="2.05" fill="#00ffbe"/><rect x="275.5" y="600.0" width="3.05" height="2.05" fill="#00f8d5"/><rect x="278.5" y="600.0" width="1.55" height="2.05" fill="#00ff3e"/><rect x="280.0" y="600.0" width="1.55" height="2.05" fill="#19ff00"/><rect x="281.5" y="600.0" width="3.05" height="2.05" fill="#b0ff00"/><rect x="284.5" y="600.0" width="1.55" height="2.05" fill="#ffe200"/><rect x="286.0" y="600.0" width="1.55" height="2.05" fill="#ffc500"/><rect x="287.5" y="600.0" width="1.55" height="2.05" fill="#ff5d00"/><rect x="289.0" y="600.0" width="1.55" height="2.05" fill="#ffe200"/><rect x="290.5" y="600.0" width="1.55" height="2.05" fill="#ffc500"/><rect x="292.0" y="600.0" width="1.55" height="2.05" fill="#d7ff00"/><rect x="293.5" y="600.0" width="1.55" height="2.05" fill="#8aff00"/><rect x="295.0" y="600.0" width="4.55" height="2.05" fill="#06ff00"/><rect x="299.5" y="600.0" width="1.55" height="2.05" fill="#00ff99"/><rect x="301.0" y="600.0" width="1.55" height="2.05" fill="#00ff3e"/><rect x="302.5" y="600.0" width="1.55" height="2.05" fill="#06ff00"/><rect x="304.0" y="600.0" width="1.55" height="2.05" fill="#8aff00"/><rect x="305.5" y="600.0" width="3.05" height="2.05" fill="#ffff00"/><rect x="308.5" y="600.0" width="1.55" height="2.05" fill="#3eff00"/><rect x="310.0" y="600.0" width="3.05" height="2.05" fill="#00ff99"/><rect x="313.0" y="600.0" width="4.55" height="2.05" fill="#00ffbe"/><rect x="317.5" y="600.0" width="1.55" height="2.05" fill="#00f8d5"/><rect x="319.0" y="600.0" width="1.55" height="2.05" fill="#00ff99"/><rect x="320.5" y="600.0" width="1.55" height="2.05" fill="#00ffbe"/><rect x="322.0" y="600.0" width="1.55" height="2.05" fill="#00f1ec"/><rect x="323.5" y="600.0" width="3.05" height="2.05" fill="#00ffbe"/><rect x="326.5" y="600.0" width="1.55" height="2.05" fill="#00f8d5"/><rect x="328.0" y="600.0" width="1.55" height="2.05" fill="#00f1ec"/><rect x="329.5" y="600.0" width="3.05" height="2.05" fill="#00ff99"/><rect x="332.5" y="600.0" width="6.05" height="2.05" fill="#00f8d5"/><rect x="338.5" y="600.0" width="1.55" height="2.05" fill="#00ffbe"/><rect x="340.0" y="600.0" width="1.55" height="2.05" fill="#00f8d5"/><rect x="341.5" y="600.0" width="4.55" height="2.05" fill="#00ffbe"/><rect x="346.0" y="600.0" width="1.55" height="2.05" fill="#00ff73"/><rect x="347.5" y="600.0" width="1.55" height="2.05" fill="#00ff99"/><rect x="349.0" y="600.0" width="1.55" height="2.05" fill="#00e5ff"/><rect x="350.5" y="600.0" width="1.55" height="2.05" fill="#00ff99"/><rect x="352.0" y="600.0" width="4.55" height="2.05" fill="#00f1ec"/><rect x="362.5" y="600.0" width="1.55" height="2.05" fill="#00e5ff"/><rect x="364.0" y="600.0" width="1.55" height="2.05" fill="#00f8d5"/><rect x="269.5" y="602.0" width="1.55" height="2.05" fill="#00ffbe"/><rect x="271.0" y="602.0" width="1.55" height="2.05" fill="#00f1ec"/><rect x="272.5" y="602.0" width="3.05" height="2.05" fill="#00f8d5"/><rect x="275.5" y="602.0" width="1.55" height="2.05" fill="#00f1ec"/><rect x="277.0" y="602.0" width="1.55" height="2.05" fill="#00f8d5"/><rect x="278.5" y="602.0" width="1.55" height="2.05" fill="#00ffbe"/><rect x="280.0" y="602.0" width="1.55" height="2.05" fill="#00ff73"/><rect x="281.5" y="602.0" width="1.55" height="2.05" fill="#00ff00"/><rect x="283.0" y="602.0" width="1.55" height="2.05" fill="#64ff00"/><rect x="284.5" y="602.0" width="1.55" height="2.05" fill="#ffff00"/><rect x="286.0" y="602.0" width="1.55" height="2.05" fill="#8aff00"/><rect x="287.5" y="602.0" width="1.55" height="2.05" fill="#ffc500"/><rect x="289.0" y="602.0" width="1.55" height="2.05" fill="#ffa800"/><rect x="290.5" y="602.0" width="1.55" height="2.05" fill="#ff5d00"/><rect x="292.0" y="602.0" width="1.55" height="2.05" fill="#d7ff00"/><rect x="293.5" y="602.0" width="1.55" height="2.05" fill="#8aff00"/><rect x="295.0" y="602.0" width="1.55" height="2.05" fill="#b0ff00"/><rect x="296.5" y="602.0" width="1.55" height="2.05" fill="#64ff00"/><rect x="298.0" y="602.0" width="3.05" height="2.05" fill="#19ff00"/><rect x="301.0" y="602.0" width="1.55" height="2.05" fill="#06ff00"/><rect x="302.5" y="602.0" width="1.55" height="2.05" fill="#00ff00"/><rect x="304.0" y="602.0" width="1.55" height="2.05" fill="#00ff3e"/><rect x="305.5" y="602.0" width="1.55" height="2.05" fill="#3eff00"/><rect x="307.0" y="602.0" width="1.55" height="2.05" fill="#19ff00"/><rect x="308.5" y="602.0" width="1.55" height="2.05" fill="#00ff3e"/><rect x="310.0" y="602.0" width="1.55" height="2.05" fill="#00ff00"/><rect x="311.5" y="602.0" width="1.55" height="2.05" fill="#00ff73"/><rect x="313.0" y="602.0" width="1.55" height="2.05" fill="#00ff3e"/><rect x="314.5" y="602.0" width="1.55" height="2.05" fill="#00ff99"/><rect x="316.0" y="602.0" width="1.55" height="2.05" fill="#00ff3e"/><rect x="317.5" y="602.0" width="1.55" height="2.05" fill="#00ff73"/><rect x="319.0" y="602.0" width="1.55" height="2.05" fill="#00ff99"/><rect x="320.5" y="602.0" width="1.55" height="2.05" fill="#00ffbe"/><rect x="322.0" y="602.0" width="1.55" height="2.05" fill="#00ff3e"/><rect x="323.5" y="602.0" width="1.55" height="2.05" fill="#00ffbe"/><rect x="325.0" y="602.0" width="1.55" height="2.05" fill="#00ff99"/><rect x="326.5" y="602.0" width="3.05" height="2.05" fill="#00ff73"/><rect x="329.5" y="602.0" width="1.55" height="2.05" fill="#00f8d5"/><rect x="331.0" y="602.0" width="1.55" height="2.05" fill="#00ffbe"/><rect x="332.5" y="602.0" width="1.55" height="2.05" fill="#00ff73"/><rect x="334.0" y="602.0" width="1.55" height="2.05" fill="#00ffbe"/><rect x="335.5" y="602.0" width="1.55" height="2.05" fill="#00f1ec"/><rect x="337.0" y="602.0" width="1.55" height="2.05" fill="#00ffbe"/><rect x="338.5" y="602.0" width="1.55" height="2.05" fill="#00f8d5"/><rect x="340.0" y="602.0" width="1.55" height="2.05" fill="#00ffbe"/><rect x="341.5" y="602.0" width="1.55" height="2.05" fill="#00f8d5"/><rect x="343.0" y="602.0" width="1.55" height="2.05" fill="#00f1ec"/><rect x="344.5" y="602.0" width="1.55" height="2.05" fill="#00ffbe"/><rect x="346.0" y="602.0" width="1.55" height="2.05" fill="#00ff73"/><rect x="347.5" y="602.0" width="3.05" height="2.05" fill="#00ffbe"/><rect x="350.5" y="602.0" width="1.55" height="2.05" fill="#00f1ec"/><rect x="352.0" y="602.0" width="1.55" height="2.05" fill="#00ff99"/><rect x="353.5" y="602.0" width="1.55" height="2.05" fill="#00f1ec"/><rect x="355.0" y="602.0" width="1.55" height="2.05" fill="#00f8d5"/><rect x="356.5" y="602.0" width="1.55" height="2.05" fill="#00f1ec"/><rect x="358.0" y="602.0" width="1.55" height="2.05" fill="#00ffbe"/><rect x="361.0" y="602.0" width="1.55" height="2.05" fill="#00e5ff"/><rect x="362.5" y="602.0" width="1.55" height="2.05" fill="#00f1ec"/><rect x="364.0" y="602.0" width="1.55" height="2.05" fill="#00e5ff"/><rect x="371.5" y="602.0" width="1.55" height="2.05" fill="#00f1ec"/><rect x="376.0" y="602.0" width="1.55" height="2.05" fill="#00f1ec"/><rect x="271.0" y="604.0" width="3.05" height="2.05" fill="#00f1ec"/><rect x="275.5" y="604.0" width="1.55" height="2.05" fill="#00ff99"/><rect x="277.0" y="604.0" width="1.55" height="2.05" fill="#00f8d5"/><rect x="278.5" y="604.0" width="1.55" height="2.05" fill="#00ffbe"/><rect x="280.0" y="604.0" width="1.55" height="2.05" fill="#00f8d5"/><rect x="281.5" y="604.0" width="1.55" height="2.05" fill="#00ff73"/><rect x="283.0" y="604.0" width="1.55" height="2.05" fill="#00ff00"/><rect x="284.5" y="604.0" width="1.55" height="2.05" fill="#19ff00"/><rect x="286.0" y="604.0" width="1.55" height="2.05" fill="#64ff00"/><rect x="287.5" y="604.0" width="1.55" height="2.05" fill="#ffff00"/><rect x="289.0" y="604.0" width="1.55" height="2.05" fill="#ffa800"/><rect x="290.5" y="604.0" width="1.55" height="2.05" fill="#ff8600"/><rect x="292.0" y="604.0" width="1.55" height="2.05" fill="#ffa800"/><rect x="293.5" y="604.0" width="1.55" height="2.05" fill="#ffe200"/><rect x="295.0" y="604.0" width="1.55" height="2.05" fill="#d7ff00"/><rect x="296.5" y="604.0" width="1.55" height="2.05" fill="#8aff00"/><rect x="298.0" y="604.0" width="1.55" height="2.05" fill="#3eff00"/><rect x="299.5" y="604.0" width="1.55" height="2.05" fill="#19ff00"/><rect x="301.0" y="604.0" width="1.55" height="2.05" fill="#06ff00"/><rect x="302.5" y="604.0" width="1.55" height="2.05" fill="#3eff00"/><rect x="304.0" y="604.0" width="3.05" height="2.05" fill="#00ff00"/><rect x="307.0" y="604.0" width="1.55" height="2.05" fill="#06ff00"/><rect x="308.5" y="604.0" width="1.55" height="2.05" fill="#19ff00"/><rect x="310.0" y="604.0" width="1.55" height="2.05" fill="#06ff00"/><rect x="311.5" y="604.0" width="1.55" height="2.05" fill="#00ff00"/><rect x="313.0" y="604.0" width="1.55" height="2.05" fill="#00ff3e"/><rect x="314.5" y="604.0" width="1.55" height="2.05" fill="#00ff00"/><rect x="316.0" y="604.0" width="1.55" height="2.05" fill="#06ff00"/><rect x="317.5" y="604.0" width="1.55" height="2.05" fill="#00ff73"/><rect x="319.0" y="604.0" width="1.55" height="2.05" fill="#00ff00"/><rect x="320.5" y="604.0" width="1.55" height="2.05" fill="#00ff73"/><rect x="322.0" y="604.0" width="1.55" height="2.05" fill="#00ff3e"/><rect x="323.5" y="604.0" width="1.55" height="2.05" fill="#00ff99"/><rect x="325.0" y="604.0" width="1.55" height="2.05" fill="#06ff00"/><rect x="326.5" y="604.0" width="1.55" height="2.05" fill="#00ff00"/><rect x="328.0" y="604.0" width="1.55" height="2.05" fill="#00ff99"/><rect x="329.5" y="604.0" width="1.55" height="2.05" fill="#00ff3e"/><rect x="331.0" y="604.0" width="1.55" height="2.05" fill="#00ff99"/><rect x="332.5" y="604.0" width="1.55" height="2.05" fill="#00ffbe"/><rect x="334.0" y="604.0" width="1.55" height="2.05" fill="#00ff00"/><rect x="335.5" y="604.0" width="1.55" height="2.05" fill="#00ff99"/><rect x="337.0" y="604.0" width="1.55" height="2.05" fill="#00ff00"/><rect x="338.5" y="604.0" width="1.55" height="2.05" fill="#00ffbe"/><rect x="340.0" y="604.0" width="1.55" height="2.05" fill="#00f8d5"/><rect x="341.5" y="604.0" width="1.55" height="2.05" fill="#00ff99"/><rect x="343.0" y="604.0" width="1.55" height="2.05" fill="#00ff73"/><rect x="344.5" y="604.0" width="1.55" height="2.05" fill="#00ffbe"/><rect x="346.0" y="604.0" width="1.55" height="2.05" fill="#00ff73"/><rect x="347.5" y="604.0" width="1.55" height="2.05" fill="#00ff99"/><rect x="349.0" y="604.0" width="3.05" height="2.05" fill="#00ffbe"/><rect x="352.0" y="604.0" width="1.55" height="2.05" fill="#00ff73"/><rect x="353.5" y="604.0" width="1.55" height="2.05" fill="#00ff99"/><rect x="355.0" y="604.0" width="1.55" height="2.05" fill="#00ffbe"/><rect x="356.5" y="604.0" width="1.55" height="2.05" fill="#00f8d5"/><rect x="358.0" y="604.0" width="1.55" height="2.05" fill="#00ffbe"/><rect x="359.5" y="604.0" width="3.05" height="2.05" fill="#00f1ec"/><rect x="362.5" y="604.0" width="1.55" height="2.05" fill="#00ffbe"/><rect x="364.0" y="604.0" width="3.05" height="2.05" fill="#00f8d5"/><rect x="367.0" y="604.0" width="1.55" height="2.05" fill="#00f1ec"/><rect x="373.0" y="604.0" width="4.55" height="2.05" fill="#00f1ec"/><rect x="274.0" y="606.0" width="1.55" height="2.05" fill="#00ffbe"/><rect x="275.5" y="606.0" width="1.55" height="2.05" fill="#00ff99"/><rect x="277.0" y="606.0" width="6.05" height="2.05" fill="#00ffbe"/><rect x="283.0" y="606.0" width="1.55" height="2.05" fill="#00ff99"/><rect x="284.5" y="606.0" width="1.55" height="2.05" fill="#00ff3e"/><rect x="286.0" y="606.0" width="1.55" height="2.05" fill="#3eff00"/><rect x="287.5" y="606.0" width="1.55" height="2.05" fill="#8aff00"/><rect x="289.0" y="606.0" width="1.55" height="2.05" fill="#64ff00"/><rect x="290.5" y="606.0" width="3.05" height="2.05" fill="#b0ff00"/><rect x="293.5" y="606.0" width="1.55" height="2.05" fill="#d7ff00"/><rect x="295.0" y="606.0" width="1.55" height="2.05" fill="#b0ff00"/><rect x="296.5" y="606.0" width="1.55" height="2.05" fill="#64ff00"/><rect x="298.0" y="606.0" width="1.55" height="2.05" fill="#19ff00"/><rect x="299.5" y="606.0" width="1.55" height="2.05" fill="#8aff00"/><rect x="301.0" y="606.0" width="1.55" height="2.05" fill="#00ff00"/><rect x="302.5" y="606.0" width="4.55" height="2.05" fill="#3eff00"/><rect x="307.0" y="606.0" width="1.55" height="2.05" fill="#19ff00"/><rect x="308.5" y="606.0" width="1.55" height="2.05" fill="#06ff00"/><rect x="310.0" y="606.0" width="1.55" height="2.05" fill="#8aff00"/><rect x="311.5" y="606.0" width="3.05" height="2.05" fill="#19ff00"/><rect x="314.5" y="606.0" width="1.55" height="2.05" fill="#06ff00"/><rect x="316.0" y="606.0" width="4.55" height="2.05" fill="#00ff00"/><rect x="320.5" y="606.0" width="1.55" height="2.05" fill="#06ff00"/><rect x="322.0" y="606.0" width="1.55" height="2.05" fill="#19ff00"/><rect x="323.5" y="606.0" width="1.55" height="2.05" fill="#00ff3e"/><rect x="325.0" y="606.0" width="1.55" height="2.05" fill="#06ff00"/><rect x="326.5" y="606.0" width="1.55" height="2.05" fill="#00ff3e"/><rect x="328.0" y="606.0" width="4.55" height="2.05" fill="#00ff00"/><rect x="332.5" y="606.0" width="1.55" height="2.05" fill="#06ff00"/><rect x="334.0" y="606.0" width="1.55" height="2.05" fill="#00ff00"/><rect x="335.5" y="606.0" width="3.05" height="2.05" fill="#00ff3e"/><rect x="338.5" y="606.0" width="1.55" height="2.05" fill="#06ff00"/><rect x="340.0" y="606.0" width="1.55" height="2.05" fill="#00ff3e"/><rect x="341.5" y="606.0" width="3.05" height="2.05" fill="#00ff73"/><rect x="344.5" y="606.0" width="1.55" height="2.05" fill="#00ff3e"/><rect x="346.0" y="606.0" width="1.55" height="2.05" fill="#00ffbe"/><rect x="347.5" y="606.0" width="3.05" height="2.05" fill="#00ff73"/><rect x="350.5" y="606.0" width="1.55" height="2.05" fill="#00ffbe"/><rect x="352.0" y="606.0" width="1.55" height="2.05" fill="#00f8d5"/><rect x="353.5" y="606.0" width="1.55" height="2.05" fill="#00ff99"/><rect x="355.0" y="606.0" width="1.55" height="2.05" fill="#00ff73"/><rect x="356.5" y="606.0" width="1.55" height="2.05" fill="#00ffbe"/><rect x="358.0" y="606.0" width="3.05" height="2.05" fill="#00ff99"/><rect x="361.0" y="606.0" width="1.55" height="2.05" fill="#00f8d5"/><rect x="362.5" y="606.0" width="3.05" height="2.05" fill="#00f1ec"/><rect x="365.5" y="606.0" width="1.55" height="2.05" fill="#00ff99"/><rect x="367.0" y="606.0" width="1.55" height="2.05" fill="#00f1ec"/><rect x="368.5" y="606.0" width="1.55" height="2.05" fill="#00ffbe"/><rect x="370.0" y="606.0" width="1.55" height="2.05" fill="#00f8d5"/><rect x="371.5" y="606.0" width="1.55" height="2.05" fill="#00ffbe"/><rect x="373.0" y="606.0" width="1.55" height="2.05" fill="#00f1ec"/><rect x="374.5" y="606.0" width="1.55" height="2.05" fill="#00ffbe"/><rect x="376.0" y="606.0" width="1.55" height="2.05" fill="#00f1ec"/><rect x="275.5" y="608.0" width="1.55" height="2.05" fill="#00f1ec"/><rect x="277.0" y="608.0" width="3.05" height="2.05" fill="#00f8d5"/><rect x="280.0" y="608.0" width="1.55" height="2.05" fill="#00ffbe"/><rect x="281.5" y="608.0" width="1.55" height="2.05" fill="#00f1ec"/><rect x="283.0" y="608.0" width="1.55" height="2.05" fill="#00ffbe"/><rect x="284.5" y="608.0" width="1.55" height="2.05" fill="#00ff99"/><rect x="286.0" y="608.0" width="1.55" height="2.05" fill="#00ff3e"/><rect x="287.5" y="608.0" width="1.55" height="2.05" fill="#00ff00"/><rect x="289.0" y="608.0" width="1.55" height="2.05" fill="#06ff00"/><rect x="290.5" y="608.0" width="3.05" height="2.05" fill="#3eff00"/><rect x="293.5" y="608.0" width="3.05" height="2.05" fill="#b0ff00"/><rect x="296.5" y="608.0" width="1.55" height="2.05" fill="#64ff00"/><rect x="298.0" y="608.0" width="1.55" height="2.05" fill="#d7ff00"/><rect x="299.5" y="608.0" width="3.05" height="2.05" fill="#64ff00"/><rect x="302.5" y="608.0" width="7.55" height="2.05" fill="#06ff00"/><rect x="310.0" y="608.0" width="3.05" height="2.05" fill="#3eff00"/><rect x="313.0" y="608.0" width="1.55" height="2.05" fill="#19ff00"/><rect x="314.5" y="608.0" width="1.55" height="2.05" fill="#64ff00"/><rect x="316.0" y="608.0" width="1.55" height="2.05" fill="#00ff00"/><rect x="317.5" y="608.0" width="1.55" height="2.05" fill="#19ff00"/><rect x="319.0" y="608.0" width="1.55" height="2.05" fill="#00ff3e"/><rect x="320.5" y="608.0" width="1.55" height="2.05" fill="#06ff00"/><rect x="322.0" y="608.0" width="1.55" height="2.05" fill="#19ff00"/><rect x="323.5" y="608.0" width="9.05" height="2.05" fill="#06ff00"/><rect x="332.5" y="608.0" width="1.55" height="2.05" fill="#00ff3e"/><rect x="334.0" y="608.0" width="1.55" height="2.05" fill="#06ff00"/><rect x="335.5" y="608.0" width="1.55" height="2.05" fill="#00ff00"/><rect x="337.0" y="608.0" width="1.55" height="2.05" fill="#00ff3e"/><rect x="338.5" y="608.0" width="1.55" height="2.05" fill="#00ff99"/><rect x="340.0" y="608.0" width="1.55" height="2.05" fill="#00ff00"/><rect x="341.5" y="608.0" width="1.55" height="2.05" fill="#00ff99"/><rect x="343.0" y="608.0" width="1.55" height="2.05" fill="#00ff00"/><rect x="344.5" y="608.0" width="1.55" height="2.05" fill="#06ff00"/><rect x="346.0" y="608.0" width="3.05" height="2.05" fill="#00ff73"/><rect x="349.0" y="608.0" width="1.55" height="2.05" fill="#00ff00"/><rect x="350.5" y="608.0" width="1.55" height="2.05" fill="#00ff3e"/><rect x="352.0" y="608.0" width="1.55" height="2.05" fill="#00ff99"/><rect x="353.5" y="608.0" width="3.05" height="2.05" fill="#00ff3e"/><rect x="356.5" y="608.0" width="1.55" height="2.05" fill="#00ff99"/><rect x="358.0" y="608.0" width="1.55" height="2.05" fill="#00ffbe"/><rect x="359.5" y="608.0" width="1.55" height="2.05" fill="#00ff73"/><rect x="361.0" y="608.0" width="1.55" height="2.05" fill="#00ffbe"/><rect x="362.5" y="608.0" width="1.55" height="2.05" fill="#00ff99"/><rect x="364.0" y="608.0" width="1.55" height="2.05" fill="#00ffbe"/><rect x="365.5" y="608.0" width="3.05" height="2.05" fill="#00f8d5"/><rect x="368.5" y="608.0" width="1.55" height="2.05" fill="#00ffbe"/><rect x="370.0" y="608.0" width="1.55" height="2.05" fill="#00f1ec"/><rect x="371.5" y="608.0" width="1.55" height="2.05" fill="#00f8d5"/><rect x="373.0" y="608.0" width="1.55" height="2.05" fill="#00ffbe"/><rect x="275.5" y="610.0" width="3.05" height="2.05" fill="#00f1ec"/><rect x="278.5" y="610.0" width="1.55" height="2.05" fill="#00ff99"/><rect x="280.0" y="610.0" width="1.55" height="2.05" fill="#00ff73"/><rect x="283.0" y="610.0" width="1.55" height="2.05" fill="#00ff99"/><rect x="284.5" y="610.0" width="1.55" height="2.05" fill="#00f8d5"/><rect x="286.0" y="610.0" width="1.55" height="2.05" fill="#00f1ec"/><rect x="287.5" y="610.0" width="1.55" height="2.05" fill="#00ff99"/><rect x="289.0" y="610.0" width="3.05" height="2.05" fill="#00ff73"/><rect x="292.0" y="610.0" width="1.55" height="2.05" fill="#00ff00"/><rect x="293.5" y="610.0" width="1.55" height="2.05" fill="#19ff00"/><rect x="295.0" y="610.0" width="3.05" height="2.05" fill="#3eff00"/><rect x="298.0" y="610.0" width="1.55" height="2.05" fill="#19ff00"/><rect x="299.5" y="610.0" width="1.55" height="2.05" fill="#3eff00"/><rect x="301.0" y="610.0" width="1.55" height="2.05" fill="#00ff00"/><rect x="302.5" y="610.0" width="1.55" height="2.05" fill="#00ff3e"/><rect x="304.0" y="610.0" width="1.55" height="2.05" fill="#06ff00"/><rect x="305.5" y="610.0" width="3.05" height="2.05" fill="#00ff00"/><rect x="308.5" y="610.0" width="1.55" height="2.05" fill="#00ff73"/><rect x="310.0" y="610.0" width="3.05" height="2.05" fill="#19ff00"/><rect x="313.0" y="610.0" width="3.05" height="2.05" fill="#00ff3e"/><rect x="316.0" y="610.0" width="3.05" height="2.05" fill="#06ff00"/><rect x="319.0" y="610.0" width="3.05" height="2.05" fill="#00ff00"/><rect x="322.0" y="610.0" width="1.55" height="2.05" fill="#06ff00"/><rect x="323.5" y="610.0" width="1.55" height="2.05" fill="#00ff00"/><rect x="325.0" y="610.0" width="1.55" height="2.05" fill="#06ff00"/><rect x="326.5" y="610.0" width="1.55" height="2.05" fill="#00ff00"/><rect x="328.0" y="610.0" width="9.05" height="2.05" fill="#00ff3e"/><rect x="337.0" y="610.0" width="1.55" height="2.05" fill="#00ff00"/><rect x="338.5" y="610.0" width="1.55" height="2.05" fill="#00ff3e"/><rect x="340.0" y="610.0" width="1.55" height="2.05" fill="#00ff73"/><rect x="341.5" y="610.0" width="1.55" height="2.05" fill="#00ff3e"/><rect x="343.0" y="610.0" width="1.55" height="2.05" fill="#06ff00"/><rect x="344.5" y="610.0" width="1.55" height="2.05" fill="#00ff73"/><rect x="346.0" y="610.0" width="1.55" height="2.05" fill="#00ff3e"/><rect x="347.5" y="610.0" width="1.55" height="2.05" fill="#00ff73"/><rect x="349.0" y="610.0" width="3.05" height="2.05" fill="#00ff99"/><rect x="352.0" y="610.0" width="1.55" height="2.05" fill="#00ff3e"/><rect x="353.5" y="610.0" width="1.55" height="2.05" fill="#00f8d5"/><rect x="355.0" y="610.0" width="1.55" height="2.05" fill="#00ff99"/><rect x="356.5" y="610.0" width="1.55" height="2.05" fill="#00ffbe"/><rect x="358.0" y="610.0" width="1.55" height="2.05" fill="#00ff3e"/><rect x="359.5" y="610.0" width="1.55" height="2.05" fill="#00ff99"/><rect x="361.0" y="610.0" width="1.55" height="2.05" fill="#00f8d5"/><rect x="362.5" y="610.0" width="1.55" height="2.05" fill="#00ff99"/><rect x="364.0" y="610.0" width="1.55" height="2.05" fill="#00ffbe"/><rect x="367.0" y="610.0" width="1.55" height="2.05" fill="#00f8d5"/><rect x="368.5" y="610.0" width="1.55" height="2.05" fill="#00f1ec"/><rect x="370.0" y="610.0" width="1.55" height="2.05" fill="#00f8d5"/><rect x="374.5" y="610.0" width="1.55" height="2.05" fill="#00f8d5"/><rect x="377.5" y="610.0" width="1.55" height="2.05" fill="#00e5ff"/><rect x="275.5" y="612.0" width="1.55" height="2.05" fill="#00f1ec"/><rect x="278.5" y="612.0" width="1.55" height="2.05" fill="#00f8d5"/><rect x="280.0" y="612.0" width="1.55" height="2.05" fill="#00ff73"/><rect x="281.5" y="612.0" width="1.55" height="2.05" fill="#00ff99"/><rect x="283.0" y="612.0" width="1.55" height="2.05" fill="#00f8d5"/><rect x="284.5" y="612.0" width="1.55" height="2.05" fill="#00ff73"/><rect x="286.0" y="612.0" width="3.05" height="2.05" fill="#00ffbe"/><rect x="289.0" y="612.0" width="1.55" height="2.05" fill="#00ff73"/><rect x="290.5" y="612.0" width="1.55" height="2.05" fill="#00f1ec"/><rect x="292.0" y="612.0" width="1.55" height="2.05" fill="#00ff73"/><rect x="293.5" y="612.0" width="1.55" height="2.05" fill="#00ff3e"/><rect x="295.0" y="612.0" width="1.55" height="2.05" fill="#06ff00"/><rect x="296.5" y="612.0" width="1.55" height="2.05" fill="#00ff00"/><rect x="298.0" y="612.0" width="1.55" height="2.05" fill="#06ff00"/><rect x="299.5" y="612.0" width="1.55" height="2.05" fill="#00ff00"/><rect x="301.0" y="612.0" width="1.55" height="2.05" fill="#00ff73"/><rect x="302.5" y="612.0" width="1.55" height="2.05" fill="#00ff99"/><rect x="304.0" y="612.0" width="1.55" height="2.05" fill="#00ff3e"/><rect x="305.5" y="612.0" width="1.55" height="2.05" fill="#00ff73"/><rect x="307.0" y="612.0" width="1.55" height="2.05" fill="#00ff00"/><rect x="308.5" y="612.0" width="6.05" height="2.05" fill="#00ff3e"/><rect x="314.5" y="612.0" width="1.55" height="2.05" fill="#00ff00"/><rect x="316.0" y="612.0" width="1.55" height="2.05" fill="#00ff3e"/><rect x="317.5" y="612.0" width="1.55" height="2.05" fill="#00ff00"/><rect x="319.0" y="612.0" width="1.55" height="2.05" fill="#00ff3e"/><rect x="320.5" y="612.0" width="1.55" height="2.05" fill="#19ff00"/><rect x="322.0" y="612.0" width="1.55" height="2.05" fill="#00ff3e"/><rect x="323.5" y="612.0" width="1.55" height="2.05" fill="#00ff73"/><rect x="325.0" y="612.0" width="3.05" height="2.05" fill="#00ff00"/><rect x="328.0" y="612.0" width="3.05" height="2.05" fill="#00ff3e"/><rect x="331.0" y="612.0" width="1.55" height="2.05" fill="#06ff00"/><rect x="332.5" y="612.0" width="1.55" height="2.05" fill="#19ff00"/><rect x="334.0" y="612.0" width="1.55" height="2.05" fill="#00ff73"/><rect x="335.5" y="612.0" width="1.55" height="2.05" fill="#06ff00"/><rect x="337.0" y="612.0" width="3.05" height="2.05" fill="#00ff3e"/><rect x="340.0" y="612.0" width="1.55" height="2.05" fill="#00ff00"/><rect x="341.5" y="612.0" width="1.55" height="2.05" fill="#00ff3e"/><rect x="343.0" y="612.0" width="1.55" height="2.05" fill="#00ff00"/><rect x="344.5" y="612.0" width="3.05" height="2.05" fill="#00ff99"/><rect x="347.5" y="612.0" width="1.55" height="2.05" fill="#00ff3e"/><rect x="349.0" y="612.0" width="1.55" height="2.05" fill="#00ffbe"/><rect x="350.5" y="612.0" width="1.55" height="2.05" fill="#00ff73"/><rect x="352.0" y="612.0" width="1.55" height="2.05" fill="#00ff99"/><rect x="353.5" y="612.0" width="1.55" height="2.05" fill="#00ff73"/><rect x="355.0" y="612.0" width="1.55" height="2.05" fill="#00ffbe"/><rect x="356.5" y="612.0" width="1.55" height="2.05" fill="#00f8d5"/><rect x="358.0" y="612.0" width="1.55" height="2.05" fill="#00ffbe"/><rect x="359.5" y="612.0" width="3.05" height="2.05" fill="#00ff99"/><rect x="362.5" y="612.0" width="3.05" height="2.05" fill="#00ffbe"/><rect x="365.5" y="612.0" width="3.05" height="2.05" fill="#00f1ec"/><rect x="368.5" y="612.0" width="1.55" height="2.05" fill="#00ffbe"/><rect x="370.0" y="612.0" width="1.55" height="2.05" fill="#00e5ff"/><rect x="371.5" y="612.0" width="1.55" height="2.05" fill="#00f1ec"/><rect x="376.0" y="612.0" width="1.55" height="2.05" fill="#00f1ec"/><rect x="278.5" y="614.0" width="3.05" height="2.05" fill="#00ffbe"/><rect x="281.5" y="614.0" width="1.55" height="2.05" fill="#00f8d5"/><rect x="284.5" y="614.0" width="1.55" height="2.05" fill="#00f1ec"/><rect x="286.0" y="614.0" width="1.55" height="2.05" fill="#00ffbe"/><rect x="287.5" y="614.0" width="1.55" height="2.05" fill="#00ff99"/><rect x="289.0" y="614.0" width="1.55" height="2.05" fill="#00f8d5"/><rect x="290.5" y="614.0" width="1.55" height="2.05" fill="#00ffbe"/><rect x="292.0" y="614.0" width="1.55" height="2.05" fill="#00f8d5"/><rect x="293.5" y="614.0" width="1.55" height="2.05" fill="#00f1ec"/><rect x="295.0" y="614.0" width="1.55" height="2.05" fill="#00ff99"/><rect x="296.5" y="614.0" width="1.55" height="2.05" fill="#00ffbe"/><rect x="298.0" y="614.0" width="1.55" height="2.05" fill="#00f8d5"/><rect x="299.5" y="614.0" width="1.55" height="2.05" fill="#00e5ff"/><rect x="301.0" y="614.0" width="1.55" height="2.05" fill="#00f1ec"/><rect x="302.5" y="614.0" width="1.55" height="2.05" fill="#00ffbe"/><rect x="304.0" y="614.0" width="3.05" height="2.05" fill="#00ff99"/><rect x="307.0" y="614.0" width="1.55" height="2.05" fill="#00ffbe"/><rect x="308.5" y="614.0" width="1.55" height="2.05" fill="#00ff99"/><rect x="310.0" y="614.0" width="3.05" height="2.05" fill="#00ff73"/><rect x="313.0" y="614.0" width="4.55" height="2.05" fill="#00ffbe"/><rect x="317.5" y="614.0" width="1.55" height="2.05" fill="#00ff99"/><rect x="319.0" y="614.0" width="1.55" height="2.05" fill="#00ff73"/><rect x="320.5" y="614.0" width="1.55" height="2.05" fill="#00ffbe"/><rect x="322.0" y="614.0" width="1.55" height="2.05" fill="#00ff99"/><rect x="323.5" y="614.0" width="4.55" height="2.05" fill="#00ff73"/><rect x="328.0" y="614.0" width="1.55" height="2.05" fill="#00ffbe"/><rect x="329.5" y="614.0" width="4.55" height="2.05" fill="#00ff73"/><rect x="334.0" y="614.0" width="1.55" height="2.05" fill="#00ff99"/><rect x="335.5" y="614.0" width="1.55" height="2.05" fill="#00f8d5"/><rect x="337.0" y="614.0" width="1.55" height="2.05" fill="#00ff99"/><rect x="338.5" y="614.0" width="1.55" height="2.05" fill="#00ff3e"/><rect x="340.0" y="614.0" width="1.55" height="2.05" fill="#00ffbe"/><rect x="341.5" y="614.0" width="1.55" height="2.05" fill="#00ff99"/><rect x="343.0" y="614.0" width="1.55" height="2.05" fill="#00ffbe"/><rect x="344.5" y="614.0" width="3.05" height="2.05" fill="#00ff99"/><rect x="347.5" y="614.0" width="1.55" height="2.05" fill="#00ffbe"/><rect x="349.0" y="614.0" width="1.55" height="2.05" fill="#00ff73"/><rect x="350.5" y="614.0" width="3.05" height="2.05" fill="#00f8d5"/><rect x="353.5" y="614.0" width="1.55" height="2.05" fill="#00ffbe"/><rect x="355.0" y="614.0" width="1.55" height="2.05" fill="#00f8d5"/><rect x="356.5" y="614.0" width="1.55" height="2.05" fill="#00ff73"/><rect x="358.0" y="614.0" width="1.55" height="2.05" fill="#00ffbe"/><rect x="359.5" y="614.0" width="1.55" height="2.05" fill="#00f8d5"/><rect x="361.0" y="614.0" width="1.55" height="2.05" fill="#00f1ec"/><rect x="362.5" y="614.0" width="3.05" height="2.05" fill="#00f8d5"/><rect x="365.5" y="614.0" width="1.55" height="2.05" fill="#00f1ec"/><rect x="367.0" y="614.0" width="1.55" height="2.05" fill="#00f8d5"/><rect x="370.0" y="614.0" width="1.55" height="2.05" fill="#00f1ec"/><rect x="374.5" y="614.0" width="1.55" height="2.05" fill="#00f1ec"/><rect x="280.0" y="616.0" width="1.55" height="2.05" fill="#00e5ff"/><rect x="281.5" y="616.0" width="1.55" height="2.05" fill="#00f1ec"/><rect x="286.0" y="616.0" width="1.55" height="2.05" fill="#00f1ec"/><rect x="290.5" y="616.0" width="3.05" height="2.05" fill="#00f1ec"/><rect x="293.5" y="616.0" width="1.55" height="2.05" fill="#00f8d5"/><rect x="296.5" y="616.0" width="1.55" height="2.05" fill="#00f1ec"/><rect x="298.0" y="616.0" width="1.55" height="2.05" fill="#00e5ff"/><rect x="299.5" y="616.0" width="3.05" height="2.05" fill="#00f1ec"/><rect x="305.5" y="616.0" width="4.55" height="2.05" fill="#00f1ec"/><rect x="311.5" y="616.0" width="3.05" height="2.05" fill="#00f8d5"/><rect x="314.5" y="616.0" width="1.55" height="2.05" fill="#00f1ec"/><rect x="316.0" y="616.0" width="1.55" height="2.05" fill="#00ffbe"/><rect x="317.5" y="616.0" width="1.55" height="2.05" fill="#00ff99"/><rect x="319.0" y="616.0" width="1.55" height="2.05" fill="#00ffbe"/><rect x="322.0" y="616.0" width="1.55" height="2.05" fill="#00f1ec"/><rect x="323.5" y="616.0" width="1.55" height="2.05" fill="#00ff99"/><rect x="325.0" y="616.0" width="1.55" height="2.05" fill="#00ffbe"/><rect x="326.5" y="616.0" width="4.55" height="2.05" fill="#00f1ec"/><rect x="331.0" y="616.0" width="1.55" height="2.05" fill="#00f8d5"/><rect x="332.5" y="616.0" width="1.55" height="2.05" fill="#00ffbe"/><rect x="334.0" y="616.0" width="1.55" height="2.05" fill="#00f8d5"/><rect x="335.5" y="616.0" width="1.55" height="2.05" fill="#00ff99"/><rect x="337.0" y="616.0" width="4.55" height="2.05" fill="#00ffbe"/><rect x="341.5" y="616.0" width="3.05" height="2.05" fill="#00ff99"/><rect x="344.5" y="616.0" width="1.55" height="2.05" fill="#00ffbe"/><rect x="346.0" y="616.0" width="1.55" height="2.05" fill="#00f1ec"/><rect x="347.5" y="616.0" width="1.55" height="2.05" fill="#00f8d5"/><rect x="349.0" y="616.0" width="1.55" height="2.05" fill="#00f1ec"/><rect x="350.5" y="616.0" width="1.55" height="2.05" fill="#00ffbe"/><rect x="352.0" y="616.0" width="1.55" height="2.05" fill="#00f8d5"/><rect x="353.5" y="616.0" width="6.05" height="2.05" fill="#00f1ec"/><rect x="364.0" y="616.0" width="1.55" height="2.05" fill="#00f1ec"/><rect x="368.5" y="616.0" width="1.55" height="2.05" fill="#00f1ec"/><rect x="302.5" y="618.0" width="3.05" height="2.05" fill="#00f1ec"/><rect x="308.5" y="618.0" width="1.55" height="2.05" fill="#00f1ec"/><rect x="310.0" y="618.0" width="1.55" height="2.05" fill="#00e5ff"/><rect x="314.5" y="618.0" width="1.55" height="2.05" fill="#00ff73"/><rect x="316.0" y="618.0" width="1.55" height="2.05" fill="#00ff00"/><rect x="317.5" y="618.0" width="1.55" height="2.05" fill="#06ff00"/><rect x="319.0" y="618.0" width="3.05" height="2.05" fill="#3eff00"/><rect x="322.0" y="618.0" width="1.55" height="2.05" fill="#19ff00"/><rect x="323.5" y="618.0" width="1.55" height="2.05" fill="#00ff00"/><rect x="325.0" y="618.0" width="1.55" height="2.05" fill="#00ff3e"/><rect x="326.5" y="618.0" width="3.05" height="2.05" fill="#00ff73"/><rect x="329.5" y="618.0" width="1.55" height="2.05" fill="#00f1ec"/><rect x="331.0" y="618.0" width="1.55" height="2.05" fill="#00f8d5"/><rect x="334.0" y="618.0" width="1.55" height="2.05" fill="#00f1ec"/><rect x="335.5" y="618.0" width="1.55" height="2.05" fill="#00f8d5"/><rect x="337.0" y="618.0" width="3.05" height="2.05" fill="#00f1ec"/><rect x="340.0" y="618.0" width="1.55" height="2.05" fill="#00ffbe"/><rect x="341.5" y="618.0" width="1.55" height="2.05" fill="#00f1ec"/><rect x="343.0" y="618.0" width="1.55" height="2.05" fill="#00f8d5"/><rect x="344.5" y="618.0" width="4.55" height="2.05" fill="#00f1ec"/><rect x="352.0" y="618.0" width="1.55" height="2.05" fill="#00ffbe"/><rect x="314.5" y="620.0" width="1.55" height="2.05" fill="#00ffbe"/><rect x="316.0" y="620.0" width="1.55" height="2.05" fill="#00ff73"/><rect x="317.5" y="620.0" width="1.55" height="2.05" fill="#06ff00"/><rect x="319.0" y="620.0" width="1.55" height="2.05" fill="#3eff00"/><rect x="320.5" y="620.0" width="1.55" height="2.05" fill="#06ff00"/><rect x="322.0" y="620.0" width="1.55" height="2.05" fill="#b0ff00"/><rect x="323.5" y="620.0" width="1.55" height="2.05" fill="#3eff00"/><rect x="325.0" y="620.0" width="1.55" height="2.05" fill="#64ff00"/><rect x="326.5" y="620.0" width="1.55" height="2.05" fill="#b0ff00"/><rect x="328.0" y="620.0" width="1.55" height="2.05" fill="#64ff00"/><rect x="329.5" y="620.0" width="1.55" height="2.05" fill="#b0ff00"/><rect x="331.0" y="620.0" width="1.55" height="2.05" fill="#06ff00"/><rect x="332.5" y="620.0" width="1.55" height="2.05" fill="#19ff00"/><rect x="334.0" y="620.0" width="1.55" height="2.05" fill="#06ff00"/><rect x="335.5" y="620.0" width="1.55" height="2.05" fill="#00ff73"/><rect x="337.0" y="620.0" width="1.55" height="2.05" fill="#00ff3e"/><rect x="338.5" y="620.0" width="1.55" height="2.05" fill="#00ffbe"/><rect x="343.0" y="620.0" width="1.55" height="2.05" fill="#00e5ff"/><rect x="320.5" y="622.0" width="1.55" height="2.05" fill="#00e5ff"/><rect x="322.0" y="622.0" width="1.55" height="2.05" fill="#00ff99"/><rect x="323.5" y="622.0" width="1.55" height="2.05" fill="#00ffbe"/><rect x="325.0" y="622.0" width="1.55" height="2.05" fill="#00ff3e"/><rect x="326.5" y="622.0" width="1.55" height="2.05" fill="#06ff00"/><rect x="328.0" y="622.0" width="1.55" height="2.05" fill="#3eff00"/><rect x="329.5" y="622.0" width="1.55" height="2.05" fill="#8aff00"/><rect x="331.0" y="622.0" width="1.55" height="2.05" fill="#b0ff00"/><rect x="332.5" y="622.0" width="1.55" height="2.05" fill="#8aff00"/><rect x="334.0" y="622.0" width="1.55" height="2.05" fill="#d7ff00"/><rect x="335.5" y="622.0" width="1.55" height="2.05" fill="#ffe200"/><rect x="337.0" y="622.0" width="1.55" height="2.05" fill="#64ff00"/><rect x="338.5" y="622.0" width="1.55" height="2.05" fill="#3eff00"/><rect x="340.0" y="622.0" width="1.55" height="2.05" fill="#64ff00"/><rect x="341.5" y="622.0" width="1.55" height="2.05" fill="#00ff00"/><rect x="343.0" y="622.0" width="3.05" height="2.05" fill="#00ff3e"/><rect x="346.0" y="622.0" width="1.55" height="2.05" fill="#00ffbe"/><rect x="347.5" y="622.0" width="1.55" height="2.05" fill="#00e5ff"/><rect x="323.5" y="624.0" width="1.55" height="2.05" fill="#00ffbe"/><rect x="325.0" y="624.0" width="1.55" height="2.05" fill="#64ff00"/><rect x="326.5" y="624.0" width="1.55" height="2.05" fill="#19ff00"/><rect x="328.0" y="624.0" width="1.55" height="2.05" fill="#06ff00"/><rect x="329.5" y="624.0" width="1.55" height="2.05" fill="#19ff00"/><rect x="331.0" y="624.0" width="3.05" height="2.05" fill="#00ff73"/><rect x="334.0" y="624.0" width="1.55" height="2.05" fill="#00ff3e"/><rect x="335.5" y="624.0" width="3.05" height="2.05" fill="#06ff00"/><rect x="338.5" y="624.0" width="1.55" height="2.05" fill="#8aff00"/><rect x="340.0" y="624.0" width="1.55" height="2.05" fill="#64ff00"/><rect x="341.5" y="624.0" width="1.55" height="2.05" fill="#06ff00"/><rect x="343.0" y="624.0" width="1.55" height="2.05" fill="#19ff00"/><rect x="344.5" y="624.0" width="1.55" height="2.05" fill="#64ff00"/><rect x="346.0" y="624.0" width="1.55" height="2.05" fill="#00ff73"/><rect x="347.5" y="624.0" width="1.55" height="2.05" fill="#00f1ec"/><rect x="323.5" y="626.0" width="1.55" height="2.05" fill="#00f1ec"/><rect x="325.0" y="626.0" width="1.55" height="2.05" fill="#00ffbe"/><rect x="326.5" y="626.0" width="1.55" height="2.05" fill="#00ff73"/><rect x="328.0" y="626.0" width="1.55" height="2.05" fill="#00ff3e"/><rect x="329.5" y="626.0" width="1.55" height="2.05" fill="#06ff00"/><rect x="331.0" y="626.0" width="1.55" height="2.05" fill="#00ff00"/><rect x="332.5" y="626.0" width="1.55" height="2.05" fill="#64ff00"/><rect x="334.0" y="626.0" width="1.55" height="2.05" fill="#3eff00"/><rect x="335.5" y="626.0" width="1.55" height="2.05" fill="#06ff00"/><rect x="337.0" y="626.0" width="3.05" height="2.05" fill="#00ff00"/><rect x="340.0" y="626.0" width="3.05" height="2.05" fill="#00ffbe"/><rect x="343.0" y="626.0" width="1.55" height="2.05" fill="#00ff99"/><rect x="344.5" y="626.0" width="1.55" height="2.05" fill="#00ff3e"/><rect x="346.0" y="626.0" width="1.55" height="2.05" fill="#00ffbe"/><rect x="347.5" y="626.0" width="1.55" height="2.05" fill="#00f8d5"/><rect x="331.0" y="628.0" width="1.55" height="2.05" fill="#00f8d5"/><rect x="334.0" y="628.0" width="1.55" height="2.05" fill="#00ffbe"/><rect x="335.5" y="628.0" width="1.55" height="2.05" fill="#00ff73"/><rect x="337.0" y="628.0" width="1.55" height="2.05" fill="#00ff3e"/><rect x="338.5" y="628.0" width="1.55" height="2.05" fill="#00ff73"/><rect x="314.5" y="648.0" width="1.55" height="2.05" fill="#00e5ff"/><rect x="316.0" y="648.0" width="1.55" height="2.05" fill="#00ff99"/><rect x="317.5" y="648.0" width="3.05" height="2.05" fill="#00ff3e"/><rect x="320.5" y="648.0" width="3.05" height="2.05" fill="#00ff73"/><rect x="323.5" y="648.0" width="1.55" height="2.05" fill="#00ffbe"/><rect x="314.5" y="650.0" width="1.55" height="2.05" fill="#00f8d5"/><rect x="316.0" y="650.0" width="1.55" height="2.05" fill="#00ff99"/><rect x="317.5" y="650.0" width="1.55" height="2.05" fill="#06ff00"/><rect x="319.0" y="650.0" width="3.05" height="2.05" fill="#19ff00"/><rect x="322.0" y="650.0" width="1.55" height="2.05" fill="#00ff00"/><rect x="323.5" y="650.0" width="1.55" height="2.05" fill="#06ff00"/><rect x="325.0" y="650.0" width="1.55" height="2.05" fill="#00ffbe"/><rect x="316.0" y="652.0" width="1.55" height="2.05" fill="#00f1ec"/><rect x="317.5" y="652.0" width="1.55" height="2.05" fill="#00f8d5"/><rect x="319.0" y="652.0" width="1.55" height="2.05" fill="#00f1ec"/><rect x="320.5" y="652.0" width="1.55" height="2.05" fill="#00f8d5"/><rect x="322.0" y="652.0" width="3.05" height="2.05" fill="#00ffbe"/><rect x="325.0" y="652.0" width="1.55" height="2.05" fill="#00f8d5"/></g><path d="M60.2,42.03 L61.2,41.84 L62.2,41.94 L63.2,41.66 L64.2,41.78 L65.2,41.66 L66.2,41.54 L67.2,41.61 L68.2,41.60 L69.2,41.48 L70.2,41.36 L71.2,41.45 L72.2,41.20 L73.2,41.37 L74.2,41.32 L75.2,41.38 L76.2,41.25 L77.2,41.15 L78.2,41.09 L79.2,41.01 L80.2,40.83 L81.2,41.05 L82.2,40.90 L83.2,40.77 L84.2,40.63 L85.2,40.84 L86.2,40.69 L87.2,40.48 L88.2,40.64 L89.2,40.74 L90.2,40.53 L91.2,40.55 L92.2,40.45 L93.2,40.41 L94.2,40.55 L95.2,40.72 L96.2,40.41 L97.2,40.37 L98.2,40.44 L99.2,40.31 L100.2,40.39 L101.2,40.38 L102.2,40.18 L103.2,40.15 L104.2,40.22 L105.2,40.29 L106.2,40.22 L107.2,40.29 L108.2,40.01 L109.2,40.17 L110.2,40.04 L111.2,40.09 L112.2,40.09 L113.2,39.94 L114.2,39.99 L115.2,39.88 L116.2,40.01 L117.2,39.89 L118.2,39.91 L119.2,39.97 L120.2,39.87 L121.2,40.04 L122.2,39.85 L123.2,39.98 L124.2,39.92 L125.2,39.78 L126.2,39.84 L127.2,39.77 L128.2,39.81 L129.2,39.80 L130.2,39.99 L131.2,39.76 L132.2,39.95 L133.2,39.82 L134.2,39.64 L135.2,39.53 L136.2,39.81 L137.2,39.54 L138.2,39.79 L139.2,39.81 L140.2,39.74 L141.2,39.66 L142.2,39.65 L143.2,39.68 L144.2,39.62 L145.2,39.58 L146.2,39.58 L147.2,39.72 L148.2,39.53 L149.2,39.62 L150.2,39.46 L151.2,39.48 L152.2,39.41 L153.2,39.51 L154.2,39.58 L155.2,39.53 L156.2,39.44 L157.2,39.53 L158.2,39.43 L159.2,39.49 L160.2,39.46 L161.2,39.48 L162.2,39.17 L163.2,39.25 L164.2,39.33 L165.2,39.13 L166.2,39.24 L167.2,38.89 L168.2,38.74 L169.2,38.82 L170.2,38.61 L171.2,38.63 L172.2,38.38 L173.2,38.19 L174.2,38.16 L175.2,37.90 L176.2,37.84 L177.2,37.73 L178.2,37.66 L179.2,37.66 L180.2,37.43 L181.2,37.41 L182.2,37.23 L183.2,37.27 L184.2,36.81 L185.2,36.96 L186.2,36.90 L187.2,36.68 L188.2,36.78 L189.2,36.60 L190.2,36.60 L191.2,36.47 L192.2,36.34 L193.2,36.17 L194.2,35.97 L195.2,35.94 L196.2,35.72 L197.2,35.58 L198.2,35.32 L199.2,35.46 L200.2,34.81 L201.2,34.87 L202.2,34.51 L203.2,34.34 L204.2,34.25 L205.2,33.96 L206.2,33.64 L207.2,33.60 L208.2,33.34 L209.2,32.96 L210.2,32.98 L211.2,32.66 L212.2,32.49 L213.2,32.41 L214.2,32.19 L215.2,31.93 L216.2,31.97 L217.2,31.60 L218.2,31.30 L219.2,31.18 L220.2,30.95 L221.2,30.55 L222.2,30.41 L223.2,30.23 L224.2,30.36 L225.2,29.95 L226.2,29.76 L227.2,29.55 L228.2,29.52 L229.2,29.25 L230.2,29.23 L231.2,28.96 L232.2,28.86 L233.2,28.51 L234.2,28.38 L235.2,28.12 L236.2,27.97 L237.2,27.64 L238.2,27.57 L239.2,27.35 L240.2,27.20 L241.2,27.20 L242.2,26.93 L243.2,26.84 L244.2,26.63 L245.2,26.46 L246.2,26.33 L247.2,26.03 L248.2,26.03 L249.2,25.78 L250.2,25.62 L251.2,25.65 L252.2,25.60 L253.2,25.16 L254.2,25.28 L255.2,25.05 L256.2,24.75 L257.2,24.72 L258.2,24.59 L259.2,24.45 L260.2,24.24 L261.2,24.01 L262.2,24.00 L263.2,23.94 L264.2,23.79 L265.2,23.64 L266.2,23.55 L267.2,23.22 L268.2,23.18 L269.2,23.09 L270.2,23.02 L271.2,22.81 L272.2,22.71 L273.2,22.55 L274.2,22.61 L275.2,22.06 L276.2,22.14 L277.2,22.25 L278.2,21.91 L279.2,21.58 L280.2,21.64 L281.2,21.36 L282.2,21.30 L283.2,21.26 L284.2,21.27 L285.2,21.02 L286.2,20.90 L287.2,20.80 L288.2,20.59 L289.2,20.36 L290.2,20.30 L291.2,20.21 L292.2,20.01 L293.2,19.84 L294.2,19.74 L295.2,19.50 L296.2,19.41 L297.2,19.36 L298.2,19.21 L299.2,19.11 L300.2,19.11 L301.2,18.88 L302.2,18.73 L303.2,18.50 L304.2,18.39 L305.2,18.41 L306.2,18.17 L307.2,18.18 L308.2,17.91 L309.2,17.91 L310.2,17.77 L311.2,17.75 L312.2,17.50 L313.2,17.38 L314.2,17.32 L315.2,17.18 L316.2,17.22 L317.2,16.91 L318.2,16.76 L319.2,16.67 L320.2,16.63 L321.2,16.53 L322.2,16.49 L323.2,16.21 L324.2,16.50 L325.2,16.36 L326.2,16.10 L327.2,15.91 L328.2,15.96 L329.2,15.90 L330.2,15.57 L331.2,15.71 L332.2,15.48 L333.2,15.59 L334.2,15.60 L335.2,15.48 L336.2,15.16 L337.2,15.36 L338.2,15.23 L339.2,15.03 L340.2,15.03 L341.2,15.06 L342.2,14.81 L343.2,14.77 L344.2,14.65 L345.2,14.75 L346.2,14.36 L347.2,14.63 L348.2,14.33 L349.2,14.45 L350.2,14.13 L351.2,14.13 L352.2,14.09 L353.2,14.16 L354.2,13.85 L355.2,13.99 L356.2,13.80 L357.2,13.92 L358.2,13.70 L359.2,13.70 L360.2,13.57 L361.2,13.71 L362.2,13.46 L363.2,13.44 L364.2,13.58 L365.2,13.35 L366.2,13.36 L367.2,13.17 L368.2,13.21 L369.2,12.92 L370.2,13.10 L371.2,12.98 L372.2,12.85 L373.2,12.80 L374.2,13.00 L375.2,12.88 L376.2,12.64 L377.2,12.91 L378.2,12.62 L379.2,12.60 L380.2,12.62 L381.2,12.48 L382.2,12.42 L383.2,12.50 L384.2,12.67 L385.2,12.64 L386.2,12.39 L387.2,12.64 L388.2,12.52 L389.2,12.56 L390.2,12.50 L391.2,12.53 L392.2,12.38 L393.2,12.38 L394.2,12.39 L395.2,12.41 L396.2,12.50 L397.2,12.31 L398.2,12.57 L399.2,12.35 L400.2,12.34 L401.2,12.44 L402.2,12.40 L403.2,12.30 L404.2,12.21 L405.2,12.20 L406.2,12.12 L407.2,12.37 L408.2,12.34 L409.2,12.40 L410.2,12.24 L411.2,12.21 L412.2,12.23 L413.2,12.23 L414.2,12.09 L415.2,12.13 L416.2,12.28 L417.2,11.89 L418.2,11.90 L419.2,11.92 L420.2,12.07 L421.2,12.08 L422.2,11.90 L423.2,11.97 L424.2,11.87 L425.2,11.87 L426.2,11.76 L427.2,11.78 L428.2,11.75 L429.2,11.83 L430.2,11.91 L431.2,11.49 L432.2,11.69 L433.2,11.60 L434.2,11.67 L435.2,11.65 L436.2,11.59 L437.2,11.56 L438.2,11.36 L439.2,11.26 L440.2,11.56 L441.2,11.52 L442.2,11.31 L443.2,11.52 L444.2,11.46 L445.2,11.16 L446.2,11.49 L447.2,11.30 L448.2,11.51 L449.2,11.33 L450.2,11.33 L451.2,11.25 L452.2,11.38 L453.2,11.50 L454.2,11.34 L455.2,11.22 L456.2,11.61 L457.2,11.58 L458.2,11.47 L459.2,11.35 L460.2,11.28 L461.2,11.24 L462.2,11.45 L463.2,11.53 L464.2,11.30 L465.2,11.40 L466.2,11.37 L467.2,11.38 L468.2,11.45 L469.2,11.60 L470.2,11.34 L471.2,11.48 L472.2,11.50 L473.2,11.37 L474.2,11.39 L475.2,11.27 L476.2,11.50 L477.2,11.35 L478.2,11.34 L479.2,11.41 L480.2,11.32 L481.2,11.30 L482.2,11.37 L483.2,11.54 L484.2,11.38 L485.2,11.45 L486.2,11.26 L487.2,11.21 L488.2,11.58 L489.2,11.36 L490.2,11.25 L491.2,11.39 L492.2,11.46 L493.2,11.23 L494.2,11.31 L495.2,11.43 L496.2,11.31 L497.2,11.48 L498.2,11.49 L499.2,11.44 L500.2,11.36 L501.2,11.40 L502.2,11.34 L503.2,11.39 L504.2,11.43 L505.2,11.37 L506.2,11.49 L507.2,11.65 L508.2,11.35 L509.2,11.43" fill="none" stroke="#5a5464" stroke-width="0.95"/><path d="M60.2,64.80 L61.2,64.65 L62.2,64.33 L63.2,64.16 L64.2,64.41 L65.2,64.21 L66.2,64.07 L67.2,63.65 L68.2,63.89 L69.2,63.82 L70.2,63.47 L71.2,63.57 L72.2,63.83 L73.2,62.74 L74.2,63.23 L75.2,62.74 L76.2,62.79 L77.2,63.16 L78.2,63.45 L79.2,63.43 L80.2,63.24 L81.2,63.27 L82.2,63.59 L83.2,63.82 L84.2,63.72 L85.2,63.64 L86.2,64.42 L87.2,63.80 L88.2,63.96 L89.2,63.87 L90.2,63.86 L91.2,64.01 L92.2,63.93 L93.2,64.15 L94.2,63.71 L95.2,63.64 L96.2,64.47 L97.2,63.98 L98.2,64.19 L99.2,64.29 L100.2,64.13 L101.2,64.01 L102.2,63.62 L103.2,63.61 L104.2,64.24 L105.2,64.16 L106.2,64.14 L107.2,63.60 L108.2,63.44 L109.2,63.50 L110.2,63.27 L111.2,63.40 L112.2,62.91 L113.2,63.39 L114.2,62.88 L115.2,62.93 L116.2,63.30 L117.2,63.20 L118.2,62.94 L119.2,63.38 L120.2,63.68 L121.2,62.94 L122.2,63.21 L123.2,63.04 L124.2,62.86 L125.2,63.51 L126.2,63.56 L127.2,63.65 L128.2,63.55 L129.2,62.99 L130.2,63.51 L131.2,63.46 L132.2,63.43 L133.2,63.55 L134.2,64.11 L135.2,63.95 L136.2,64.60 L137.2,64.33 L138.2,63.86 L139.2,64.64 L140.2,64.79 L141.2,64.45 L142.2,64.10 L143.2,64.77 L144.2,63.97 L145.2,64.22 L146.2,63.73 L147.2,63.84 L148.2,63.68 L149.2,64.30 L150.2,64.28 L151.2,63.84 L152.2,63.56 L153.2,63.83 L154.2,63.88 L155.2,63.37 L156.2,63.41 L157.2,63.62 L158.2,63.76 L159.2,63.56 L160.2,63.62 L161.2,63.28 L162.2,63.05 L163.2,63.80 L164.2,63.58 L165.2,63.84 L166.2,63.85 L167.2,64.07 L168.2,63.52 L169.2,63.82 L170.2,63.24 L171.2,63.12 L172.2,62.84 L173.2,62.36 L174.2,61.63 L175.2,60.53 L176.2,60.22 L177.2,60.20 L178.2,59.24 L179.2,58.64 L180.2,58.03 L181.2,57.36 L182.2,56.95 L183.2,56.56 L184.2,56.60 L185.2,56.01 L186.2,55.96 L187.2,55.24 L188.2,55.18 L189.2,54.43 L190.2,53.64 L191.2,54.01 L192.2,53.31 L193.2,53.17 L194.2,52.58 L195.2,52.10 L196.2,51.87 L197.2,51.21 L198.2,50.84 L199.2,50.56 L200.2,50.32 L201.2,49.87 L202.2,49.92 L203.2,49.77 L204.2,49.95 L205.2,49.65 L206.2,48.94 L207.2,48.92 L208.2,48.40 L209.2,48.30 L210.2,47.94 L211.2,47.57 L212.2,47.47 L213.2,46.84 L214.2,47.06 L215.2,46.63 L216.2,46.18 L217.2,46.11 L218.2,46.09 L219.2,45.53 L220.2,45.58 L221.2,45.40 L222.2,45.44 L223.2,44.59 L224.2,44.63 L225.2,44.59 L226.2,44.63 L227.2,44.12 L228.2,44.05 L229.2,43.30 L230.2,43.32 L231.2,43.71 L232.2,43.06 L233.2,43.50 L234.2,42.62 L235.2,42.56 L236.2,42.07 L237.2,42.46 L238.2,42.20 L239.2,42.46 L240.2,41.84 L241.2,41.57 L242.2,41.12 L243.2,41.28 L244.2,41.37 L245.2,41.15 L246.2,41.09 L247.2,40.83 L248.2,40.43 L249.2,40.41 L250.2,40.13 L251.2,39.59 L252.2,40.16 L253.2,39.66 L254.2,39.13 L255.2,39.31 L256.2,39.11 L257.2,39.11 L258.2,39.05 L259.2,37.76 L260.2,38.48 L261.2,38.54 L262.2,37.76 L263.2,37.36 L264.2,37.71 L265.2,37.55 L266.2,37.41 L267.2,36.90 L268.2,36.90 L269.2,36.92 L270.2,36.90 L271.2,37.11 L272.2,36.49 L273.2,36.12 L274.2,35.54 L275.2,36.22 L276.2,35.67 L277.2,35.42 L278.2,34.96 L279.2,35.13 L280.2,34.26 L281.2,34.48 L282.2,34.23 L283.2,34.02 L284.2,34.02 L285.2,33.44 L286.2,33.32 L287.2,33.35 L288.2,32.58 L289.2,32.73 L290.2,32.65 L291.2,32.70 L292.2,32.10 L293.2,32.33 L294.2,32.06 L295.2,31.43 L296.2,31.27 L297.2,31.11 L298.2,31.33 L299.2,31.18 L300.2,31.15 L301.2,31.02 L302.2,30.53 L303.2,30.79 L304.2,30.57 L305.2,30.34 L306.2,30.19 L307.2,29.60 L308.2,29.86 L309.2,29.36 L310.2,29.17 L311.2,29.23 L312.2,29.20 L313.2,29.01 L314.2,28.79 L315.2,28.47 L316.2,28.62 L317.2,28.24 L318.2,27.92 L319.2,28.14 L320.2,28.33 L321.2,27.73 L322.2,27.43 L323.2,27.90 L324.2,27.84 L325.2,27.21 L326.2,27.09 L327.2,27.06 L328.2,27.60 L329.2,26.76 L330.2,26.83 L331.2,26.56 L332.2,25.86 L333.2,25.91 L334.2,25.77 L335.2,26.09 L336.2,25.91 L337.2,26.23 L338.2,25.61 L339.2,25.66 L340.2,25.50 L341.2,25.41 L342.2,25.86 L343.2,25.25 L344.2,25.45 L345.2,25.32 L346.2,24.81 L347.2,25.10 L348.2,24.80 L349.2,24.89 L350.2,24.87 L351.2,24.80 L352.2,24.64 L353.2,25.11 L354.2,24.63 L355.2,24.84 L356.2,25.05 L357.2,24.75 L358.2,24.82 L359.2,24.87 L360.2,24.77 L361.2,24.94 L362.2,24.16 L363.2,25.01 L364.2,24.54 L365.2,24.10 L366.2,24.39 L367.2,24.21 L368.2,24.56 L369.2,24.20 L370.2,24.33 L371.2,24.66 L372.2,24.63 L373.2,24.40 L374.2,24.55 L375.2,24.59 L376.2,24.64 L377.2,24.63 L378.2,24.58 L379.2,24.86 L380.2,24.25 L381.2,24.54 L382.2,24.70 L383.2,24.57 L384.2,24.54 L385.2,24.58 L386.2,24.75 L387.2,25.01 L388.2,24.67 L389.2,24.65 L390.2,24.82 L391.2,24.67 L392.2,24.26 L393.2,24.82 L394.2,24.66 L395.2,24.62 L396.2,24.93 L397.2,24.79 L398.2,24.65 L399.2,24.25 L400.2,24.37 L401.2,24.80 L402.2,24.77 L403.2,24.91 L404.2,24.86 L405.2,24.68 L406.2,24.48 L407.2,24.53 L408.2,24.77 L409.2,24.51 L410.2,24.99 L411.2,24.47 L412.2,24.35 L413.2,24.75 L414.2,24.36 L415.2,25.21 L416.2,24.55 L417.2,24.79 L418.2,24.74 L419.2,24.60 L420.2,24.37 L421.2,24.43 L422.2,25.19 L423.2,25.31 L424.2,25.68 L425.2,24.85 L426.2,25.44 L427.2,25.37 L428.2,25.67 L429.2,25.41 L430.2,25.79 L431.2,25.86 L432.2,25.81 L433.2,26.05 L434.2,25.67 L435.2,26.12 L436.2,25.59 L437.2,26.21 L438.2,25.13 L439.2,25.85 L440.2,25.67 L441.2,25.90 L442.2,26.18 L443.2,26.13 L444.2,26.00 L445.2,26.43 L446.2,25.66 L447.2,25.86 L448.2,26.46 L449.2,26.19 L450.2,25.62 L451.2,26.25 L452.2,25.90 L453.2,26.59 L454.2,26.53 L455.2,26.14 L456.2,26.62 L457.2,26.12 L458.2,26.58 L459.2,26.52 L460.2,26.37 L461.2,26.08 L462.2,26.40 L463.2,25.93 L464.2,26.40 L465.2,26.11 L466.2,26.91 L467.2,26.40 L468.2,26.07 L469.2,26.85 L470.2,26.83 L471.2,26.65 L472.2,27.34 L473.2,27.03 L474.2,26.89 L475.2,26.75 L476.2,26.20 L477.2,27.09 L478.2,27.25 L479.2,26.89 L480.2,26.72 L481.2,27.10 L482.2,26.72 L483.2,27.18 L484.2,27.40 L485.2,27.62 L486.2,27.34 L487.2,27.36 L488.2,27.53 L489.2,27.72 L490.2,27.32 L491.2,27.07 L492.2,27.16 L493.2,27.02 L494.2,27.09 L495.2,27.26 L496.2,27.36 L497.2,27.29 L498.2,27.25 L499.2,27.12 L500.2,27.30 L501.2,27.39 L502.2,27.34 L503.2,27.50 L504.2,27.03 L505.2,27.02 L506.2,27.49 L507.2,27.10 L508.2,27.13 L509.2,26.92" fill="none" stroke="#e8706c" stroke-width="0.95"/><path d="M60.2,278.1H62.7V274.1H65.2V272.5H67.7V276.3H70.2V278.3H72.7V275.1H75.2V273.7H77.7V272.1H80.2V277.9H82.7V278.0H85.2V273.0H87.7V273.6H90.2V270.9H92.7V272.2H95.2V274.9H97.7V275.3H100.2V268.2H102.7V275.2H105.2V276.4H107.7V277.1H110.2V274.0H112.7V273.8H115.2V274.9H117.7V274.1H120.2V273.2H122.7V272.1H125.2V271.0H127.7V273.1H130.2V278.0H132.7V271.7H135.2V276.9H137.7V273.7H140.2V276.8H142.7V272.8H145.2V274.3H147.7V271.5H150.2V263.5H152.7V271.1H155.2V268.3H157.7V273.0H160.2V269.8H162.7V266.8H165.2V268.1H167.7V266.5H170.0V266.9H172.5V264.5H175.5V254.5H178.0V251.6H180.5V251.6H182.5V237.3H185.0V231.1H187.6V219.5H190.2V190.0H192.8V154.0H195.3V153.5H197.8V129.4H200.3V116.7H202.5" fill="none" stroke="#5a5a5a" stroke-width="1.0"/><path d="M205.4,133.5H210.0V144.9H212.1V138.5H215.0V160.3H217.8V178.3H220.3V189.9H222.9V205.4H225.5V215.6H227.5V223.4H229.3V237.5H231.9V242.7H234.5V253.7H238.3V253.0H243.2V259.9H245.7V263.3H248.2V258.5H250.7V262.7H253.2V254.5H255.7V261.8H258.2V258.1H260.7V260.2H263.2V257.3H265.7V262.1H268.2V257.2H270.7V260.6H273.2V256.4H275.7V258.3H278.2V259.8H280.7V262.6H283.2V257.9H285.7V258.8H288.2V255.2H290.7V261.4H293.2V258.5H295.7V258.7H298.2V259.4H300.7V259.6H303.2V259.6H305.7V262.0H308.2V263.2H310.7V261.3H313.2V258.2H315.7V255.4H318.2V257.0H320.7V256.7H323.2V257.5H325.7V257.7H328.2V259.3H330.7V257.5H333.2V254.4H335.7V260.8H338.2V261.8H340.7V253.7H343.2V258.9H345.7V256.6H348.2V256.9H350.7V263.0H353.2V252.1H355.7V254.0H358.2V258.9H360.7V257.1H363.2V259.0H365.7V262.0H368.2V259.6H370.7V258.1H373.2V255.8H375.7V257.0H378.2V259.0H380.7V255.0H383.2V261.5H385.7V256.7H388.2V255.7H390.7V259.9H393.2V264.5H395.7V261.7H398.2V258.2H400.7V257.3H403.2V254.1H405.7V261.9H408.2V258.8H410.7V256.8H413.2V259.2H415.7V266.0H418.2V256.2H420.7V251.6H423.2V255.6H425.7V261.4H428.2V259.8H430.7V257.9H433.2V250.9H435.7V256.6H438.2V258.1H440.7V253.7H443.2V258.7H445.7V252.7H448.2V260.4H450.7V259.6H453.2V255.5H455.7V252.9H458.2V254.8H460.7V255.4H463.2V261.4H465.7V257.5H468.2V256.7H470.7V256.0H473.2V252.1H475.7V254.4H478.2V250.5H480.7V252.2H483.2V253.2H485.7V251.5H488.2V250.2H490.7V248.5H493.2V252.3H495.7V251.2H498.2V254.4H500.7V244.9H503.2V245.1H505.7V249.7H508.2V250.3H509.4" fill="none" stroke="#5a5a5a" stroke-width="1.0"/><rect x="60.2" y="4.0" width="449.2" height="90.6" fill="none" stroke="#6a6a6a" stroke-width="1.3"/><rect x="60.2" y="101.4" width="449.2" height="181.8" fill="none" stroke="#6a6a6a" stroke-width="1.3"/><rect x="60.2" y="289.7" width="449.2" height="181.6" fill="none" stroke="#6a6a6a" stroke-width="1.3"/><rect x="60.2" y="477.6" width="449.2" height="181.3" fill="none" stroke="#6a6a6a" stroke-width="1.3"/><path d="M97.6,94.6v-0.9965999999999999M97.6,4.0v0.9965999999999999M135.1,94.6v-0.9965999999999999M135.1,4.0v0.9965999999999999M172.5,94.6v-0.9965999999999999M172.5,4.0v0.9965999999999999M209.9,94.6v-0.9965999999999999M209.9,4.0v0.9965999999999999M247.4,94.6v-1.8119999999999998M247.4,4.0v1.8119999999999998M284.8,94.6v-0.9965999999999999M284.8,4.0v0.9965999999999999M322.2,94.6v-0.9965999999999999M322.2,4.0v0.9965999999999999M359.7,94.6v-0.9965999999999999M359.7,4.0v0.9965999999999999M397.1,94.6v-0.9965999999999999M397.1,4.0v0.9965999999999999M434.5,94.6v-1.8119999999999998M434.5,4.0v1.8119999999999998M472.0,94.6v-0.9965999999999999M472.0,4.0v0.9965999999999999M97.6,283.2v-1.9997999999999998M97.6,101.4v1.9997999999999998M135.1,283.2v-1.9997999999999998M135.1,101.4v1.9997999999999998M172.5,283.2v-1.9997999999999998M172.5,101.4v1.9997999999999998M209.9,283.2v-1.9997999999999998M209.9,101.4v1.9997999999999998M247.4,283.2v-3.6359999999999997M247.4,101.4v3.6359999999999997M284.8,283.2v-1.9997999999999998M284.8,101.4v1.9997999999999998M322.2,283.2v-1.9997999999999998M322.2,101.4v1.9997999999999998M359.7,283.2v-1.9997999999999998M359.7,101.4v1.9997999999999998M397.1,283.2v-1.9997999999999998M397.1,101.4v1.9997999999999998M434.5,283.2v-3.6359999999999997M434.5,101.4v3.6359999999999997M472.0,283.2v-1.9997999999999998M472.0,101.4v1.9997999999999998M97.6,471.3v-1.9976M97.6,289.7v1.9976M135.1,471.3v-1.9976M135.1,289.7v1.9976M172.5,471.3v-1.9976M172.5,289.7v1.9976M209.9,471.3v-1.9976M209.9,289.7v1.9976M247.4,471.3v-3.6320000000000006M247.4,289.7v3.6320000000000006M284.8,471.3v-1.9976M284.8,289.7v1.9976M322.2,471.3v-1.9976M322.2,289.7v1.9976M359.7,471.3v-1.9976M359.7,289.7v1.9976M397.1,471.3v-1.9976M397.1,289.7v1.9976M434.5,471.3v-3.6320000000000006M434.5,289.7v3.6320000000000006M472.0,471.3v-1.9976M472.0,289.7v1.9976M97.6,658.9v-1.9942999999999993M97.6,477.6v1.9942999999999993M135.1,658.9v-1.9942999999999993M135.1,477.6v1.9942999999999993M172.5,658.9v-1.9942999999999993M172.5,477.6v1.9942999999999993M209.9,658.9v-1.9942999999999993M209.9,477.6v1.9942999999999993M247.4,658.9v-3.625999999999999M247.4,477.6v3.625999999999999M284.8,658.9v-1.9942999999999993M284.8,477.6v1.9942999999999993M322.2,658.9v-1.9942999999999993M322.2,477.6v1.9942999999999993M359.7,658.9v-1.9942999999999993M359.7,477.6v1.9942999999999993M397.1,658.9v-1.9942999999999993M397.1,477.6v1.9942999999999993M434.5,658.9v-3.625999999999999M434.5,477.6v3.625999999999999M472.0,658.9v-1.9942999999999993M472.0,477.6v1.9942999999999993M60.2,94.6h9M509.4,94.6h-9M60.2,87.8h4.5M509.4,87.8h-4.5M60.2,83.8h4.5M509.4,83.8h-4.5M60.2,81.0h4.5M509.4,81.0h-4.5M60.2,78.8h4.5M509.4,78.8h-4.5M60.2,77.0h4.5M509.4,77.0h-4.5M60.2,75.5h4.5M509.4,75.5h-4.5M60.2,74.1h4.5M509.4,74.1h-4.5M60.2,73.0h4.5M509.4,73.0h-4.5M60.2,71.9h9M509.4,71.9h-9M60.2,65.1h4.5M509.4,65.1h-4.5M60.2,61.1h4.5M509.4,61.1h-4.5M60.2,58.3h4.5M509.4,58.3h-4.5M60.2,56.1h4.5M509.4,56.1h-4.5M60.2,54.3h4.5M509.4,54.3h-4.5M60.2,52.8h4.5M509.4,52.8h-4.5M60.2,51.5h4.5M509.4,51.5h-4.5M60.2,50.3h4.5M509.4,50.3h-4.5M60.2,49.3h9M509.4,49.3h-9M60.2,42.5h4.5M509.4,42.5h-4.5M60.2,38.5h4.5M509.4,38.5h-4.5M60.2,35.7h4.5M509.4,35.7h-4.5M60.2,33.5h4.5M509.4,33.5h-4.5M60.2,31.7h4.5M509.4,31.7h-4.5M60.2,30.2h4.5M509.4,30.2h-4.5M60.2,28.8h4.5M509.4,28.8h-4.5M60.2,27.7h4.5M509.4,27.7h-4.5M60.2,26.7h9M509.4,26.7h-9M60.2,19.8h4.5M509.4,19.8h-4.5M60.2,15.8h4.5M509.4,15.8h-4.5M60.2,13.0h4.5M509.4,13.0h-4.5M60.2,10.8h4.5M509.4,10.8h-4.5M60.2,9.0h4.5M509.4,9.0h-4.5M60.2,7.5h4.5M509.4,7.5h-4.5M60.2,6.2h4.5M509.4,6.2h-4.5M60.2,5.0h4.5M509.4,5.0h-4.5M60.2,4.0h9M509.4,4.0h-9M60.2,283.2h4.5M509.4,283.2h-4.5M60.2,273.6h9M509.4,273.6h-9M60.2,264.1h4.5M509.4,264.1h-4.5M60.2,254.5h4.5M509.4,254.5h-4.5M60.2,244.9h4.5M509.4,244.9h-4.5M60.2,235.4h4.5M509.4,235.4h-4.5M60.2,225.8h9M509.4,225.8h-9M60.2,216.2h4.5M509.4,216.2h-4.5M60.2,206.7h4.5M509.4,206.7h-4.5M60.2,197.1h4.5M509.4,197.1h-4.5M60.2,187.5h4.5M509.4,187.5h-4.5M60.2,177.9h9M509.4,177.9h-9M60.2,168.4h4.5M509.4,168.4h-4.5M60.2,158.8h4.5M509.4,158.8h-4.5M60.2,149.2h4.5M509.4,149.2h-4.5M60.2,139.7h4.5M509.4,139.7h-4.5M60.2,130.1h9M509.4,130.1h-9M60.2,120.5h4.5M509.4,120.5h-4.5M60.2,111.0h4.5M509.4,111.0h-4.5M60.2,101.4h4.5M509.4,101.4h-4.5M60.2,471.3h4.5M509.4,471.3h-4.5M60.2,456.4h4.5M509.4,456.4h-4.5M60.2,444.8h4.5M509.4,444.8h-4.5M60.2,435.4h4.5M509.4,435.4h-4.5M60.2,427.4h4.5M509.4,427.4h-4.5M60.2,420.5h4.5M509.4,420.5h-4.5M60.2,414.4h4.5M509.4,414.4h-4.5M60.2,408.9h9M509.4,408.9h-9M60.2,373.1h4.5M509.4,373.1h-4.5M60.2,352.1h4.5M509.4,352.1h-4.5M60.2,337.2h4.5M509.4,337.2h-4.5M60.2,325.6h4.5M509.4,325.6h-4.5M60.2,316.2h4.5M509.4,316.2h-4.5M60.2,308.2h4.5M509.4,308.2h-4.5M60.2,301.3h4.5M509.4,301.3h-4.5M60.2,295.2h4.5M509.4,295.2h-4.5M60.2,289.7h9M509.4,289.7h-9M60.2,658.9h4.5M509.4,658.9h-4.5M60.2,655.6h4.5M509.4,655.6h-4.5M60.2,652.3h4.5M509.4,652.3h-4.5M60.2,649.0h4.5M509.4,649.0h-4.5M60.2,645.7h4.5M509.4,645.7h-4.5M60.2,642.4h9M509.4,642.4h-9M60.2,639.1h4.5M509.4,639.1h-4.5M60.2,635.8h4.5M509.4,635.8h-4.5M60.2,632.5h4.5M509.4,632.5h-4.5M60.2,629.2h4.5M509.4,629.2h-4.5M60.2,625.9h4.5M509.4,625.9h-4.5M60.2,622.6h4.5M509.4,622.6h-4.5M60.2,619.3h4.5M509.4,619.3h-4.5M60.2,616.0h4.5M509.4,616.0h-4.5M60.2,612.8h4.5M509.4,612.8h-4.5M60.2,609.5h9M509.4,609.5h-9M60.2,606.2h4.5M509.4,606.2h-4.5M60.2,602.9h4.5M509.4,602.9h-4.5M60.2,599.6h4.5M509.4,599.6h-4.5M60.2,596.3h4.5M509.4,596.3h-4.5M60.2,593.0h4.5M509.4,593.0h-4.5M60.2,589.7h4.5M509.4,589.7h-4.5M60.2,586.4h4.5M509.4,586.4h-4.5M60.2,583.1h4.5M509.4,583.1h-4.5M60.2,579.8h4.5M509.4,579.8h-4.5M60.2,576.5h9M509.4,576.5h-9M60.2,573.2h4.5M509.4,573.2h-4.5M60.2,569.9h4.5M509.4,569.9h-4.5M60.2,566.6h4.5M509.4,566.6h-4.5M60.2,563.3h4.5M509.4,563.3h-4.5M60.2,560.0h4.5M509.4,560.0h-4.5M60.2,556.7h4.5M509.4,556.7h-4.5M60.2,553.4h4.5M509.4,553.4h-4.5M60.2,550.1h4.5M509.4,550.1h-4.5M60.2,546.8h4.5M509.4,546.8h-4.5M60.2,543.5h9M509.4,543.5h-9M60.2,540.2h4.5M509.4,540.2h-4.5M60.2,536.9h4.5M509.4,536.9h-4.5M60.2,533.6h4.5M509.4,533.6h-4.5M60.2,530.3h4.5M509.4,530.3h-4.5M60.2,527.0h4.5M509.4,527.0h-4.5M60.2,523.7h4.5M509.4,523.7h-4.5M60.2,520.5h4.5M509.4,520.5h-4.5M60.2,517.2h4.5M509.4,517.2h-4.5M60.2,513.9h4.5M509.4,513.9h-4.5M60.2,510.6h9M509.4,510.6h-9M60.2,507.3h4.5M509.4,507.3h-4.5M60.2,504.0h4.5M509.4,504.0h-4.5M60.2,500.7h4.5M509.4,500.7h-4.5M60.2,497.4h4.5M509.4,497.4h-4.5M60.2,494.1h4.5M509.4,494.1h-4.5M60.2,490.8h4.5M509.4,490.8h-4.5M60.2,487.5h4.5M509.4,487.5h-4.5M60.2,484.2h4.5M509.4,484.2h-4.5M60.2,480.9h4.5M509.4,480.9h-4.5M60.2,477.6h9M509.4,477.6h-9" fill="none" stroke="#000" stroke-width="0.75"/><rect x="517.3" y="289.8" width="9" height="181.4" fill="url(#cb)" stroke="#3a3a3a" stroke-width="0.7" stroke-opacity="0.6"/><rect x="517.3" y="478.2" width="9" height="180.6" fill="url(#cb)" stroke="#3a3a3a" stroke-width="0.7" stroke-opacity="0.6"/><text transform="translate(42.6,12.8) scale(1.04,1)" font-size="14" text-anchor="end" fill="#2c2c2c">10</text><text transform="translate(43.8,7.4) scale(1.12,1)" font-size="9.2" text-anchor="start" fill="#2c2c2c">&#8722;5</text><text transform="translate(42.6,31.5) scale(1.04,1)" font-size="14" text-anchor="end" fill="#2c2c2c">10</text><text transform="translate(43.8,25.0) scale(1.12,1)" font-size="9.2" text-anchor="start" fill="#2c2c2c">&#8722;6</text><text transform="translate(42.6,54.4) scale(1.04,1)" font-size="14" text-anchor="end" fill="#2c2c2c">10</text><text transform="translate(43.8,47.9) scale(1.12,1)" font-size="9.2" text-anchor="start" fill="#2c2c2c">&#8722;7</text><text transform="translate(42.6,77.7) scale(1.04,1)" font-size="14" text-anchor="end" fill="#2c2c2c">10</text><text transform="translate(43.8,71.2) scale(1.12,1)" font-size="9.2" text-anchor="start" fill="#2c2c2c">&#8722;8</text><text transform="translate(42.6,95.0) scale(1.04,1)" font-size="14" text-anchor="end" fill="#2c2c2c">10</text><text transform="translate(43.8,88.5) scale(1.12,1)" font-size="9.2" text-anchor="start" fill="#2c2c2c">&#8722;9</text><text transform="translate(54.8,135.3) scale(1.09,1)" font-size="14" text-anchor="end" fill="#2c2c2c">150</text><text transform="translate(54.8,183.1) scale(1.09,1)" font-size="14" text-anchor="end" fill="#2c2c2c">100</text><text transform="translate(54.8,231.0) scale(1.09,1)" font-size="14" text-anchor="end" fill="#2c2c2c">50</text><text transform="translate(54.8,278.8) scale(1.09,1)" font-size="14" text-anchor="end" fill="#2c2c2c">0</text><text transform="translate(54.8,299.8) scale(1.09,1)" font-size="14" text-anchor="end" fill="#2c2c2c">100</text><text transform="translate(54.8,416.0) scale(1.09,1)" font-size="14" text-anchor="end" fill="#2c2c2c">10</text><text transform="translate(54.8,487.7) scale(1.09,1)" font-size="14" text-anchor="end" fill="#2c2c2c">600</text><text transform="translate(54.8,516.5) scale(1.09,1)" font-size="14" text-anchor="end" fill="#2c2c2c">500</text><text transform="translate(54.8,549.4) scale(1.09,1)" font-size="14" text-anchor="end" fill="#2c2c2c">400</text><text transform="translate(54.8,581.5) scale(1.09,1)" font-size="14" text-anchor="end" fill="#2c2c2c">300</text><text transform="translate(54.8,614.5) scale(1.09,1)" font-size="14" text-anchor="end" fill="#2c2c2c">200</text><text transform="translate(54.8,647.2) scale(1.09,1)" font-size="14" text-anchor="end" fill="#2c2c2c">100</text><text transform="translate(60.2,680.0) scale(1.09,1)" font-size="14" text-anchor="middle" fill="#2c2c2c">1210</text><text transform="translate(247.4,680.0) scale(1.09,1)" font-size="14" text-anchor="middle" fill="#2c2c2c">1215</text><text transform="translate(434.5,680.0) scale(1.09,1)" font-size="14" text-anchor="middle" fill="#2c2c2c">1220</text><text transform="translate(525.0,11.6) scale(1.09,1)" font-size="12.6" text-anchor="start" fill="#222">1.6&#160;&#160;keV</text><text transform="translate(524.0,27.6) scale(1.09,1)" font-size="12.6" text-anchor="start" fill="#e87a76">3.1&#160;&#160;keV</text><text transform="translate(523.0,281.7) scale(1.04,1)" font-size="14" text-anchor="start" fill="#2c2c2c">30&#8202;&#8211;&#8202;50&#160;&#160;keV</text><text transform="translate(530.5,346.0) scale(1.09,1)" font-size="14" text-anchor="start" fill="#2c2c2c">100</text><text transform="translate(530.5,417.5) scale(1.09,1)" font-size="14" text-anchor="start" fill="#2c2c2c">10</text><text transform="translate(530.5,490.0) scale(1.09,1)" font-size="14" text-anchor="start" fill="#2c2c2c">1.0</text><text transform="translate(530.5,513.5) scale(1.09,1)" font-size="14" text-anchor="start" fill="#2c2c2c">0.8</text><text transform="translate(530.5,537.0) scale(1.09,1)" font-size="14" text-anchor="start" fill="#2c2c2c">0.6</text><text transform="translate(530.5,560.5) scale(1.09,1)" font-size="14" text-anchor="start" fill="#2c2c2c">0.4</text><text transform="translate(530.5,584.0) scale(1.09,1)" font-size="14" text-anchor="start" fill="#2c2c2c">0.2</text><text transform="translate(530.5,607.5) scale(1.09,1)" font-size="14" text-anchor="start" fill="#2c2c2c">0.0</text><text transform="translate(530.5,631.0) scale(1.09,1)" font-size="14" text-anchor="start" fill="#2c2c2c">&#8722;0.2</text><text transform="translate(530.5,654.0) scale(1.09,1)" font-size="14" text-anchor="start" fill="#2c2c2c">&#8722;0.4</text><text transform="translate(14.2,98.5) rotate(-90) scale(1,1.1)" font-size="12.8" fill="#2c2c2c" textLength="35.8" lengthAdjust="spacingAndGlyphs">GOES</text><text transform="translate(14.2,55.3) rotate(-90) scale(1,1.05)" font-size="13.2" fill="#2c2c2c" textLength="53.8" lengthAdjust="spacingAndGlyphs">(W&#160;&#160;m<tspan dy="-4.6" font-size="9.5">&#8722;2</tspan><tspan dy="4.6">)</tspan></text><text transform="translate(17.0,265.6) rotate(-90) scale(1,1.03)" font-size="13" fill="#2c2c2c" textLength="47.8" lengthAdjust="spacingAndGlyphs">RHESSI</text><text transform="translate(17.0,210.5) rotate(-90) scale(1,1.05)" font-size="13.2" fill="#2c2c2c" textLength="82.6" lengthAdjust="spacingAndGlyphs">(counts&#160;&#160;s<tspan dy="-4.6" font-size="9.5">&#8722;1</tspan><tspan dy="4.6">)</tspan></text><text transform="translate(17.0,425.4) rotate(-90) scale(1,1.03)" font-size="13" fill="#2c2c2c" textLength="47.1" lengthAdjust="spacingAndGlyphs">RHESSI</text><text transform="translate(17.0,370.3) rotate(-90) scale(1,1.05)" font-size="13.2" fill="#2c2c2c" textLength="34.1" lengthAdjust="spacingAndGlyphs">(keV)</text><text transform="translate(17.0,630.2) rotate(-90) scale(1,0.98)" font-size="13" fill="#2c2c2c" textLength="75.8" lengthAdjust="spacingAndGlyphs">HMN/PHNX</text><text transform="translate(17.0,546.0) rotate(-90) scale(1,1.0)" font-size="13.2" fill="#2c2c2c" textLength="37.9" lengthAdjust="spacingAndGlyphs">(MHz)</text></svg></body></html>
